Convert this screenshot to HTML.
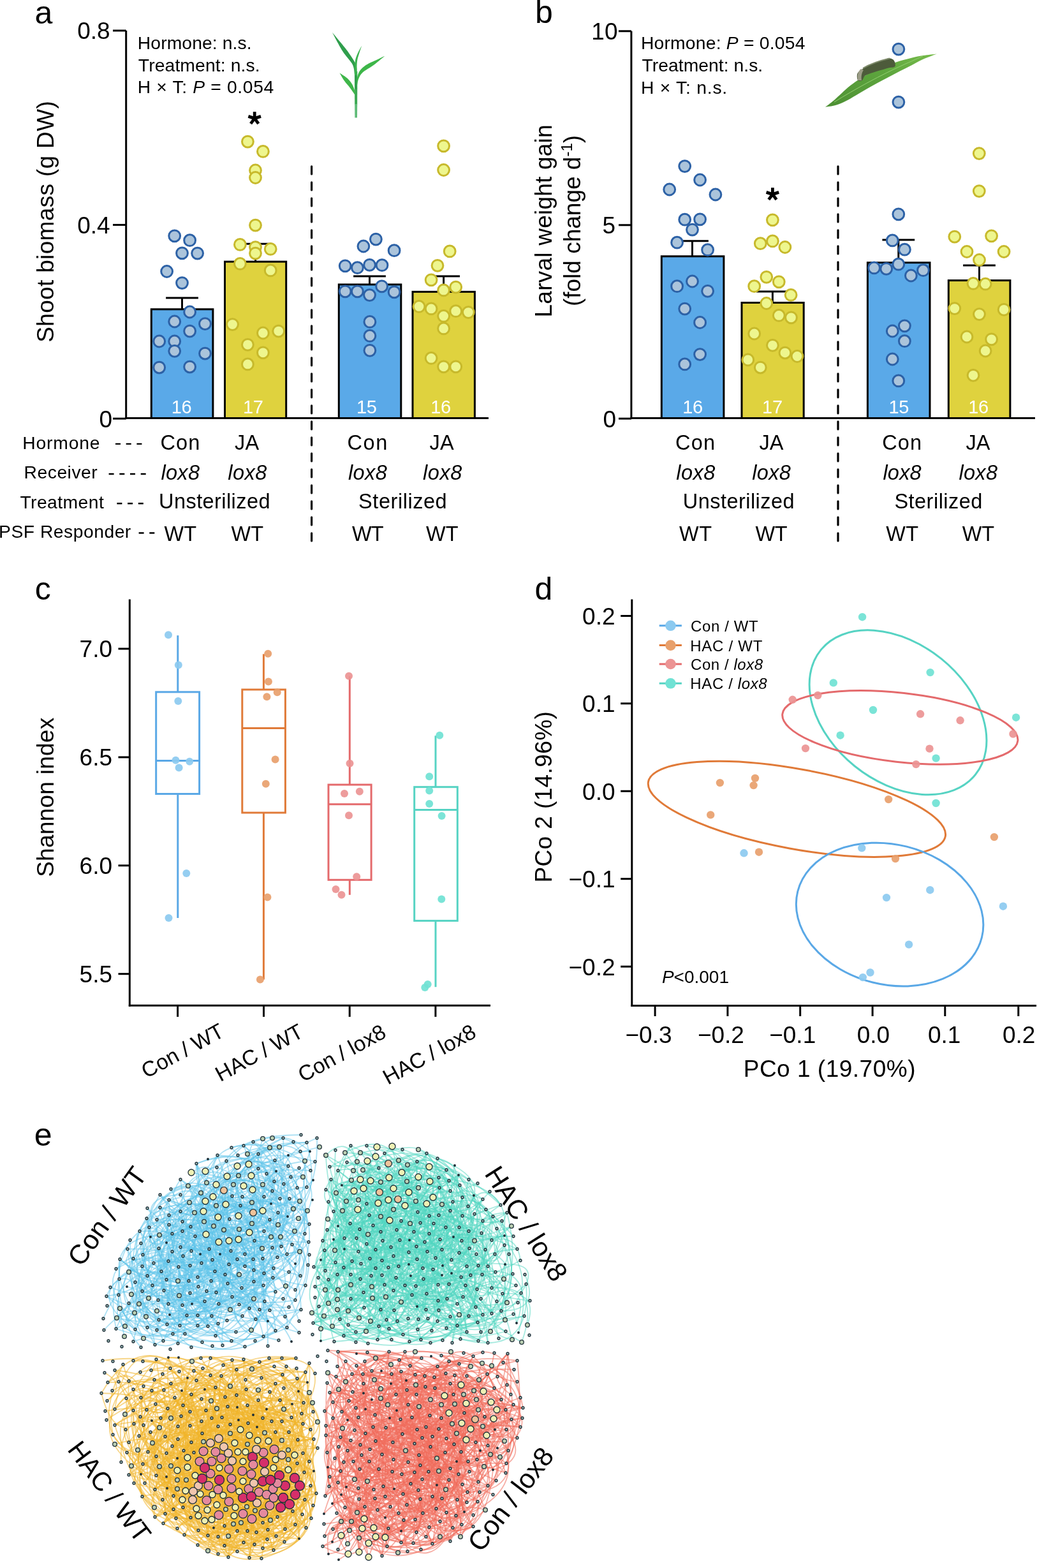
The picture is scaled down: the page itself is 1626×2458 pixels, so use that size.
<!DOCTYPE html>
<html><head><meta charset="utf-8"><title>Figure</title>
<style>html,body{margin:0;padding:0;background:#fff;} svg{display:block;}</style>
</head><body>
<svg width="1626" height="2458" viewBox="0 0 1626 2458" font-family="'Liberation Sans', Arial, sans-serif"><text x="54.6" y="36.5" font-size="50" fill="#000" >a</text>
<line x1="197.7" y1="48.0" x2="197.7" y2="657.0" stroke="#000" stroke-width="3" />
<line x1="177.0" y1="48.0" x2="197.7" y2="48.0" stroke="#000" stroke-width="3" />
<text x="172.6" y="61.3" font-size="37" text-anchor="end" fill="#000" >0.8</text>
<line x1="177.0" y1="352.5" x2="197.7" y2="352.5" stroke="#000" stroke-width="3" />
<text x="172.6" y="365.8" font-size="37" text-anchor="end" fill="#000" >0.4</text>
<line x1="177.0" y1="656.2" x2="197.7" y2="656.2" stroke="#000" stroke-width="3" />
<text x="176.0" y="669.5" font-size="37" text-anchor="end" fill="#000" >0</text>
<line x1="196.2" y1="655.5" x2="766.0" y2="655.5" stroke="#000" stroke-width="3" />
<text transform="translate(84.2,347.5) rotate(-90)" font-size="37" text-anchor="middle" textLength="378.5" lengthAdjust="spacing">Shoot biomass (g DW)</text>
<text x="215.8" y="76.8" font-size="28.3" textLength="178.8" lengthAdjust="spacing" fill="#000" >Hormone: n.s.</text>
<text x="216.8" y="111.8" font-size="28.3" textLength="190.8" lengthAdjust="spacing" fill="#000" >Treatment: n.s.</text>
<text x="215.8" y="146.4" font-size="28.3" textLength="213.5" lengthAdjust="spacing" fill="#000" >H × T: <tspan font-style="italic">P</tspan> = 0.054</text>
<rect x="237.3" y="484.8" width="96.6" height="170.7" fill="#5aa9e8" stroke="#000" stroke-width="3"/>
<rect x="352.5" y="410.2" width="96.2" height="245.3" fill="#dfd23e" stroke="#000" stroke-width="3"/>
<rect x="531.3" y="446.0" width="97.5" height="209.5" fill="#5aa9e8" stroke="#000" stroke-width="3"/>
<rect x="647.0" y="457.4" width="97.4" height="198.1" fill="#dfd23e" stroke="#000" stroke-width="3"/>
<line x1="285.5" y1="467.0" x2="285.5" y2="484.8" stroke="#000" stroke-width="3" />
<line x1="260.1" y1="467.0" x2="310.9" y2="467.0" stroke="#000" stroke-width="3" />
<line x1="400.6" y1="382.2" x2="400.6" y2="410.2" stroke="#000" stroke-width="3" />
<line x1="375.2" y1="382.2" x2="426.0" y2="382.2" stroke="#000" stroke-width="3" />
<line x1="579.5" y1="432.9" x2="579.5" y2="446.0" stroke="#000" stroke-width="3" />
<line x1="554.1" y1="432.9" x2="604.9" y2="432.9" stroke="#000" stroke-width="3" />
<line x1="695.6" y1="432.9" x2="695.6" y2="457.4" stroke="#000" stroke-width="3" />
<line x1="670.2" y1="432.9" x2="721.0" y2="432.9" stroke="#000" stroke-width="3" />
<text x="268.8" y="648.4" font-size="29" textLength="31.9" lengthAdjust="spacing" fill="#ffffff" >16</text>
<text x="380.9" y="648.4" font-size="29" textLength="32.1" lengthAdjust="spacing" fill="#ffffff" >17</text>
<text x="559.0" y="648.4" font-size="29" textLength="31.9" lengthAdjust="spacing" fill="#ffffff" >15</text>
<text x="675.2" y="648.4" font-size="29" textLength="31.9" lengthAdjust="spacing" fill="#ffffff" >16</text>
<circle cx="273.7" cy="369.8" r="8.9" fill="#abc4db" stroke="#2c61a6" stroke-width="3" />
<circle cx="297.6" cy="376.7" r="8.9" fill="#abc4db" stroke="#2c61a6" stroke-width="3" />
<circle cx="285.5" cy="396.8" r="8.9" fill="#abc4db" stroke="#2c61a6" stroke-width="3" />
<circle cx="309.6" cy="397.1" r="8.9" fill="#abc4db" stroke="#2c61a6" stroke-width="3" />
<circle cx="261.6" cy="425.5" r="8.9" fill="#abc4db" stroke="#2c61a6" stroke-width="3" />
<circle cx="285.5" cy="443.6" r="8.9" fill="#abc4db" stroke="#2c61a6" stroke-width="3" />
<circle cx="297.6" cy="489.0" r="8.9" fill="#abc4db" stroke="#2c61a6" stroke-width="3" />
<circle cx="273.7" cy="504.0" r="8.9" fill="#abc4db" stroke="#2c61a6" stroke-width="3" />
<circle cx="321.5" cy="507.6" r="8.9" fill="#abc4db" stroke="#2c61a6" stroke-width="3" />
<circle cx="297.6" cy="519.1" r="8.9" fill="#abc4db" stroke="#2c61a6" stroke-width="3" />
<circle cx="249.7" cy="535.0" r="8.9" fill="#abc4db" stroke="#2c61a6" stroke-width="3" />
<circle cx="273.7" cy="535.0" r="8.9" fill="#abc4db" stroke="#2c61a6" stroke-width="3" />
<circle cx="273.7" cy="550.3" r="8.9" fill="#abc4db" stroke="#2c61a6" stroke-width="3" />
<circle cx="321.5" cy="554.1" r="8.9" fill="#abc4db" stroke="#2c61a6" stroke-width="3" />
<circle cx="249.7" cy="576.1" r="8.9" fill="#abc4db" stroke="#2c61a6" stroke-width="3" />
<circle cx="297.6" cy="575.1" r="8.9" fill="#abc4db" stroke="#2c61a6" stroke-width="3" />
<circle cx="589.4" cy="375.1" r="8.9" fill="#abc4db" stroke="#2c61a6" stroke-width="3" />
<circle cx="569.9" cy="386.0" r="8.9" fill="#abc4db" stroke="#2c61a6" stroke-width="3" />
<circle cx="618.1" cy="392.7" r="8.9" fill="#abc4db" stroke="#2c61a6" stroke-width="3" />
<circle cx="541.2" cy="416.8" r="8.9" fill="#abc4db" stroke="#2c61a6" stroke-width="3" />
<circle cx="560.4" cy="419.7" r="8.9" fill="#abc4db" stroke="#2c61a6" stroke-width="3" />
<circle cx="579.5" cy="415.3" r="8.9" fill="#abc4db" stroke="#2c61a6" stroke-width="3" />
<circle cx="599.0" cy="415.7" r="8.9" fill="#abc4db" stroke="#2c61a6" stroke-width="3" />
<circle cx="598.6" cy="448.8" r="8.9" fill="#abc4db" stroke="#2c61a6" stroke-width="3" />
<circle cx="541.2" cy="456.8" r="8.9" fill="#abc4db" stroke="#2c61a6" stroke-width="3" />
<circle cx="560.4" cy="456.8" r="8.9" fill="#abc4db" stroke="#2c61a6" stroke-width="3" />
<circle cx="579.5" cy="462.6" r="8.9" fill="#abc4db" stroke="#2c61a6" stroke-width="3" />
<circle cx="618.1" cy="457.8" r="8.9" fill="#abc4db" stroke="#2c61a6" stroke-width="3" />
<circle cx="579.9" cy="504.4" r="8.9" fill="#abc4db" stroke="#2c61a6" stroke-width="3" />
<circle cx="579.9" cy="526.4" r="8.9" fill="#abc4db" stroke="#2c61a6" stroke-width="3" />
<circle cx="579.9" cy="549.3" r="8.9" fill="#abc4db" stroke="#2c61a6" stroke-width="3" />
<circle cx="388.4" cy="222.1" r="8.9" fill="#eef68e" stroke="#c7b92b" stroke-width="3" />
<circle cx="412.4" cy="237.4" r="8.9" fill="#eef68e" stroke="#c7b92b" stroke-width="3" />
<circle cx="400.5" cy="267.0" r="8.9" fill="#eef68e" stroke="#c7b92b" stroke-width="3" />
<circle cx="400.5" cy="278.5" r="8.9" fill="#eef68e" stroke="#c7b92b" stroke-width="3" />
<circle cx="400.5" cy="353.1" r="8.9" fill="#eef68e" stroke="#c7b92b" stroke-width="3" />
<circle cx="376.4" cy="383.4" r="8.9" fill="#eef68e" stroke="#c7b92b" stroke-width="3" />
<circle cx="400.5" cy="387.6" r="8.9" fill="#eef68e" stroke="#c7b92b" stroke-width="3" />
<circle cx="400.5" cy="397.1" r="8.9" fill="#eef68e" stroke="#c7b92b" stroke-width="3" />
<circle cx="424.2" cy="390.4" r="8.9" fill="#eef68e" stroke="#c7b92b" stroke-width="3" />
<circle cx="376.4" cy="413.4" r="8.9" fill="#eef68e" stroke="#c7b92b" stroke-width="3" />
<circle cx="424.2" cy="423.9" r="8.9" fill="#eef68e" stroke="#c7b92b" stroke-width="3" />
<circle cx="364.5" cy="508.6" r="8.9" fill="#eef68e" stroke="#c7b92b" stroke-width="3" />
<circle cx="412.4" cy="522.0" r="8.9" fill="#eef68e" stroke="#c7b92b" stroke-width="3" />
<circle cx="436.7" cy="519.1" r="8.9" fill="#eef68e" stroke="#c7b92b" stroke-width="3" />
<circle cx="388.4" cy="540.3" r="8.9" fill="#eef68e" stroke="#c7b92b" stroke-width="3" />
<circle cx="412.4" cy="552.8" r="8.9" fill="#eef68e" stroke="#c7b92b" stroke-width="3" />
<circle cx="388.4" cy="570.9" r="8.9" fill="#eef68e" stroke="#c7b92b" stroke-width="3" />
<circle cx="695.6" cy="228.8" r="8.9" fill="#eef68e" stroke="#c7b92b" stroke-width="3" />
<circle cx="695.6" cy="266.5" r="8.9" fill="#eef68e" stroke="#c7b92b" stroke-width="3" />
<circle cx="705.2" cy="393.9" r="8.9" fill="#eef68e" stroke="#c7b92b" stroke-width="3" />
<circle cx="686.0" cy="416.3" r="8.9" fill="#eef68e" stroke="#c7b92b" stroke-width="3" />
<circle cx="676.1" cy="438.8" r="8.9" fill="#eef68e" stroke="#c7b92b" stroke-width="3" />
<circle cx="714.7" cy="450.1" r="8.9" fill="#eef68e" stroke="#c7b92b" stroke-width="3" />
<circle cx="695.6" cy="454.9" r="8.9" fill="#eef68e" stroke="#c7b92b" stroke-width="3" />
<circle cx="657.0" cy="480.4" r="8.9" fill="#eef68e" stroke="#c7b92b" stroke-width="3" />
<circle cx="676.1" cy="483.9" r="8.9" fill="#eef68e" stroke="#c7b92b" stroke-width="3" />
<circle cx="695.6" cy="495.4" r="8.9" fill="#eef68e" stroke="#c7b92b" stroke-width="3" />
<circle cx="714.7" cy="487.7" r="8.9" fill="#eef68e" stroke="#c7b92b" stroke-width="3" />
<circle cx="734.4" cy="489.6" r="8.9" fill="#eef68e" stroke="#c7b92b" stroke-width="3" />
<circle cx="695.6" cy="514.9" r="8.9" fill="#eef68e" stroke="#c7b92b" stroke-width="3" />
<circle cx="676.1" cy="561.4" r="8.9" fill="#eef68e" stroke="#c7b92b" stroke-width="3" />
<circle cx="695.6" cy="574.8" r="8.9" fill="#eef68e" stroke="#c7b92b" stroke-width="3" />
<circle cx="714.7" cy="574.8" r="8.9" fill="#eef68e" stroke="#c7b92b" stroke-width="3" />
<path d="M399.2 185.6L399.2 175.3M399.2 185.6L409.0 182.4M399.2 185.6L405.3 193.9M399.2 185.6L393.1 193.9M399.2 185.6L389.4 182.4" stroke="#000" stroke-width="4.8" stroke-linecap="butt"/>
<line x1="488.6" y1="260.8" x2="488.6" y2="848.0" stroke="#000" stroke-width="3.2" stroke-dasharray="12.1 12.9" stroke-linecap="round"/>
<text x="35.2" y="703.9" font-size="28.3" textLength="121.4" lengthAdjust="spacing" fill="#000" >Hormone</text>
<text x="37.6" y="750.2" font-size="28.3" textLength="115.1" lengthAdjust="spacing" fill="#000" >Receiver</text>
<text x="31.4" y="797.2" font-size="28.3" textLength="131.4" lengthAdjust="spacing" fill="#000" >Treatment</text>
<text x="-1.9" y="843.4" font-size="28.3" textLength="207.2" lengthAdjust="spacing" fill="#000" >PSF Responder</text>
<line x1="181.0" y1="695.9" x2="223.2" y2="695.9" stroke="#000" stroke-width="2.4" stroke-dasharray="8 8.7"/>
<line x1="170.6" y1="743.0" x2="229.6" y2="743.0" stroke="#000" stroke-width="2.4" stroke-dasharray="8 8.7"/>
<line x1="183.4" y1="789.2" x2="225.6" y2="789.2" stroke="#000" stroke-width="2.4" stroke-dasharray="8 8.7"/>
<line x1="217.6" y1="835.5" x2="242.3" y2="835.5" stroke="#000" stroke-width="2.4" stroke-dasharray="8 8.7"/>
<text x="251.4" y="705.2" font-size="32.5" textLength="61.9" lengthAdjust="spacing" fill="#000" >Con</text>
<text x="368.0" y="705.2" font-size="32.5" textLength="38.3" lengthAdjust="spacing" fill="#000" >JA</text>
<text x="252.4" y="752.1" font-size="32.5" textLength="60.6" lengthAdjust="spacing" fill="#000" ><tspan font-style="italic">lox8</tspan></text>
<text x="357.2" y="752.1" font-size="32.5" textLength="61.1" lengthAdjust="spacing" fill="#000" ><tspan font-style="italic">lox8</tspan></text>
<text x="249.1" y="796.8" font-size="32.5" textLength="174.4" lengthAdjust="spacing" fill="#000" >Unsterilized</text>
<text x="257.6" y="848.2" font-size="32.5" textLength="50.5" lengthAdjust="spacing" fill="#000" >WT</text>
<text x="362.4" y="848.2" font-size="32.5" textLength="50.6" lengthAdjust="spacing" fill="#000" >WT</text>
<text x="544.6" y="705.2" font-size="32.5" textLength="62.7" lengthAdjust="spacing" fill="#000" >Con</text>
<text x="673.5" y="705.2" font-size="32.5" textLength="38.1" lengthAdjust="spacing" fill="#000" >JA</text>
<text x="545.9" y="752.1" font-size="32.5" textLength="60.9" lengthAdjust="spacing" fill="#000" ><tspan font-style="italic">lox8</tspan></text>
<text x="663.0" y="752.1" font-size="32.5" textLength="61.4" lengthAdjust="spacing" fill="#000" ><tspan font-style="italic">lox8</tspan></text>
<text x="562.1" y="796.8" font-size="32.5" textLength="138.6" lengthAdjust="spacing" fill="#000" >Sterilized</text>
<text x="551.9" y="848.2" font-size="32.5" textLength="49.6" lengthAdjust="spacing" fill="#000" >WT</text>
<text x="668.1" y="848.2" font-size="32.5" textLength="50.4" lengthAdjust="spacing" fill="#000" >WT</text>
<g>
<path d="M556 112L560.3 112L560.2 163.5L556.2 163.5Z" fill="#3aa852"/>
<path d="M556.2 163L560.2 163L560 184.6L556.4 184.6Z" fill="#5fbb78"/>
<path d="M521.0 50.7C523.1 54.7 530.3 68.5 533.7 74.4C537.1 80.3 538.1 81.4 541.3 85.9C544.5 90.4 550.4 96.1 552.8 101.2C555.2 106.3 555.3 110.1 555.9 116.5C556.5 122.9 556.5 135.7 556.6 139.5L560.1 139.5C560.0 135.7 560.0 122.9 559.7 116.5C559.4 110.1 559.9 106.3 558.1 101.2C556.3 96.1 551.9 90.4 549.0 85.9C546.1 81.4 545.3 80.3 540.6 74.4C535.9 68.5 524.3 54.7 521.0 50.7Z" fill="#2f9e4c"/>
<path d="M567.3 71.4C566.3 73.3 562.9 79.1 561.2 82.8C559.5 86.5 558.1 89.9 557.3 93.6C556.5 97.3 556.4 100.9 556.2 105.0C556.0 109.1 556.2 115.8 556.2 118.0L559.5 118.0C559.5 115.8 559.4 109.1 559.5 105.0C559.6 100.9 559.7 97.3 560.4 93.6C561.1 89.9 562.4 86.5 563.5 82.8C564.6 79.1 566.7 73.3 567.3 71.4Z" fill="#3bb34f"/>
<path d="M603.3 87.8C600.8 89.0 592.5 93.0 588.0 95.1C583.5 97.2 579.7 98.6 576.5 100.4C573.3 102.2 571.2 103.6 568.9 105.8C566.6 108.0 564.2 110.7 562.7 113.4C561.2 116.1 560.2 120.5 559.7 121.9L559.7 135.6C560.1 133.7 560.7 127.6 562.0 124.2C563.3 120.8 564.9 117.7 567.3 115.0C569.7 112.3 573.0 110.5 576.5 108.1C580.0 105.7 583.5 103.8 588.0 100.4C592.5 97.0 600.8 89.9 603.3 87.8Z" fill="#3db649"/>
<path d="M532.5 114.2C534.5 115.6 541.1 119.7 544.4 122.6C547.6 125.5 549.9 128.4 552.0 131.8C554.1 135.2 556.0 141.4 556.8 143.3L556.8 149.0C555.5 147.2 551.8 141.7 549.0 137.9C546.2 134.2 542.5 130.4 539.8 126.5C537.0 122.5 533.7 116.2 532.5 114.2Z" fill="#3fb64a"/>
</g>
<text x="839.0" y="36.3" font-size="50" fill="#000" >b</text>
<line x1="989.9" y1="48.8" x2="989.9" y2="657.0" stroke="#000" stroke-width="3" />
<line x1="970.0" y1="48.8" x2="989.9" y2="48.8" stroke="#000" stroke-width="3" />
<text x="968.5" y="62.1" font-size="37" text-anchor="end" fill="#000" >10</text>
<line x1="970.0" y1="352.8" x2="989.9" y2="352.8" stroke="#000" stroke-width="3" />
<text x="965.0" y="366.1" font-size="37" text-anchor="end" fill="#000" >5</text>
<line x1="970.0" y1="656.2" x2="989.9" y2="656.2" stroke="#000" stroke-width="3" />
<text x="966.0" y="669.5" font-size="37" text-anchor="end" fill="#000" >0</text>
<line x1="988.4" y1="655.5" x2="1623.0" y2="655.5" stroke="#000" stroke-width="3" />
<text transform="translate(864.7,346.4) rotate(-90)" font-size="37" text-anchor="middle" textLength="302.1" lengthAdjust="spacing">Larval weight gain</text>
<text transform="translate(909.9,346) rotate(-90)" font-size="37" text-anchor="middle">(fold change d<tspan font-size="24" dy="-13">-1</tspan><tspan dy="13">)</tspan></text>
<text x="1004.9" y="76.7" font-size="28.3" textLength="257.5" lengthAdjust="spacing" fill="#000" >Hormone: <tspan font-style="italic">P</tspan> = 0.054</text>
<text x="1006.6" y="111.6" font-size="28.3" textLength="189.6" lengthAdjust="spacing" fill="#000" >Treatment: n.s.</text>
<text x="1004.9" y="146.5" font-size="28.3" textLength="135.3" lengthAdjust="spacing" fill="#000" >H × T: n.s.</text>
<rect x="1037.3" y="401.8" width="97.6" height="253.7" fill="#5aa9e8" stroke="#000" stroke-width="3"/>
<rect x="1163.0" y="474.5" width="97.2" height="181.0" fill="#dfd23e" stroke="#000" stroke-width="3"/>
<rect x="1360.4" y="411.7" width="97.6" height="243.8" fill="#5aa9e8" stroke="#000" stroke-width="3"/>
<rect x="1487.3" y="439.6" width="96.6" height="215.9" fill="#dfd23e" stroke="#000" stroke-width="3"/>
<line x1="1085.5" y1="377.7" x2="1085.5" y2="401.8" stroke="#000" stroke-width="3" />
<line x1="1060.1" y1="377.7" x2="1110.9" y2="377.7" stroke="#000" stroke-width="3" />
<line x1="1211.4" y1="457.1" x2="1211.4" y2="474.5" stroke="#000" stroke-width="3" />
<line x1="1186.0" y1="457.1" x2="1236.8" y2="457.1" stroke="#000" stroke-width="3" />
<line x1="1408.8" y1="375.9" x2="1408.8" y2="411.7" stroke="#000" stroke-width="3" />
<line x1="1383.4" y1="375.9" x2="1434.2" y2="375.9" stroke="#000" stroke-width="3" />
<line x1="1535.5" y1="416.1" x2="1535.5" y2="439.6" stroke="#000" stroke-width="3" />
<line x1="1510.1" y1="416.1" x2="1560.9" y2="416.1" stroke="#000" stroke-width="3" />
<text x="1070.2" y="648.4" font-size="29" textLength="31.9" lengthAdjust="spacing" fill="#ffffff" >16</text>
<text x="1195.0" y="648.4" font-size="29" textLength="32.1" lengthAdjust="spacing" fill="#ffffff" >17</text>
<text x="1393.5" y="648.4" font-size="29" textLength="31.9" lengthAdjust="spacing" fill="#ffffff" >15</text>
<text x="1518.2" y="648.4" font-size="29" textLength="31.9" lengthAdjust="spacing" fill="#ffffff" >16</text>
<defs><linearGradient id="lg" x1="0" y1="1" x2="1" y2="0"><stop offset="0" stop-color="#4c8f33"/><stop offset="0.6" stop-color="#5ea63e"/><stop offset="1" stop-color="#76bb4a"/></linearGradient></defs>
<path d="M1294.2 167.7C1295.9 166.4 1300.8 162.9 1304.5 159.8C1308.2 156.7 1312.5 152.7 1316.7 148.9C1321.0 145.1 1325.4 140.6 1330.0 136.8C1334.6 133.0 1339.0 129.5 1344.5 125.9C1350.0 122.3 1356.4 118.4 1362.7 115.0C1369.0 111.6 1375.0 108.2 1382.1 105.3C1389.2 102.4 1397.2 99.8 1405.1 97.4C1413.0 95.0 1422.2 92.5 1429.3 90.8C1436.4 89.1 1440.9 88.1 1447.5 87.1C1454.1 86.0 1465.2 84.9 1468.7 84.5L1468.7 84.5C1464.9 86.0 1452.6 90.5 1446.0 93.5C1439.4 96.5 1434.8 99.5 1429.0 102.5C1423.2 105.5 1417.0 108.4 1411.0 111.5C1405.0 114.6 1399.0 117.8 1393.0 121.0C1387.0 124.2 1380.8 127.3 1375.0 130.5C1369.2 133.7 1363.5 136.8 1358.0 140.0C1352.5 143.2 1347.3 146.4 1342.0 149.5C1336.7 152.6 1331.3 155.9 1326.0 158.5C1320.7 161.1 1315.3 163.5 1310.0 165.0C1304.7 166.5 1296.8 167.2 1294.2 167.7Z" fill="url(#lg)"/>
<path d="M1308 160C1340 140 1380 118 1420 100C1432 95 1440 91 1447 88" stroke="#93cf70" stroke-width="1" fill="none"/>
<path d="M1345.1 125.9C1343.9 124.1 1343.2 118.0 1344.5 115.0C1345.8 112.0 1350.0 109.8 1353.0 107.7C1356.0 105.6 1359.1 104.0 1362.7 102.3C1366.3 100.6 1370.8 98.9 1374.8 97.4C1378.8 95.9 1383.5 94.2 1386.9 93.2C1390.3 92.2 1393.0 91.2 1395.4 91.4C1397.8 91.6 1400.1 92.7 1401.5 94.4C1402.9 96.1 1403.9 99.9 1403.9 101.7C1403.9 103.5 1403.3 104.5 1401.5 105.3C1399.7 106.1 1396.4 105.7 1393.0 106.5C1389.6 107.3 1384.9 108.9 1380.9 110.1C1376.9 111.3 1372.8 112.4 1368.8 113.8C1364.8 115.2 1359.4 116.6 1356.6 118.6C1353.8 120.6 1353.7 124.7 1351.8 125.9C1349.9 127.1 1346.3 127.7 1345.1 125.9Z" fill="#4d5b3b"/>
<path d="M1345 126C1344 118 1345 112 1350 108L1354 110C1351 114 1350 120 1351 126Z" fill="#9c9d88"/>
<path d="M1353 107C1365 100 1380 95 1395 91.5" stroke="#7d8a6a" stroke-width="2" fill="none"/>
<circle cx="1073.7" cy="260.6" r="8.9" fill="#abc4db" stroke="#2c61a6" stroke-width="3" />
<circle cx="1097.6" cy="282.0" r="8.9" fill="#abc4db" stroke="#2c61a6" stroke-width="3" />
<circle cx="1049.7" cy="297.0" r="8.9" fill="#abc4db" stroke="#2c61a6" stroke-width="3" />
<circle cx="1121.9" cy="305.0" r="8.9" fill="#abc4db" stroke="#2c61a6" stroke-width="3" />
<circle cx="1073.7" cy="344.2" r="8.9" fill="#abc4db" stroke="#2c61a6" stroke-width="3" />
<circle cx="1097.6" cy="343.8" r="8.9" fill="#abc4db" stroke="#2c61a6" stroke-width="3" />
<circle cx="1085.5" cy="360.1" r="8.9" fill="#abc4db" stroke="#2c61a6" stroke-width="3" />
<circle cx="1061.6" cy="380.2" r="8.9" fill="#abc4db" stroke="#2c61a6" stroke-width="3" />
<circle cx="1109.6" cy="391.7" r="8.9" fill="#abc4db" stroke="#2c61a6" stroke-width="3" />
<circle cx="1061.6" cy="448.7" r="8.9" fill="#abc4db" stroke="#2c61a6" stroke-width="3" />
<circle cx="1085.5" cy="441.0" r="8.9" fill="#abc4db" stroke="#2c61a6" stroke-width="3" />
<circle cx="1109.6" cy="456.3" r="8.9" fill="#abc4db" stroke="#2c61a6" stroke-width="3" />
<circle cx="1073.7" cy="484.1" r="8.9" fill="#abc4db" stroke="#2c61a6" stroke-width="3" />
<circle cx="1097.6" cy="505.5" r="8.9" fill="#abc4db" stroke="#2c61a6" stroke-width="3" />
<circle cx="1097.6" cy="555.6" r="8.9" fill="#abc4db" stroke="#2c61a6" stroke-width="3" />
<circle cx="1073.7" cy="570.9" r="8.9" fill="#abc4db" stroke="#2c61a6" stroke-width="3" />
<circle cx="1408.9" cy="77.1" r="8.9" fill="#abc4db" stroke="#2c61a6" stroke-width="3" />
<circle cx="1408.9" cy="160.1" r="8.9" fill="#abc4db" stroke="#2c61a6" stroke-width="3" />
<circle cx="1408.8" cy="335.8" r="8.9" fill="#abc4db" stroke="#2c61a6" stroke-width="3" />
<circle cx="1399.3" cy="376.9" r="8.9" fill="#abc4db" stroke="#2c61a6" stroke-width="3" />
<circle cx="1418.4" cy="391.2" r="8.9" fill="#abc4db" stroke="#2c61a6" stroke-width="3" />
<circle cx="1408.8" cy="414.2" r="8.9" fill="#abc4db" stroke="#2c61a6" stroke-width="3" />
<circle cx="1370.6" cy="419.9" r="8.9" fill="#abc4db" stroke="#2c61a6" stroke-width="3" />
<circle cx="1389.7" cy="421.3" r="8.9" fill="#abc4db" stroke="#2c61a6" stroke-width="3" />
<circle cx="1428.4" cy="432.0" r="8.9" fill="#abc4db" stroke="#2c61a6" stroke-width="3" />
<circle cx="1447.5" cy="423.7" r="8.9" fill="#abc4db" stroke="#2c61a6" stroke-width="3" />
<circle cx="1418.4" cy="510.8" r="8.9" fill="#abc4db" stroke="#2c61a6" stroke-width="3" />
<circle cx="1399.3" cy="519.0" r="8.9" fill="#abc4db" stroke="#2c61a6" stroke-width="3" />
<circle cx="1418.4" cy="534.7" r="8.9" fill="#abc4db" stroke="#2c61a6" stroke-width="3" />
<circle cx="1399.3" cy="563.0" r="8.9" fill="#abc4db" stroke="#2c61a6" stroke-width="3" />
<circle cx="1408.8" cy="596.9" r="8.9" fill="#abc4db" stroke="#2c61a6" stroke-width="3" />
<circle cx="1211.4" cy="344.8" r="8.9" fill="#eef68e" stroke="#c7b92b" stroke-width="3" />
<circle cx="1192.3" cy="381.7" r="8.9" fill="#eef68e" stroke="#c7b92b" stroke-width="3" />
<circle cx="1211.4" cy="377.9" r="8.9" fill="#eef68e" stroke="#c7b92b" stroke-width="3" />
<circle cx="1230.9" cy="387.5" r="8.9" fill="#eef68e" stroke="#c7b92b" stroke-width="3" />
<circle cx="1201.8" cy="434.3" r="8.9" fill="#eef68e" stroke="#c7b92b" stroke-width="3" />
<circle cx="1221.3" cy="441.8" r="8.9" fill="#eef68e" stroke="#c7b92b" stroke-width="3" />
<circle cx="1182.7" cy="448.7" r="8.9" fill="#eef68e" stroke="#c7b92b" stroke-width="3" />
<circle cx="1240.1" cy="462.4" r="8.9" fill="#eef68e" stroke="#c7b92b" stroke-width="3" />
<circle cx="1201.8" cy="475.5" r="8.9" fill="#eef68e" stroke="#c7b92b" stroke-width="3" />
<circle cx="1221.3" cy="494.4" r="8.9" fill="#eef68e" stroke="#c7b92b" stroke-width="3" />
<circle cx="1240.5" cy="497.8" r="8.9" fill="#eef68e" stroke="#c7b92b" stroke-width="3" />
<circle cx="1182.7" cy="523.0" r="8.9" fill="#eef68e" stroke="#c7b92b" stroke-width="3" />
<circle cx="1211.4" cy="541.3" r="8.9" fill="#eef68e" stroke="#c7b92b" stroke-width="3" />
<circle cx="1230.9" cy="553.1" r="8.9" fill="#eef68e" stroke="#c7b92b" stroke-width="3" />
<circle cx="1250.0" cy="558.5" r="8.9" fill="#eef68e" stroke="#c7b92b" stroke-width="3" />
<circle cx="1172.8" cy="564.0" r="8.9" fill="#eef68e" stroke="#c7b92b" stroke-width="3" />
<circle cx="1192.3" cy="576.1" r="8.9" fill="#eef68e" stroke="#c7b92b" stroke-width="3" />
<circle cx="1535.3" cy="240.6" r="8.9" fill="#eef68e" stroke="#c7b92b" stroke-width="3" />
<circle cx="1535.3" cy="299.6" r="8.9" fill="#eef68e" stroke="#c7b92b" stroke-width="3" />
<circle cx="1496.8" cy="371.1" r="8.9" fill="#eef68e" stroke="#c7b92b" stroke-width="3" />
<circle cx="1554.6" cy="369.8" r="8.9" fill="#eef68e" stroke="#c7b92b" stroke-width="3" />
<circle cx="1516.0" cy="394.5" r="8.9" fill="#eef68e" stroke="#c7b92b" stroke-width="3" />
<circle cx="1574.1" cy="394.5" r="8.9" fill="#eef68e" stroke="#c7b92b" stroke-width="3" />
<circle cx="1535.5" cy="407.5" r="8.9" fill="#eef68e" stroke="#c7b92b" stroke-width="3" />
<circle cx="1526.0" cy="444.4" r="8.9" fill="#eef68e" stroke="#c7b92b" stroke-width="3" />
<circle cx="1545.1" cy="445.2" r="8.9" fill="#eef68e" stroke="#c7b92b" stroke-width="3" />
<circle cx="1496.8" cy="483.6" r="8.9" fill="#eef68e" stroke="#c7b92b" stroke-width="3" />
<circle cx="1535.5" cy="492.6" r="8.9" fill="#eef68e" stroke="#c7b92b" stroke-width="3" />
<circle cx="1574.1" cy="485.3" r="8.9" fill="#eef68e" stroke="#c7b92b" stroke-width="3" />
<circle cx="1516.0" cy="528.0" r="8.9" fill="#eef68e" stroke="#c7b92b" stroke-width="3" />
<circle cx="1554.6" cy="531.8" r="8.9" fill="#eef68e" stroke="#c7b92b" stroke-width="3" />
<circle cx="1545.1" cy="550.0" r="8.9" fill="#eef68e" stroke="#c7b92b" stroke-width="3" />
<circle cx="1526.0" cy="588.3" r="8.9" fill="#eef68e" stroke="#c7b92b" stroke-width="3" />
<path d="M1211.4 304.6L1211.4 294.3M1211.4 304.6L1221.2 301.4M1211.4 304.6L1217.5 312.9M1211.4 304.6L1205.3 312.9M1211.4 304.6L1201.6 301.4" stroke="#000" stroke-width="4.8" stroke-linecap="butt"/>
<line x1="1314.0" y1="260.8" x2="1314.0" y2="848.0" stroke="#000" stroke-width="3.2" stroke-dasharray="12.1 12.9" stroke-linecap="round"/>
<text x="1059.0" y="705.2" font-size="32.5" textLength="62.0" lengthAdjust="spacing" fill="#000" >Con</text>
<text x="1190.4" y="705.2" font-size="32.5" textLength="38.0" lengthAdjust="spacing" fill="#000" >JA</text>
<text x="1060.2" y="752.1" font-size="32.5" textLength="61.1" lengthAdjust="spacing" fill="#000" ><tspan font-style="italic">lox8</tspan></text>
<text x="1179.3" y="752.1" font-size="32.5" textLength="60.6" lengthAdjust="spacing" fill="#000" ><tspan font-style="italic">lox8</tspan></text>
<text x="1070.7" y="796.8" font-size="32.5" textLength="174.9" lengthAdjust="spacing" fill="#000" >Unsterilized</text>
<text x="1065.0" y="848.2" font-size="32.5" textLength="51.0" lengthAdjust="spacing" fill="#000" >WT</text>
<text x="1184.5" y="848.2" font-size="32.5" textLength="50.0" lengthAdjust="spacing" fill="#000" >WT</text>
<text x="1383.2" y="705.2" font-size="32.5" textLength="61.9" lengthAdjust="spacing" fill="#000" >Con</text>
<text x="1514.5" y="705.2" font-size="32.5" textLength="38.0" lengthAdjust="spacing" fill="#000" >JA</text>
<text x="1384.4" y="752.1" font-size="32.5" textLength="60.3" lengthAdjust="spacing" fill="#000" ><tspan font-style="italic">lox8</tspan></text>
<text x="1503.4" y="752.1" font-size="32.5" textLength="60.6" lengthAdjust="spacing" fill="#000" ><tspan font-style="italic">lox8</tspan></text>
<text x="1402.4" y="796.8" font-size="32.5" textLength="138.0" lengthAdjust="spacing" fill="#000" >Sterilized</text>
<text x="1389.2" y="848.2" font-size="32.5" textLength="50.9" lengthAdjust="spacing" fill="#000" >WT</text>
<text x="1508.7" y="848.2" font-size="32.5" textLength="50.5" lengthAdjust="spacing" fill="#000" >WT</text>
<text x="54.8" y="940.3" font-size="50" fill="#000" >c</text>
<line x1="203.3" y1="939.4" x2="203.3" y2="1577.8" stroke="#000" stroke-width="3" />
<line x1="201.8" y1="1576.3" x2="769.0" y2="1576.3" stroke="#000" stroke-width="3" />
<line x1="185.5" y1="1017.0" x2="203.3" y2="1017.0" stroke="#000" stroke-width="3" />
<text x="176.0" y="1030.3" font-size="37" text-anchor="end" fill="#000" >7.0</text>
<line x1="185.5" y1="1187.0" x2="203.3" y2="1187.0" stroke="#000" stroke-width="3" />
<text x="176.0" y="1200.3" font-size="37" text-anchor="end" fill="#000" >6.5</text>
<line x1="185.5" y1="1356.8" x2="203.3" y2="1356.8" stroke="#000" stroke-width="3" />
<text x="176.0" y="1370.1" font-size="37" text-anchor="end" fill="#000" >6.0</text>
<line x1="185.5" y1="1526.7" x2="203.3" y2="1526.7" stroke="#000" stroke-width="3" />
<text x="176.0" y="1540.0" font-size="37" text-anchor="end" fill="#000" >5.5</text>
<line x1="278.6" y1="1576.3" x2="278.6" y2="1594.0" stroke="#000" stroke-width="3" />
<line x1="413.5" y1="1576.3" x2="413.5" y2="1594.0" stroke="#000" stroke-width="3" />
<line x1="548.2" y1="1576.3" x2="548.2" y2="1594.0" stroke="#000" stroke-width="3" />
<line x1="682.9" y1="1576.3" x2="682.9" y2="1594.0" stroke="#000" stroke-width="3" />
<text transform="translate(84.3,1249.85) rotate(-90)" font-size="37" text-anchor="middle" textLength="250.0" lengthAdjust="spacing">Shannon index</text>
<line x1="278.8" y1="996.1" x2="278.8" y2="1084.8" stroke="#5aa8e6" stroke-width="3" />
<line x1="278.8" y1="1244.5" x2="278.8" y2="1439.0" stroke="#5aa8e6" stroke-width="3" />
<rect x="244.7" y="1084.8" width="67.9" height="159.7" fill="none" stroke="#5aa8e6" stroke-width="3"/>
<line x1="244.7" y1="1192.5" x2="312.6" y2="1192.5" stroke="#5aa8e6" stroke-width="3" />
<line x1="413.4" y1="1025.3" x2="413.4" y2="1081.0" stroke="#e07a38" stroke-width="3" />
<line x1="413.4" y1="1274.0" x2="413.4" y2="1535.5" stroke="#e07a38" stroke-width="3" />
<rect x="379.8" y="1081.0" width="67.6" height="193.0" fill="none" stroke="#e07a38" stroke-width="3"/>
<line x1="379.8" y1="1141.4" x2="447.4" y2="1141.4" stroke="#e07a38" stroke-width="3" />
<line x1="548.3" y1="1060.2" x2="548.3" y2="1230.1" stroke="#e46a6c" stroke-width="3" />
<line x1="548.3" y1="1379.3" x2="548.3" y2="1402.8" stroke="#e46a6c" stroke-width="3" />
<rect x="515.0" y="1230.1" width="67.1" height="149.2" fill="none" stroke="#e46a6c" stroke-width="3"/>
<line x1="515.0" y1="1260.7" x2="582.1" y2="1260.7" stroke="#e46a6c" stroke-width="3" />
<line x1="683.0" y1="1153.3" x2="683.0" y2="1233.7" stroke="#56d3c3" stroke-width="3" />
<line x1="683.0" y1="1443.4" x2="683.0" y2="1547.2" stroke="#56d3c3" stroke-width="3" />
<rect x="649.7" y="1233.7" width="67.6" height="209.7" fill="none" stroke="#56d3c3" stroke-width="3"/>
<line x1="649.7" y1="1269.4" x2="717.3" y2="1269.4" stroke="#56d3c3" stroke-width="3" />
<circle cx="264.0" cy="995.3" r="6" fill="#8ccaf0" stroke="none" stroke-width="0" fill-opacity="0.92"/>
<circle cx="279.8" cy="1042.5" r="6" fill="#8ccaf0" stroke="none" stroke-width="0" fill-opacity="0.92"/>
<circle cx="279.3" cy="1098.9" r="6" fill="#8ccaf0" stroke="none" stroke-width="0" fill-opacity="0.92"/>
<circle cx="275.5" cy="1191.7" r="6" fill="#8ccaf0" stroke="none" stroke-width="0" fill-opacity="0.92"/>
<circle cx="297.2" cy="1193.8" r="6" fill="#8ccaf0" stroke="none" stroke-width="0" fill-opacity="0.92"/>
<circle cx="280.6" cy="1203.5" r="6" fill="#8ccaf0" stroke="none" stroke-width="0" fill-opacity="0.92"/>
<circle cx="292.3" cy="1368.9" r="6" fill="#8ccaf0" stroke="none" stroke-width="0" fill-opacity="0.92"/>
<circle cx="264.5" cy="1439.0" r="6" fill="#8ccaf0" stroke="none" stroke-width="0" fill-opacity="0.92"/>
<circle cx="420.2" cy="1024.7" r="6" fill="#e8a06c" stroke="none" stroke-width="0" fill-opacity="0.92"/>
<circle cx="420.9" cy="1068.6" r="6" fill="#e8a06c" stroke="none" stroke-width="0" fill-opacity="0.92"/>
<circle cx="418.4" cy="1092.3" r="6" fill="#e8a06c" stroke="none" stroke-width="0" fill-opacity="0.92"/>
<circle cx="434.7" cy="1085.2" r="6" fill="#e8a06c" stroke="none" stroke-width="0" fill-opacity="0.92"/>
<circle cx="431.6" cy="1190.6" r="6" fill="#e8a06c" stroke="none" stroke-width="0" fill-opacity="0.92"/>
<circle cx="416.8" cy="1228.8" r="6" fill="#e8a06c" stroke="none" stroke-width="0" fill-opacity="0.92"/>
<circle cx="419.4" cy="1406.6" r="6" fill="#e8a06c" stroke="none" stroke-width="0" fill-opacity="0.92"/>
<circle cx="407.9" cy="1535.5" r="6" fill="#e8a06c" stroke="none" stroke-width="0" fill-opacity="0.92"/>
<circle cx="547.0" cy="1059.7" r="6" fill="#ec9494" stroke="none" stroke-width="0" fill-opacity="0.92"/>
<circle cx="548.5" cy="1196.7" r="6" fill="#ec9494" stroke="none" stroke-width="0" fill-opacity="0.92"/>
<circle cx="540.0" cy="1243.9" r="6" fill="#ec9494" stroke="none" stroke-width="0" fill-opacity="0.92"/>
<circle cx="563.8" cy="1240.8" r="6" fill="#ec9494" stroke="none" stroke-width="0" fill-opacity="0.92"/>
<circle cx="547.0" cy="1278.3" r="6" fill="#ec9494" stroke="none" stroke-width="0" fill-opacity="0.92"/>
<circle cx="559.2" cy="1374.2" r="6" fill="#ec9494" stroke="none" stroke-width="0" fill-opacity="0.92"/>
<circle cx="526.5" cy="1393.9" r="6" fill="#ec9494" stroke="none" stroke-width="0" fill-opacity="0.92"/>
<circle cx="535.5" cy="1402.8" r="6" fill="#ec9494" stroke="none" stroke-width="0" fill-opacity="0.92"/>
<circle cx="689.3" cy="1152.8" r="6" fill="#70e2d4" stroke="none" stroke-width="0" fill-opacity="0.92"/>
<circle cx="673.2" cy="1217.3" r="6" fill="#70e2d4" stroke="none" stroke-width="0" fill-opacity="0.92"/>
<circle cx="673.2" cy="1239.5" r="6" fill="#70e2d4" stroke="none" stroke-width="0" fill-opacity="0.92"/>
<circle cx="673.2" cy="1260.0" r="6" fill="#70e2d4" stroke="none" stroke-width="0" fill-opacity="0.92"/>
<circle cx="692.6" cy="1279.1" r="6" fill="#70e2d4" stroke="none" stroke-width="0" fill-opacity="0.92"/>
<circle cx="692.3" cy="1409.4" r="6" fill="#70e2d4" stroke="none" stroke-width="0" fill-opacity="0.92"/>
<circle cx="670.7" cy="1542.9" r="6" fill="#70e2d4" stroke="none" stroke-width="0" fill-opacity="0.92"/>
<circle cx="666.3" cy="1548.0" r="6" fill="#70e2d4" stroke="none" stroke-width="0" fill-opacity="0.92"/>
<text transform="translate(286.3,1647.6) rotate(-28.5)" font-size="33.5" text-anchor="middle" dy="11">Con / WT</text>
<text transform="translate(406.6,1650.6) rotate(-28.5)" font-size="33.5" text-anchor="middle" dy="11">HAC / WT</text>
<text transform="translate(536.2,1651.3) rotate(-28.5)" font-size="33.5" text-anchor="middle" dy="11">Con / lox8</text>
<text transform="translate(673.3,1653.2) rotate(-28.5)" font-size="33.5" text-anchor="middle" dy="11">HAC / lox8</text>
<text x="838.6" y="940.3" font-size="50" fill="#000" >d</text>
<line x1="990.8" y1="939.4" x2="990.8" y2="1578.0" stroke="#000" stroke-width="3" />
<line x1="989.3" y1="1576.5" x2="1625.0" y2="1576.5" stroke="#000" stroke-width="3" />
<line x1="973.2" y1="965.5" x2="990.8" y2="965.5" stroke="#000" stroke-width="3" />
<text x="964.5" y="978.8" font-size="37" text-anchor="end" fill="#000" >0.2</text>
<line x1="973.2" y1="1102.8" x2="990.8" y2="1102.8" stroke="#000" stroke-width="3" />
<text x="964.5" y="1116.1" font-size="37" text-anchor="end" fill="#000" >0.1</text>
<line x1="973.2" y1="1240.2" x2="990.8" y2="1240.2" stroke="#000" stroke-width="3" />
<text x="964.5" y="1253.5" font-size="37" text-anchor="end" fill="#000" >0.0</text>
<line x1="973.2" y1="1377.7" x2="990.8" y2="1377.7" stroke="#000" stroke-width="3" />
<text x="964.5" y="1391.0" font-size="37" text-anchor="end" fill="#000" >−0.1</text>
<line x1="973.2" y1="1515.2" x2="990.8" y2="1515.2" stroke="#000" stroke-width="3" />
<text x="964.5" y="1528.5" font-size="37" text-anchor="end" fill="#000" >−0.2</text>
<line x1="1027.1" y1="1576.5" x2="1027.1" y2="1593.0" stroke="#000" stroke-width="3" />
<line x1="1140.9" y1="1576.5" x2="1140.9" y2="1593.0" stroke="#000" stroke-width="3" />
<line x1="1254.7" y1="1576.5" x2="1254.7" y2="1593.0" stroke="#000" stroke-width="3" />
<line x1="1368.1" y1="1576.5" x2="1368.1" y2="1593.0" stroke="#000" stroke-width="3" />
<line x1="1481.8" y1="1576.5" x2="1481.8" y2="1593.0" stroke="#000" stroke-width="3" />
<line x1="1596.8" y1="1576.5" x2="1596.8" y2="1593.0" stroke="#000" stroke-width="3" />
<text x="1017.0" y="1635.0" font-size="37" text-anchor="middle" fill="#000" >−0.3</text>
<text x="1130.4" y="1635.0" font-size="37" text-anchor="middle" fill="#000" >−0.2</text>
<text x="1242.7" y="1635.0" font-size="37" text-anchor="middle" fill="#000" >−0.1</text>
<text x="1369.4" y="1635.0" font-size="37" text-anchor="middle" fill="#000" >0.0</text>
<text x="1480.6" y="1635.0" font-size="37" text-anchor="middle" fill="#000" >0.1</text>
<text x="1597.6" y="1635.0" font-size="37" text-anchor="middle" fill="#000" >0.2</text>
<text x="1165.7" y="1687.7" font-size="37" textLength="269.8" lengthAdjust="spacing" fill="#000" >PCo 1 (19.70%)</text>
<text transform="translate(864.5,1249.4) rotate(-90)" font-size="37" text-anchor="middle" textLength="268.4" lengthAdjust="spacing">PCo 2 (14.96%)</text>
<ellipse cx="1408.05" cy="1116.85" rx="155.67" ry="108.14" transform="rotate(38.88 1408.05 1116.85)" fill="none" stroke="#56d3c3" stroke-width="3"/>
<ellipse cx="1411.34" cy="1140.38" rx="185.7" ry="54.14" transform="rotate(6.47 1411.34 1140.38)" fill="none" stroke="#e46a6c" stroke-width="3"/>
<ellipse cx="1249.43" cy="1268.3" rx="236.78" ry="62.65" transform="rotate(10.4 1249.43 1268.3)" fill="none" stroke="#e07a38" stroke-width="3"/>
<ellipse cx="1395.11" cy="1433.58" rx="148.77" ry="109.77" transform="rotate(14.06 1395.11 1433.58)" fill="none" stroke="#5aa8e6" stroke-width="3"/>
<circle cx="1352.1" cy="967.2" r="6.2" fill="#70e2d4" stroke="none" stroke-width="0" fill-opacity="0.92"/>
<circle cx="1458.6" cy="1054.1" r="6.2" fill="#70e2d4" stroke="none" stroke-width="0" fill-opacity="0.92"/>
<circle cx="1306.8" cy="1070.4" r="6.2" fill="#70e2d4" stroke="none" stroke-width="0" fill-opacity="0.92"/>
<circle cx="1369.0" cy="1113.0" r="6.2" fill="#70e2d4" stroke="none" stroke-width="0" fill-opacity="0.92"/>
<circle cx="1317.6" cy="1152.7" r="6.2" fill="#70e2d4" stroke="none" stroke-width="0" fill-opacity="0.92"/>
<circle cx="1593.1" cy="1124.7" r="6.2" fill="#70e2d4" stroke="none" stroke-width="0" fill-opacity="0.92"/>
<circle cx="1467.6" cy="1188.6" r="6.2" fill="#70e2d4" stroke="none" stroke-width="0" fill-opacity="0.92"/>
<circle cx="1467.6" cy="1259.0" r="6.2" fill="#70e2d4" stroke="none" stroke-width="0" fill-opacity="0.92"/>
<circle cx="1242.7" cy="1096.8" r="6.2" fill="#ec9494" stroke="none" stroke-width="0" fill-opacity="0.92"/>
<circle cx="1282.3" cy="1090.0" r="6.2" fill="#ec9494" stroke="none" stroke-width="0" fill-opacity="0.92"/>
<circle cx="1443.1" cy="1119.3" r="6.2" fill="#ec9494" stroke="none" stroke-width="0" fill-opacity="0.92"/>
<circle cx="1505.6" cy="1129.3" r="6.2" fill="#ec9494" stroke="none" stroke-width="0" fill-opacity="0.92"/>
<circle cx="1588.5" cy="1150.5" r="6.2" fill="#ec9494" stroke="none" stroke-width="0" fill-opacity="0.92"/>
<circle cx="1263.0" cy="1173.1" r="6.2" fill="#ec9494" stroke="none" stroke-width="0" fill-opacity="0.92"/>
<circle cx="1457.5" cy="1173.6" r="6.2" fill="#ec9494" stroke="none" stroke-width="0" fill-opacity="0.92"/>
<circle cx="1436.3" cy="1198.1" r="6.2" fill="#ec9494" stroke="none" stroke-width="0" fill-opacity="0.92"/>
<circle cx="1128.9" cy="1227.1" r="6.2" fill="#e8a06c" stroke="none" stroke-width="0" fill-opacity="0.92"/>
<circle cx="1184.0" cy="1219.9" r="6.2" fill="#e8a06c" stroke="none" stroke-width="0" fill-opacity="0.92"/>
<circle cx="1181.6" cy="1231.1" r="6.2" fill="#e8a06c" stroke="none" stroke-width="0" fill-opacity="0.92"/>
<circle cx="1114.2" cy="1277.4" r="6.2" fill="#e8a06c" stroke="none" stroke-width="0" fill-opacity="0.92"/>
<circle cx="1393.2" cy="1253.1" r="6.2" fill="#e8a06c" stroke="none" stroke-width="0" fill-opacity="0.92"/>
<circle cx="1190.0" cy="1335.7" r="6.2" fill="#e8a06c" stroke="none" stroke-width="0" fill-opacity="0.92"/>
<circle cx="1404.0" cy="1346.1" r="6.2" fill="#e8a06c" stroke="none" stroke-width="0" fill-opacity="0.92"/>
<circle cx="1558.9" cy="1312.1" r="6.2" fill="#e8a06c" stroke="none" stroke-width="0" fill-opacity="0.92"/>
<circle cx="1166.5" cy="1337.3" r="6.2" fill="#8ccaf0" stroke="none" stroke-width="0" fill-opacity="0.92"/>
<circle cx="1351.3" cy="1329.3" r="6.2" fill="#8ccaf0" stroke="none" stroke-width="0" fill-opacity="0.92"/>
<circle cx="1458.3" cy="1395.2" r="6.2" fill="#8ccaf0" stroke="none" stroke-width="0" fill-opacity="0.92"/>
<circle cx="1390.0" cy="1407.1" r="6.2" fill="#8ccaf0" stroke="none" stroke-width="0" fill-opacity="0.92"/>
<circle cx="1572.9" cy="1420.7" r="6.2" fill="#8ccaf0" stroke="none" stroke-width="0" fill-opacity="0.92"/>
<circle cx="1425.1" cy="1480.6" r="6.2" fill="#8ccaf0" stroke="none" stroke-width="0" fill-opacity="0.92"/>
<circle cx="1364.5" cy="1524.5" r="6.2" fill="#8ccaf0" stroke="none" stroke-width="0" fill-opacity="0.92"/>
<circle cx="1352.9" cy="1532.1" r="6.2" fill="#8ccaf0" stroke="none" stroke-width="0" fill-opacity="0.92"/>
<line x1="1033.7" y1="980.8" x2="1068.9" y2="980.8" stroke="#5aa8e6" stroke-width="3" />
<circle cx="1051.5" cy="980.8" r="8.3" fill="#8ccaf0" stroke="none" stroke-width="0" />
<text x="1083.0" y="989.7" font-size="24" textLength="105.7" lengthAdjust="spacing" fill="#000" >Con / WT</text>
<line x1="1033.7" y1="1011.6" x2="1068.9" y2="1011.6" stroke="#e07a38" stroke-width="3" />
<circle cx="1051.5" cy="1011.6" r="8.3" fill="#e8a06c" stroke="none" stroke-width="0" />
<text x="1082.3" y="1020.5" font-size="24" textLength="113.0" lengthAdjust="spacing" fill="#000" >HAC / WT</text>
<line x1="1033.7" y1="1041.0" x2="1068.9" y2="1041.0" stroke="#e46a6c" stroke-width="3" />
<circle cx="1051.5" cy="1041.0" r="8.3" fill="#ec9494" stroke="none" stroke-width="0" />
<text x="1083.0" y="1049.9" font-size="24" textLength="113.1" lengthAdjust="spacing" fill="#000" >Con / <tspan font-style="italic">lox8</tspan></text>
<line x1="1033.7" y1="1071.3" x2="1068.9" y2="1071.3" stroke="#56d3c3" stroke-width="3" />
<circle cx="1051.5" cy="1071.3" r="8.3" fill="#70e2d4" stroke="none" stroke-width="0" />
<text x="1082.3" y="1080.2" font-size="24" textLength="120.3" lengthAdjust="spacing" fill="#000" >HAC / <tspan font-style="italic">lox8</tspan></text>
<text x="1037.9" y="1541.3" font-size="28" text-anchor="start" fill="#000" ><tspan font-style="italic">P</tspan>&lt;0.001</text>
<text x="53.7" y="1795.5" font-size="50" fill="#000" >e</text>
<g fill="none" stroke-linecap="round"><path d="M200 1958Q223 2146 357 2012M173 2018Q266 2055 249 1957M435 1971Q320 1783 253 1993M308 1824Q302 1887 364 1875M305 1901Q247 1955 310 2002M281 2031Q399 2080 427 1956M384 1985Q471 2010 401 2068M398 2009Q308 1941 412 1898M298 2027Q357 1974 361 2053M281 2031Q281 1879 411 1957M364 1875Q429 2045 248 2038M339 1857Q336 1814 300 1838M397 1974Q421 2079 321 2040M398 2036Q406 1873 270 1962M375 1927Q368 2025 287 1969M359 1945Q454 1871 340 1830M436 1920Q516 1975 453 2049M204 1944Q204 2091 343 2044M452 1828Q284 1791 359 1945M497 1784Q501 1948 342 1908M264 1977Q376 1988 338 2094M364 2033Q312 1933 425 1939M221 2112Q169 2052 239 2015M375 1998Q469 2033 478 1934M342 2075Q207 2045 265 1920M335 1922Q407 1954 414 1876M298 2027Q210 1980 196 2079M462 1930Q418 2105 257 2023M209 1973Q377 2059 334 1876M298 2027Q205 1951 320 1915M364 2033Q481 1947 366 1857M319 1899Q344 2028 440 1939M211 2058Q178 1810 412 1898M453 1994Q486 1976 458 1951M225 2098Q177 2008 279 2008M230 1910Q276 2092 448 2016M209 1973Q250 2025 270 1962M310 2078Q253 1962 196 2079M183 2066Q305 1913 420 2071M412 1857Q425 1905 470 1883M397 1901Q497 1933 414 1996M320 1915Q429 1954 394 1843M295 1859Q416 2039 209 2103M351 1928Q461 1938 452 1828M246 2085Q295 1909 407 2053M322 1883Q230 2012 380 2063M256 2102Q191 1943 359 1982M414 1996Q311 2074 437 2101M305 1901Q385 1952 427 1867M188 1974Q276 2033 182 2083M463 2022Q304 1922 469 1831M297 1885Q415 1939 405 1809M364 1875Q319 1892 351 1928M236 1939Q288 1928 264 1977M261 1948Q323 2048 206 2029M339 2026Q580 1967 412 1785M441 1954Q368 1885 452 1828M397 1974Q356 1937 397 1901M382 1859Q290 1937 398 1991M270 1962Q387 2014 395 1885M271 2091Q318 1978 401 2068" stroke="#5cc3ea" stroke-opacity="0.5" stroke-width="1.8" fill="none"/><path d="M264 2044Q321 2016 326 2079M231 1894Q323 2031 380 1876M366 1857Q364 1999 236 1939M433 1836Q301 1953 471 2000M451 1907Q425 2004 343 1947M225 2098Q105 1967 283 1955M478 1934Q478 1771 339 1857M356 2070Q273 2040 333 1975M224 1967Q309 1956 251 1893M432 2086Q322 1984 470 1962M338 2094Q227 2084 280 1986M364 2033Q304 1964 391 1932M412 1898Q417 1781 308 1824M249 1957Q308 1892 362 1961M372 1974Q364 1883 286 1930M314 1966Q347 1977 331 2008M484 1947Q374 1884 398 2009M311 2017Q171 1939 315 1870M324 1854Q472 1825 435 1971M482 1898Q396 1964 351 1866M283 1899Q179 1909 231 2000M200 1958Q338 1951 282 2078M374 1943Q284 1779 472 1779M257 2023Q232 1880 377 1890M411 1957Q322 1871 423 1799M241 1980Q209 1854 339 1857M374 1906Q413 1858 451 1907M281 2031Q335 2150 398 2036M328 1958Q268 1896 354 1888M382 1859Q348 1838 334 1876M397 1901Q350 1865 320 1915M411 1957Q437 2189 231 2081M486 1805Q422 1803 427 1867M270 1962Q397 1958 324 1854M412 1857Q349 1916 340 1830M195 2095Q143 1858 375 1927M212 2084Q125 2024 223 1985M435 1971Q417 1836 323 1935M432 2086Q384 2026 453 1994M374 1843Q419 1826 382 1796M456 1845Q483 1912 412 1898M236 1939Q279 1928 251 1893M209 1973Q322 2069 335 1922M478 1934Q416 1928 454 1879M364 2033Q339 2051 324 2024M396 1865Q295 1806 299 1923M391 2051Q457 1994 372 1974M265 1905Q251 1964 306 1938M299 1923Q258 2042 375 1998M391 1932Q462 1903 418 1840M398 2036Q303 1991 391 1932M413 2015Q300 2059 306 1938M339 1890Q179 1868 223 2024M413 2015Q280 2017 360 1911M412 1973Q376 1842 265 1920M298 2027Q245 1865 412 1898M224 1967Q308 1902 353 1998M431 1819Q528 1851 462 1930M382 1796Q216 1938 429 1988M218 2044Q432 2049 339 1857M441 1954Q374 2023 450 2081" stroke="#5cc3ea" stroke-opacity="0.5" stroke-width="1.8" fill="none"/><path d="M349 2109Q341 2018 432 2025M224 1967Q388 2042 351 1866M460 1895Q459 1956 399 1945M423 1912Q273 1773 264 1977M265 1881Q237 1944 306 1938M354 1888Q336 1962 411 1957M405 1809Q513 2015 281 2031M390 1825Q346 1859 395 1885M372 1974Q404 1992 379 2019M363 2102Q201 1921 439 1879M320 1915Q229 1935 257 2023M250 1936Q268 2142 414 1996M182 1989Q278 1935 264 2044M293 2062Q287 2133 225 2098M319 1899Q244 2126 472 2053M362 1961Q389 1987 411 1957M249 2069Q166 2032 241 1980M281 2031Q197 1939 320 1915M397 1790Q472 1821 414 1876M282 2078Q268 1994 353 1998M444 1784Q382 1807 430 1852M223 2024Q194 1957 264 1977M412 1898Q320 1876 362 1961M413 2015Q299 2013 342 1908M428 2003Q309 2018 319 1899M286 1915Q312 2046 411 1957M335 1922Q264 2055 415 2040M337 1993Q308 1862 224 1967M230 1910Q238 2016 328 1958M362 1961Q379 2016 429 1988M470 1883Q505 1762 388 1809M343 1947Q253 1903 231 2000M414 1876Q370 1832 431 1819M332 2063Q224 2109 202 1994M345 1966Q374 2034 301 2044M450 2081Q371 2122 364 2033M379 2019Q363 1978 331 2008M414 1996Q266 1947 341 1811M391 2051Q233 1903 423 1799M162 2067Q221 1936 321 2040M414 1930Q306 1940 356 1844M382 1796Q483 1752 481 1861M308 1824Q327 1981 460 1895M343 1947Q294 1927 322 1883M261 2006Q310 1868 427 1956M335 1922Q283 1896 324 1854M286 1930Q265 2063 398 2036M395 1918Q294 1957 283 1849M246 2085Q315 2021 349 2109M361 2053Q412 1998 447 2064M501 1798Q276 1854 432 2025M374 1943Q287 1945 324 2024M310 2078Q405 1974 270 1934M372 1974Q378 2028 324 2024M398 1991Q493 1915 394 1843M270 1934Q202 2139 413 2095M377 1890Q433 1912 430 1852M239 2015Q190 1893 320 1915M221 1949Q170 1986 231 2000M250 1936Q469 2036 438 1798" stroke="#5cc3ea" stroke-opacity="0.5" stroke-width="1.8" fill="none"/><path d="M316 1980Q340 1909 265 1920M481 1791Q293 1803 372 1974M475 1845Q386 1845 414 1930M223 2024Q477 2097 366 1857M413 2095Q514 1972 377 1890M470 1883Q274 1915 401 2068M363 1799Q455 1900 320 1915M219 1930Q253 1975 265 1920M264 1977Q218 1974 239 2015M486 1805Q455 1915 351 1866M202 1994Q363 2067 377 1890M380 1876Q317 1947 411 1957M301 2044Q313 1991 261 2006M390 1825Q548 1897 444 2036M264 2044Q331 2089 331 2008M478 1820Q236 1861 391 2051M430 1852Q483 1915 411 1957M251 1873Q354 2026 470 1883M248 2038Q438 1976 283 1849M261 1948Q313 2037 359 1945M380 1876Q435 1896 418 1840M420 2110Q421 1844 202 1994M444 2036Q319 2019 374 1906M382 1859Q437 1920 359 1945M364 2033Q433 2069 363 2102M343 2044Q459 1960 351 1866M270 1962Q252 2005 224 1967M287 1969Q379 2024 395 1918M268 1864Q355 2019 183 2066M451 1907Q356 1982 463 2038M297 1885Q453 1956 444 1784M301 2044Q361 1949 250 1936M246 1912Q327 1904 308 1824M415 2040Q384 2157 310 2062M451 1907Q428 1782 308 1824M202 1994Q144 2108 271 2091M357 2012Q385 1913 463 1981M283 1899Q371 1938 356 1844M223 2024Q292 2123 331 2008M428 2003Q443 2076 375 2045M382 1859Q458 1890 411 1957M353 1998Q458 1958 396 1865M218 2044Q406 2017 283 1873M359 1945Q390 1934 374 1906M366 1857Q291 1811 283 1899M433 1836Q545 1967 375 1998M360 1911Q207 2031 384 2111M271 2091Q399 2012 270 1934M305 1901Q363 1963 395 1885M487 1835Q425 1764 374 1843M310 2062Q368 1925 219 1930M445 1856Q287 1820 333 1975M297 1885Q140 1989 321 2040M305 1901Q339 1870 295 1859M286 1930Q414 1840 414 1996M316 1980Q235 1968 264 2044M310 2062Q256 1999 328 1958M341 1811Q532 1824 412 1973M296 2008Q282 1773 482 1898M413 2015Q222 1872 452 1811" stroke="#5cc3ea" stroke-opacity="0.5" stroke-width="1.8" fill="none"/><path d="M265 1881Q348 1906 287 1969M370 2088Q236 2060 328 1958M356 1844Q235 1950 379 2019M316 1980Q350 1890 397 1974M460 1895Q413 1818 497 1784M306 1938Q458 1963 390 1825M362 1961Q372 2099 248 2038M188 2051Q221 2102 266 2061M317 2104Q103 2013 297 1885M339 1890Q183 1867 239 2015M377 1890Q539 1959 401 2068M451 1907Q377 2032 319 1899M315 1870Q315 1983 230 1910M314 1966Q317 1864 234 1924M359 1982Q294 2062 270 1962M398 1991Q357 1874 270 1962M270 1934Q299 1896 251 1893M357 2012Q244 2085 200 1958M334 1876Q272 1987 398 2009M463 2038Q503 1804 299 1923M308 1824Q326 1883 382 1859M425 1887Q376 1889 394 1843M430 1852Q435 1777 363 1799M182 2083Q409 2158 323 1935M395 1918Q433 1827 339 1857M315 1870Q409 2047 212 2010M264 2044Q153 1983 270 1934M485 1919Q337 1740 270 1962M209 1973Q166 2050 246 2085M418 1840Q398 1908 468 1910M494 1821Q341 1777 323 1935M353 1998Q334 2063 401 2068M167 2032Q349 2179 359 1945M264 2044Q238 1886 395 1918M399 1945Q483 1959 454 1879M314 1966Q435 1845 448 2016M445 1856Q460 1919 395 1918M315 1870Q428 1904 382 1796M241 1980Q292 2049 314 1966M431 1819Q495 1973 328 1958M391 1932Q288 1769 221 1949M470 1962Q312 2036 351 1866M450 1966Q418 1905 485 1919M332 2063Q431 1953 286 1930M361 2053Q211 1820 487 1835M475 1845Q263 1803 331 2008M470 1883Q425 1981 335 1922M412 1973Q395 1817 286 1930M472 2053Q467 1909 353 1998M306 1938Q345 2012 261 2006M438 1798Q414 1939 295 1859M454 1879Q345 1874 359 1982M414 1930Q462 2065 324 2024M209 1973Q358 1996 295 1859M270 1934Q220 1876 295 1859M331 2008Q294 1938 374 1943M286 1930Q282 2053 188 1974M398 1991Q291 1914 286 2046M264 2044Q472 1966 283 1849M323 1935Q330 2053 429 1988" stroke="#5cc3ea" stroke-opacity="0.5" stroke-width="1.8" fill="none"/><path d="M231 2081Q354 1953 469 2089M444 1784Q303 1859 440 1939M246 1912Q290 1824 342 1908M332 2063Q173 2158 188 1974M339 1890Q368 1964 412 1898M485 1919Q462 1952 436 1920M413 2095Q390 1988 310 2062M481 1791Q341 1787 351 1928M233 2035Q291 1889 379 2019M391 2051Q319 1924 266 2061M264 1977Q395 2024 395 1885M320 1915Q438 2063 249 2069M440 1939Q499 1968 463 2022M279 2008Q286 2047 248 2038M322 1836Q489 1762 440 1939M462 1930Q422 2018 359 1945M482 1898Q433 2103 264 1977M384 1985Q392 1935 343 1947M440 1939Q289 1932 326 2079M299 1923Q246 1971 310 2002M360 1911Q326 1992 414 1996M430 1852Q329 1805 320 1915M405 1832Q322 1866 395 1918M223 1985Q180 2137 326 2079M472 2053Q329 2194 239 2015M305 1901Q352 2039 436 1920M335 1922Q349 1806 439 1879M233 2035Q291 1985 293 2062M334 1876Q205 1939 331 2008M188 1974Q362 2121 412 1898M379 2019Q442 2040 394 2085M462 1930Q273 1916 279 2106M469 2071Q386 1839 223 2024M283 1849Q252 1893 305 1901M486 1805Q425 1753 390 1825M264 1977Q337 1922 251 1893M264 2044Q546 2029 355 1820M321 2040Q422 1955 432 2086M249 2069Q381 2103 333 1975M359 1982Q323 2092 218 2044M341 1811Q220 1953 398 2009M314 1966Q169 1983 243 2108M287 1969Q247 2112 394 2085M470 1883Q352 1783 323 1935M212 2084Q270 1976 342 2075M262 2076Q255 2005 324 2024M375 1927Q368 2022 280 1986M229 2064Q252 1887 398 1991M310 2002Q331 1941 270 1962M414 1996Q380 2101 298 2027M182 2083Q156 1950 279 2008M472 2053Q304 2071 360 1911M423 1912Q384 1858 342 1908M286 1930Q218 1888 224 1967M262 2076Q187 2042 241 1980M314 1966Q235 1917 315 1870M412 1785Q377 1885 482 1898M223 2024Q311 2062 287 1969M380 1876Q329 1794 297 1885M187 2005Q281 1914 321 2040" stroke="#5cc3ea" stroke-opacity="0.5" stroke-width="1.8" fill="none"/><path d="M382 1859Q473 1862 425 1939M428 2003Q363 2029 420 2071M283 1899Q293 1949 335 1922M231 2000Q242 2062 301 2044M243 2108Q302 2077 248 2038M391 1932Q463 1859 382 1796M440 1939Q397 1867 481 1861M396 1865Q264 1894 372 1974M265 1920Q351 1939 311 2017M236 1939Q304 2019 202 2043M251 1873Q375 1959 431 1819M335 1922Q385 1856 436 1920M462 1930Q385 1827 299 1923M433 1836Q365 1890 451 1907M423 2054Q250 2167 270 1962M333 1975Q432 1934 415 2040M450 2081Q454 2029 407 2053M399 1945Q402 2016 331 2008M471 2000Q366 1896 494 1821M326 2079Q181 2117 241 1980M241 1980Q290 1965 265 1920M427 1867Q418 1991 306 1938M394 1843Q415 1993 264 1977M246 1912Q240 2048 359 1982M370 2088Q424 2030 457 2103M333 1975Q377 1945 375 1998M298 2027Q314 1995 280 1986M413 2015Q280 2111 261 1948M359 1982Q361 1920 411 1957M481 1791Q518 1929 375 1927M314 1966Q372 1958 342 1908M266 2061Q358 2023 306 1938M183 2066Q321 1919 432 2086M407 2053Q386 1972 470 1962M363 2102Q177 2116 236 1939M335 1922Q356 2018 257 2023M300 2112Q191 2028 314 1966M315 1870Q184 1952 293 2062M265 1905Q379 2060 482 1898M266 2061Q507 2049 351 1866M420 2071Q375 2075 398 2036M462 1930Q396 1876 475 1845M397 1790Q485 1875 375 1927M212 2010Q320 1968 231 1894M239 2015Q354 1869 391 2051M469 2089Q286 2039 412 1898M374 1943Q432 1962 436 1901M375 1927Q499 1977 475 1845M432 2086Q349 2128 321 2040M322 1883Q324 1953 391 1932M339 1890Q555 1893 450 2081M251 1873Q309 1943 339 1857M373 1811Q455 1772 466 1862M394 2085Q310 1976 256 2102M280 1986Q203 1945 251 1873M246 2055Q457 2111 397 1901M167 2032Q265 2017 219 1930M337 1993Q265 1959 335 1922M427 1956Q495 1931 471 2000M364 1875Q374 1959 436 1901" stroke="#5cc3ea" stroke-opacity="0.5" stroke-width="1.8" fill="none"/><path d="M163 2085Q227 2015 243 2108M359 1945Q433 1927 428 2003M265 1881Q267 2052 399 1945M316 1980Q236 1902 339 1857M372 1828Q361 1951 484 1947M320 1915Q401 2066 231 2081M315 1870Q392 1957 280 1986M375 1927Q300 1840 261 1948M283 1873Q211 1875 250 1936M212 2010Q241 2107 332 2063M397 1790Q349 1903 470 1883M454 1879Q361 1829 460 1790M286 2046Q369 2016 300 1961M253 1993Q278 2126 391 2051M182 2083Q266 1887 415 2040M360 1911Q282 1775 438 1798M280 1986Q278 2052 343 2044M167 2032Q189 1981 223 2024M261 1948Q258 1871 334 1876M301 2044Q401 2097 429 1988M339 1890Q403 2142 167 2032M295 1859Q397 1763 470 1883M265 1920Q389 1942 355 1820M320 1915Q371 2089 484 1947M202 2043Q150 1935 270 1934M234 1924Q404 1977 341 1811M300 1961Q390 2065 414 1930M482 1898Q418 1884 452 1828M326 2079Q257 2003 343 1947M265 1881Q503 1978 279 2106M280 1986Q219 2019 221 1949M362 1961Q306 1912 377 1890M311 2017Q327 1913 398 1991M398 2009Q348 2153 248 2038M335 1922Q360 1961 314 1966M391 1932Q439 1890 382 1859M270 1962Q327 2098 183 2066M209 2103Q248 1929 414 1996M314 1966Q353 1957 353 1998M413 2015Q209 1881 438 1798M257 2023Q318 2123 357 2012M482 1898Q453 1981 374 1943M265 1905Q350 1955 366 1857M412 1973Q208 1841 212 2084M436 1920Q355 1901 390 1825M375 2045Q247 2099 270 1962M491 1850Q382 1962 308 1824M414 1876Q369 2008 250 1936M411 1957Q221 1856 249 2069M390 1825Q279 1944 441 1954M431 1819Q403 1845 388 1809M335 1922Q382 1853 300 1838M436 1901Q355 1998 479 2015M342 1908Q304 2065 463 2038M415 2040Q403 1943 331 2008M268 1864Q347 1840 335 1922M398 1991Q389 2056 453 2049M264 2044Q455 2066 377 1890M202 2043Q342 2152 333 1975M299 1923Q332 2059 199 2017" stroke="#5cc3ea" stroke-opacity="0.5" stroke-width="1.8" fill="none"/><path d="M674 1852Q586 1981 530 1835M599 1999Q698 1982 700 2082M747 1966Q687 2090 822 2063M540 1941Q456 1972 530 2022M680 1918Q474 1816 515 2043M642 2103Q622 1968 756 1998M771 2059Q701 1988 677 2086M618 2054Q865 1923 615 1797M609 1881Q674 1865 625 1819M521 2079Q691 2051 597 1907M593 1886Q625 2010 720 1924M683 1972Q737 1901 765 1985M809 2015Q715 1975 802 1922M669 1808Q538 1982 756 1998M597 1853Q581 1934 527 1870M554 1835Q676 1760 734 1891M816 1976Q662 2060 693 1888M536 1858Q621 1920 673 1829M688 1846Q852 1864 756 1998M811 1958Q686 1968 771 2059M785 1889Q710 1937 777 1994M635 2015Q750 1892 771 2059M627 1944Q668 2057 747 1966M559 1941Q510 1892 565 1849M701 2036Q640 1904 529 1998M693 1888Q510 1877 605 2033M581 1851Q639 1904 575 1950M599 1999Q562 2073 529 1998M521 2079Q649 1995 543 1883M550 1796Q720 1874 566 1981M688 2054Q734 2093 675 2105M529 1998Q735 2040 656 1845M560 1821Q566 2007 735 1930M550 1998Q717 1958 609 1824M642 1944Q632 2056 552 1977M564 1927Q521 2053 654 2048M537 1898Q498 1861 551 1850M726 2033Q551 2087 611 1913M523 1943Q630 2004 652 1883M549 1918Q574 1996 492 1986M503 2102Q634 2074 562 1962M623 2071Q568 1912 735 1930M646 2030Q738 2095 750 1984M652 1883Q605 1971 537 1898M570 1863Q547 2041 726 2033M527 1870Q538 2146 747 1966M582 2000Q582 1837 720 1924M757 1914Q649 1881 694 1984M551 1850Q629 2034 757 1880M669 2028Q659 2116 597 2053M792 2069Q744 1955 668 2053M617 1969Q614 2020 565 2005M654 1974Q507 1897 654 1821M610 1846Q615 1933 543 1883M561 1896Q487 1969 589 1988M638 1852Q583 1882 576 1820M631 1802Q708 1825 652 1883M592 2100Q640 1915 749 2073M725 1877Q708 1962 791 1937M754 2088Q735 1986 635 2015M617 1969Q550 2040 632 2092M757 1914Q765 2202 529 2037M565 1807Q541 1850 511 1811M788 2028Q845 2023 827 2077M652 2016Q561 2006 627 1944M551 1850Q758 1904 623 2071M546 2077Q516 1840 720 1964M605 2033Q431 2036 537 1898M688 1905Q733 1808 630 1838M679 1990Q765 1897 641 1869M655 2084Q753 2059 679 1990M546 2055Q593 1933 654 2048M700 1834Q626 1930 576 1820M693 1999Q626 1936 583 2017M581 2071Q615 2039 570 2026" stroke="#4ed6c0" stroke-opacity="0.5" stroke-width="1.8" fill="none"/><path d="M515 2043Q636 1978 555 1867M663 1988Q840 1904 669 1808M515 2006Q535 1929 599 1976M499 2003Q622 2100 627 1944M543 1883Q669 1812 724 1945M540 1941Q689 1859 669 2028M708 1975Q609 1997 617 1896M565 1807Q668 1913 539 1987M530 1835Q728 1990 491 2074M646 2030Q589 2078 660 2100M523 1899Q609 1983 617 1863M686 1816Q796 1857 699 1924M566 1981Q475 1904 593 1886M609 1987Q779 1945 654 1821M669 1808Q635 1881 569 1834M617 1896Q622 2025 503 1975M605 2033Q590 1985 641 1982M597 1931Q601 1780 735 1849M641 1869Q500 1807 509 1960M575 1950Q532 1918 575 1887M652 2016Q736 1818 527 1870M600 1945Q491 1909 510 2022M725 1877Q560 1800 526 1979M575 1950Q671 2001 706 1898M669 1887Q614 2021 537 1898M523 1899Q544 2024 642 1944M581 2071Q567 1926 693 1999M654 1821Q706 1930 589 1959M749 2073Q673 2111 646 2030M594 1831Q477 1934 625 1985M708 1975Q720 1848 611 1913M584 2035Q632 1971 654 2048M613 1955Q565 2038 509 1960M581 2071Q633 2140 686 2071M623 2071Q678 1973 717 2078M659 1917Q679 1855 734 1891M529 2053Q515 1963 599 1999M603 1808Q757 1905 617 2023M639 1826Q592 1884 659 1917M816 1976Q811 1934 771 1944M543 1883Q537 1959 613 1955M613 1955Q691 2025 735 1930M630 1838Q743 1810 720 1924M503 1975Q560 2150 720 2061M791 1937Q637 1981 700 1834M653 1954Q692 1918 652 1883M563 2066Q498 1869 704 1851M551 1850Q649 1919 565 2005M506 1945Q573 1988 515 2043M585 1921Q653 1962 652 1883M795 2042Q687 1866 597 2053M594 2079Q463 2121 510 1992M663 1988Q610 1965 617 2023M491 2074Q615 2133 582 2000M765 1985Q793 1968 771 1944M761 1959Q692 1927 762 1896M546 2055Q695 1908 511 1811M813 2089Q848 1963 723 2002M720 1924Q710 1849 655 1900M746 2049Q703 1971 792 1982M593 1886Q683 1972 570 2026M656 1862Q510 1860 599 1976M530 1922Q624 1995 515 2043M642 1944Q491 1955 560 1821M719 1842Q614 1893 679 1990M655 2084Q488 1973 680 1918M811 1958Q653 1884 688 2054M699 1924Q676 1981 627 1944M704 1851Q604 1766 543 1883M773 1907Q610 2023 609 1824M597 1853Q488 1962 641 1982M559 1941Q633 1745 785 1889M761 1959Q794 1895 725 1877M761 1959Q753 2062 679 1990M489 2058Q586 2137 603 2014" stroke="#4ed6c0" stroke-opacity="0.5" stroke-width="1.8" fill="none"/><path d="M639 1826Q664 1890 597 1907M582 2000Q578 1865 699 1924M575 1950Q565 1879 513 1928M537 1898Q470 1997 589 1988M579 1905Q413 2003 577 2106M732 2088Q546 2132 559 1941M805 2060Q645 2126 693 1959M771 2019Q819 1996 776 1966M687 2039Q708 1972 644 2000M735 1930Q793 1999 704 2013M750 2102Q633 2098 679 1990M765 2105Q724 1912 606 2069M526 1979Q565 1844 653 1954M550 1796Q490 1879 593 1886M569 1834Q684 1936 539 1987M719 1842Q700 1929 787 1914M738 1999Q655 2033 642 1944M543 1883Q496 2050 664 2005M761 1959Q643 1982 656 1862M591 1798Q689 1807 635 1890M652 1883Q585 1844 585 1921M765 2105Q679 2079 723 2002M500 2048Q605 1862 717 2044M589 1813Q624 1927 506 1945M641 1963Q644 1860 543 1883M575 1887Q589 1925 549 1918M552 1977Q474 1927 561 1896M629 2041Q740 2062 693 1959M577 1935Q688 2029 734 1891M635 1890Q612 1798 700 1834M726 2033Q525 2040 652 1883M564 1927Q639 1786 720 1924M795 2042Q692 2065 693 1959M513 1928Q586 1990 494 2017M515 1884Q528 1836 570 1863M765 1985Q752 1890 659 1917M725 1877Q737 2000 627 1944M653 1954Q508 1863 669 1808M575 1796Q633 1886 527 1870M719 1842Q635 1912 603 1808M653 1954Q643 2014 704 2013M527 1870Q614 1917 625 1819M656 1845Q613 1897 565 1849M757 2061Q648 2095 641 1982M580 1973Q701 1967 677 2086M561 1896Q446 1955 565 2005M624 1880Q655 1935 679 1877M654 1821Q786 1857 673 1934M688 1905Q528 1952 591 1798M823 1998Q848 2055 786 2055M570 1863Q667 1936 686 1816M523 1943Q645 2042 491 2074M771 2019Q643 1988 734 1891M546 2077Q665 1948 511 1865M717 2044Q795 1961 810 2074M599 1976Q670 1781 805 1938M503 2102Q501 1930 670 1962M704 2013Q663 2128 584 2035M822 2063Q559 2141 652 1883M723 2002Q599 1973 592 2100M641 1982Q728 2021 655 2084M555 1867Q750 1943 571 2050M643 1918Q740 2009 623 2071M585 1921Q578 1977 525 1960M757 1880Q716 1846 706 1898M643 1918Q669 1747 517 1829M679 1990Q581 1941 571 2050M575 1796Q652 1814 595 1869M706 1898Q830 2125 574 2087M736 1957Q721 1806 593 1886M653 1954Q695 2012 629 2041M708 1996Q687 1928 641 1982M693 1959Q470 2052 544 1822M689 1862Q519 1799 526 1979M561 1896Q649 1815 699 1924" stroke="#4ed6c0" stroke-opacity="0.5" stroke-width="1.8" fill="none"/><path d="M499 2003Q611 1820 750 1984M706 2064Q643 2140 597 2053M635 2015Q732 2086 747 1966M679 1877Q540 2004 726 2033M793 2087Q663 2124 679 1990M577 1935Q456 2007 581 2071M732 1985Q777 2103 656 2068M792 2069Q803 1972 708 1996M735 1930Q755 1868 693 1888M640 2067Q557 2103 583 2017M786 2055Q755 2136 706 2064M589 1988Q542 1901 492 1986M499 2003Q533 1883 642 1944M615 1797Q624 1863 688 1846M610 1846Q707 1798 688 1905M621 2003Q478 1976 570 1863M539 1987Q476 2037 546 2077M791 1952Q718 2027 699 1924M558 2104Q444 2063 539 1987M704 1851Q591 1894 693 1959M757 2061Q572 2018 725 1906M802 1922Q644 1989 625 1819M581 1851Q626 1914 549 1918M706 1898Q606 1909 654 1821M523 1899Q584 1977 609 1881M594 1831Q498 1852 564 1927M583 2017Q806 1987 669 1808M605 2033Q719 1978 611 1913M817 2027Q849 1980 792 1982M757 2061Q656 1899 546 2055M687 2014Q583 2190 499 2003M704 2013Q603 2114 539 1987M750 2102Q878 1953 693 1888M736 1957Q595 2044 750 2102M791 1937Q712 1947 743 1874M664 2005Q665 2060 717 2044M688 1905Q727 1903 711 1939M748 2021Q791 1965 720 1964M688 1905Q637 2082 809 2015M706 2064Q583 1958 704 1851M640 2067Q865 2119 773 1907M793 2087Q681 2041 776 1966M606 2069Q554 1998 521 2079M597 2053Q590 1879 755 1933M606 2069Q638 2004 565 2005M565 2005Q601 1948 644 2000M589 1959Q485 1980 521 2079M577 1935Q625 2057 690 1943M639 1826Q660 1982 503 1975M818 2104Q855 2002 748 2021M711 1939Q645 1807 549 1918M656 1862Q549 1884 617 1969M519 1849Q504 1885 543 1883M574 2087Q633 1985 523 1943M576 1820Q564 1975 693 1888M492 1986Q579 2011 585 1921M689 1862Q473 1807 530 2022M515 2043Q547 1923 644 2000M656 1862Q616 1831 609 1881M622 1928Q544 1972 617 2023M597 2053Q688 1949 771 2059M562 1881Q452 2077 675 2105M494 2017Q574 2133 652 2016M654 2048Q692 2015 644 2000M719 1842Q624 1996 519 1849M508 2063Q596 2054 539 1987M597 1907Q609 1960 643 1918M660 2100Q647 2018 571 2050M709 2105Q731 2029 654 2048M541 1807Q690 1814 597 1931M768 1868Q628 2016 831 2039M562 1962Q561 1926 597 1931M723 2002Q594 2045 643 1918M617 1896Q768 1850 708 1996M546 2055Q666 1861 749 2073" stroke="#4ed6c0" stroke-opacity="0.5" stroke-width="1.8" fill="none"/><path d="M732 1985Q679 1887 625 1985M765 1985Q688 2017 673 1934M655 2084Q501 2066 549 1918M603 2014Q548 1905 669 1887M654 1974Q644 1884 734 1891M779 1926Q649 1744 589 1959M617 1863Q570 1883 611 1913M721 1858Q855 1968 687 2014M743 1874Q567 1873 646 2030M671 2067Q840 1908 609 1881M765 1985Q680 1967 710 1884M540 1941Q654 1807 708 1975M635 2015Q620 1959 566 1981M654 1974Q692 1884 597 1907M582 2000Q741 2047 693 1888M688 1905Q764 1883 736 1957M575 1887Q555 1924 597 1931M519 1849Q683 1925 530 2022M757 2061Q806 1900 641 1869M618 2054Q678 1998 599 1976M632 2092Q580 1938 491 2074M666 1947Q690 2090 546 2077M736 1957Q624 2088 564 1927M670 1962Q723 1936 673 1906M773 1907Q720 2049 643 1918M635 2015Q747 1877 570 1863M680 1918Q629 1942 663 1988M519 1849Q520 1938 593 1886M643 1918Q473 1951 550 1796M610 2083Q681 2018 589 1988M491 2074Q594 2005 514 1911M614 2100Q603 2063 574 2087M599 1976Q591 1920 642 1944M748 2021Q779 1971 720 1964M562 1881Q507 1909 559 1941M597 1907Q609 2112 777 1994M750 1984Q800 1922 720 1924M622 1928Q665 2002 699 1924M576 1820Q654 1928 525 1960M514 1911Q602 1941 529 1998M706 1898Q662 1789 570 1863M734 1891Q629 1898 679 1990M530 2022Q689 1877 732 2088M589 1959Q574 2053 668 2053M610 2083Q559 2000 654 1974M669 1887Q563 1885 589 1988M541 1807Q619 1766 638 1852M611 1913Q705 1872 708 1975M782 2098Q756 1972 635 2015M489 2058Q582 1987 632 2092M635 1890Q630 1968 564 1927M734 1891Q577 1996 749 2073M786 2055Q665 2006 757 1914M818 2104Q678 2024 802 1922M617 2023Q748 1856 536 1858M594 2079Q645 2068 605 2033M654 2048Q850 2109 787 1914M680 1918Q558 1985 687 2039M577 2106Q415 2056 540 1941M524 2103Q503 2042 563 2066M605 2033Q730 2032 680 1918M530 1922Q640 2031 491 2074M761 1959Q733 1903 795 1901M621 2003Q841 2026 719 1842M566 1981Q625 1810 720 1964M491 2074Q733 2189 699 1924M606 2069Q792 1891 544 1822M776 1966Q826 2064 717 2078M524 2103Q701 2092 600 1945M627 1944Q623 1901 585 1921M656 1845Q694 1856 669 1887M711 1939Q843 2032 686 2071M708 1996Q733 2080 812 2042M530 1835Q672 1937 529 2037M704 2013Q663 1907 771 1944" stroke="#4ed6c0" stroke-opacity="0.5" stroke-width="1.8" fill="none"/><path d="M592 2100Q618 2029 546 2055M776 1966Q776 1907 720 1924M562 1962Q498 1848 625 1819M558 2088Q479 2019 582 2000M708 1975Q698 1926 744 1945M641 1982Q572 2018 559 1941M564 1927Q635 2004 655 1900M735 1930Q694 2033 627 1944M706 1898Q622 1737 537 1898M625 1819Q760 1865 642 1944M582 2000Q522 1802 721 1858M618 2054Q570 2036 574 2087M710 1884Q860 1923 754 2036M656 1845Q754 1842 699 1924M560 1821Q661 1849 585 1921M543 1883Q640 1852 600 1945M734 1891Q758 1849 785 1889M693 1888Q593 1943 693 1999M523 1943Q607 1870 670 1962M489 2058Q706 2098 597 1907M754 2088Q733 2030 700 2082M565 1849Q585 1813 610 1846M749 1855Q597 1916 738 1999M641 1982Q704 2077 592 2100M523 1943Q561 1990 510 2022M603 2014Q699 1935 746 2049M529 2053Q567 1947 629 2041M610 2083Q601 1982 529 2053M804 1997Q710 2019 720 1924M615 1797Q535 1867 622 1928M594 2079Q488 2022 599 1976M704 2013Q621 1955 706 1898M546 2055Q755 1952 554 1835M649 1931Q668 1862 725 1906M569 1834Q642 1908 669 1808M679 1877Q678 1804 735 1849M689 1862Q708 1924 757 1880M597 2053Q586 2095 546 2077M599 1999Q512 2077 509 1960M537 1898Q612 1935 597 1853M694 2101Q855 1939 629 1914M744 1903Q695 2180 503 1975M680 1918Q657 1828 570 1863M654 2048Q548 1948 539 2094M786 2055Q757 2091 803 2100M825 2013Q688 2139 599 1976M515 2006Q529 1874 649 1931M734 1891Q689 1748 581 1851M533 2068Q588 1954 668 2053M597 1853Q535 1915 517 1829M757 1914Q720 2026 649 1931M654 1821Q583 1885 550 1796M732 2088Q712 1878 550 2014M642 1944Q685 1984 635 2015M673 1829Q555 1966 717 2044M713 1827Q686 1941 795 1901M575 1950Q604 2068 494 2017M562 1881Q658 1988 529 2053M597 2053Q579 2104 632 2092M706 1898Q677 1958 629 1914M617 2023Q593 1982 641 1982M688 1846Q749 2059 529 2037M593 1886Q680 2042 757 1880M723 2002Q805 1983 771 2059M582 2000Q482 2026 513 1928M738 1999Q629 1829 510 1992M725 1877Q668 2020 593 1886M595 1869Q632 1813 565 1807M659 1917Q684 1895 699 1924M671 2067Q834 1910 609 1881M673 1906Q518 1984 511 1811M589 1988Q654 2084 539 2094M513 1928Q651 1960 594 1831M724 1945Q694 1910 666 1947M795 1901Q704 2137 564 1927" stroke="#4ed6c0" stroke-opacity="0.5" stroke-width="1.8" fill="none"/><path d="M530 1922Q676 1811 732 1985M540 1958Q523 1819 656 1862M527 1870Q668 1780 666 1947M721 1858Q673 1785 610 1846M550 2014Q717 2079 673 1906M511 1811Q543 1779 560 1821M671 2067Q630 2024 679 1990M617 1863Q690 1809 706 1898M579 1905Q634 2062 735 1930M693 1888Q793 1860 761 1959M570 1863Q567 1825 530 1835M724 1945Q580 2049 515 1884M617 1896Q505 1929 583 2017M725 1877Q707 1975 629 1914M517 1829Q719 1804 625 1985M765 2105Q760 1998 668 2053M659 1917Q595 1909 617 1969M641 1982Q625 1910 559 1941M749 2073Q636 1983 558 2104M539 1987Q707 1901 732 2088M492 1986Q605 2108 627 1944M525 1960Q507 1859 597 1907M585 1921Q664 1971 583 2017M627 1944Q656 1838 757 1880M720 2061Q677 2017 640 2067M683 1972Q699 2016 652 2016M660 2100Q839 2076 795 1901M537 1898Q662 1940 669 1808M761 1959Q712 1906 683 1972M717 2078Q738 2032 687 2039M514 1911Q579 1949 609 1881M679 1990Q613 1978 643 1918M603 2014Q668 1979 668 2053M526 1803Q513 2008 699 1924M503 2083Q764 2101 624 1880M593 1886Q630 2002 510 2022M536 1858Q608 1806 652 1883M624 1880Q708 1822 720 1924M625 1985Q546 1956 593 1886M629 1914Q751 1848 732 1985M664 2005Q839 1897 656 1802M825 2013Q834 2129 722 2099M571 2050Q653 1994 585 1921M558 2104Q446 1976 617 1969M500 2048Q603 2029 525 1960M503 2083Q498 1996 583 2017M625 1819Q726 1977 540 1958M609 1881Q550 1813 523 1899M656 2068Q631 1946 750 1984M791 1952Q780 1993 747 1966M519 1849Q525 1978 653 1954M654 2048Q800 2055 711 1939M492 1986Q604 1959 563 2066M790 2005Q506 2107 609 1824M699 1924Q552 1817 529 1998M686 1816Q732 1827 706 1867M543 1883Q509 1867 530 1835M673 1906Q659 1977 724 1945M564 1927Q507 1942 515 1884M750 2102Q832 1920 635 1890M510 1992Q501 1935 559 1941M669 2028Q689 2005 663 1988M746 2049Q672 1938 805 1938M609 1987Q623 1922 559 1941M792 1982Q778 2061 723 2002M655 2084Q830 1938 609 1881M706 1867Q668 2018 549 1918M618 2054Q523 2014 600 1945M732 2088Q603 1948 785 1889M750 1984Q831 1950 762 1896M761 1959Q745 1919 787 1914M610 2083Q596 2051 629 2041M700 1834Q586 1937 732 1985M570 2026Q591 2119 671 2067M597 1853Q664 1761 706 1867" stroke="#4ed6c0" stroke-opacity="0.5" stroke-width="1.8" fill="none"/><path d="M719 1842Q658 2059 515 1884M761 1959Q678 2057 649 1931M565 1849Q592 1902 641 1869M771 2019Q741 1881 641 1982M597 1907Q639 2019 526 1979M515 2043Q511 1964 582 2000M717 2078Q883 2057 779 1926M554 1835Q531 2036 699 1924M617 1863Q703 1881 642 1944M736 1957Q671 1904 641 1982M649 1931Q515 1879 530 2022M720 1924Q569 1818 510 1992M523 1943Q517 2024 589 1988M537 1898Q492 1886 519 1849M652 1883Q625 1924 673 1934M571 2050Q508 2057 529 1998M735 1849Q722 1888 762 1896M730 2015Q550 2075 575 1887M642 1944Q689 2038 584 2035M621 2003Q657 1931 577 1935M792 2069Q717 2010 709 2105M623 2071Q450 1989 617 1896M717 2044Q619 2087 641 1982M795 1901Q641 2009 654 1821M574 2087Q720 2155 756 1998M570 2026Q511 1859 688 1846M617 2023Q631 2117 539 2094M562 1962Q703 2091 744 1903M773 1907Q666 1966 688 1846M652 2016Q742 1973 749 2073M721 1858Q650 1769 624 1880M494 2017Q634 1955 511 1865M629 1914Q574 1849 654 1821M617 1896Q556 1945 555 1867M594 2079Q762 2059 706 1898M673 1934Q570 1894 565 2005M747 1966Q666 1865 599 1976M792 2069Q731 2122 688 2054M579 1905Q668 1898 663 1988M669 1887Q652 1970 736 1957M577 1935Q671 1846 544 1822M622 1928Q658 1878 699 1924M738 1999Q696 2067 635 2015M546 2077Q670 2119 663 1988M694 2101Q629 2105 668 2053M689 1862Q683 1775 603 1808M617 2023Q736 1970 722 2099M606 2069Q648 2006 580 1973M771 2019Q833 2017 810 2074M706 2064Q533 2048 617 1896M670 1962Q644 2016 704 2013M563 2066Q618 2037 565 2005M689 1862Q665 1928 735 1930M656 2068Q614 2054 635 2015M673 1934Q629 1854 721 1858M792 1982Q801 2141 668 2053M525 1960Q648 1815 708 1996M503 1975Q622 1914 541 1807M750 1984Q669 2095 599 1976M649 1931Q561 2027 688 2054M603 2014Q581 1924 673 1934M666 1947Q706 2019 761 1959M641 1869Q637 1972 549 1918M738 1999Q734 1833 570 1863M693 1959Q629 1953 673 1906M576 1820Q830 1828 687 2039M735 1849Q788 2003 629 2041M550 2014Q502 2090 592 2100M761 1959Q702 2000 673 1934M710 1884Q666 2037 579 1905M757 2061Q665 1837 529 2037M597 2053Q747 1871 803 2100M599 1976Q649 1962 629 1914M635 2015Q697 2056 632 2092M536 1858Q668 1864 599 1976" stroke="#4ed6c0" stroke-opacity="0.5" stroke-width="1.8" fill="none"/><path d="M468 2181Q549 2364 350 2344M467 2257Q363 2172 321 2301M264 2128Q198 2286 361 2233M385 2276Q342 2146 479 2151M440 2363Q460 2128 270 2267M429 2301Q232 2395 209 2178M338 2175Q337 2234 287 2203M358 2441Q226 2346 373 2276M342 2335Q424 2356 430 2272M256 2388Q344 2235 402 2402M299 2379Q430 2325 332 2223M209 2211Q215 2368 359 2303M364 2290Q292 2363 388 2400M279 2236Q414 2161 438 2313M267 2145Q79 2234 262 2333M263 2208Q244 2266 304 2277M294 2285Q268 2359 342 2335M261 2315Q337 2496 424 2320M400 2368Q384 2285 311 2329M473 2216Q355 2199 363 2318M381 2291Q438 2354 475 2278M242 2363Q181 2305 261 2278M368 2262Q442 2293 375 2338M302 2351Q285 2298 243 2335M478 2351Q462 2437 395 2381M321 2384Q328 2264 438 2313M342 2436Q521 2375 358 2278M180 2148Q263 2191 202 2261M410 2443Q539 2405 452 2304M463 2343Q362 2239 332 2382M314 2342Q370 2315 313 2291M358 2408Q321 2325 412 2322M319 2275Q384 2349 286 2351M438 2313Q495 2426 372 2400M358 2408Q522 2306 348 2222M432 2169Q310 2166 358 2278M361 2173Q220 2343 440 2363M202 2165Q368 2166 278 2305M442 2258Q491 2367 375 2338M474 2374Q459 2432 424 2383M492 2256Q465 2419 327 2329M302 2351Q371 2326 372 2400M325 2367Q353 2215 477 2308M487 2329Q480 2370 444 2348M380 2306Q417 2329 432 2288M432 2169Q247 2269 424 2383M410 2160Q461 2192 485 2137M394 2346Q253 2322 340 2208M298 2235Q368 2238 338 2175M429 2430Q330 2340 462 2317M390 2334Q228 2260 386 2178M304 2149Q279 2280 397 2218M385 2276Q447 2378 498 2270M413 2277Q511 2146 347 2157M364 2290Q391 2141 242 2163M438 2313Q404 2328 423 2360M419 2413Q367 2380 358 2441M463 2343Q382 2279 343 2375M442 2258Q288 2315 419 2413M314 2342Q316 2191 432 2288M242 2363Q102 2180 330 2156M319 2275Q332 2198 391 2250M159 2184Q221 2077 308 2164M239 2262Q350 2412 432 2245M326 2431Q389 2378 314 2342M487 2329Q393 2342 429 2430M390 2334Q477 2294 463 2390M327 2329Q526 2360 445 2176M428 2334Q446 2403 381 2373M286 2351Q182 2259 300 2186M396 2284Q349 2089 196 2217M332 2291Q447 2315 412 2427M397 2296Q324 2143 180 2234M300 2261Q367 2149 237 2148M442 2281Q469 2086 300 2186M378 2387Q498 2365 413 2277M413 2372Q340 2433 314 2342M475 2232Q301 2183 359 2354M479 2151Q351 2330 264 2128M381 2291Q410 2342 432 2288M405 2195Q436 2275 351 2268M375 2338Q247 2336 316 2228M364 2290Q290 2285 332 2223M418 2343Q403 2264 344 2320M381 2373Q164 2419 268 2223M261 2278Q275 2136 405 2195M256 2388Q355 2452 342 2335M243 2378Q425 2256 245 2131M424 2383Q335 2481 259 2373M377 2241Q430 2228 405 2179M394 2346Q429 2306 385 2276M385 2276Q410 2303 430 2272M492 2306Q444 2353 414 2293M477 2308Q471 2390 406 2339M321 2384Q226 2281 361 2247M412 2387Q308 2331 413 2277M400 2368Q495 2318 415 2246M303 2338Q242 2082 485 2183M321 2178Q415 2266 449 2142M364 2290Q315 2402 435 2378M347 2286Q467 2337 358 2408M300 2261Q415 2183 477 2308M442 2281Q290 2272 358 2408M372 2206Q370 2088 267 2145M268 2298Q257 2454 395 2381M303 2338Q246 2249 348 2222M465 2145Q317 2269 496 2341" stroke="#f0b42a" stroke-opacity="0.55" stroke-width="1.8" fill="none"/><path d="M276 2380Q191 2294 298 2235M332 2291Q245 2299 276 2380M236 2245Q238 2335 321 2301M487 2329Q508 2264 442 2281M375 2338Q391 2394 440 2363M302 2351Q179 2222 357 2205M330 2129Q302 2233 209 2178M221 2311Q398 2271 267 2145M278 2286Q311 2261 279 2236M381 2348Q312 2308 385 2276M380 2306Q440 2286 429 2348M352 2392Q425 2398 390 2334M492 2256Q489 2321 432 2288M430 2272Q433 2311 397 2296M300 2186Q376 2268 268 2298M180 2209Q338 2100 413 2277M428 2334Q353 2385 321 2301M440 2363Q345 2364 396 2284M438 2313Q324 2343 419 2413M419 2413Q374 2395 403 2356M363 2333Q316 2287 302 2351M340 2359Q400 2308 435 2378M340 2208Q262 2340 402 2402M462 2317Q424 2304 418 2343M359 2354Q394 2329 359 2303M372 2400Q381 2362 412 2387M311 2376Q311 2277 398 2325M381 2348Q423 2305 364 2290M199 2277Q362 2127 381 2348M410 2443Q331 2454 343 2375M388 2400Q502 2282 357 2205M352 2423Q545 2461 452 2288M327 2329Q391 2322 368 2262M462 2281Q438 2186 361 2247M445 2209Q513 2273 435 2325M306 2313Q260 2383 343 2375M168 2196Q199 2171 164 2152M313 2291Q331 2428 444 2348M492 2256Q448 2403 358 2278M294 2285Q220 2355 311 2399M470 2329Q415 2124 278 2286M263 2208Q479 2024 477 2308M429 2430Q492 2320 373 2276M165 2212Q348 2180 354 2366M359 2303Q398 2114 221 2191M223 2346Q287 2412 327 2329M276 2380Q484 2387 405 2195M298 2235Q269 2299 218 2251M475 2278Q353 2283 424 2383M330 2262Q456 2235 423 2360M342 2335Q242 2384 342 2436M280 2128Q317 2223 221 2191M378 2387Q368 2440 326 2407M298 2213Q279 2278 218 2251M407 2135Q261 2124 319 2260M462 2281Q460 2235 415 2246M462 2317Q379 2249 359 2354M292 2320Q249 2354 250 2299M380 2306Q299 2188 206 2298M406 2339Q445 2322 414 2293M478 2351Q330 2346 412 2223M338 2276Q410 2241 424 2320M372 2400Q469 2429 487 2329M262 2333Q438 2464 432 2245M413 2277Q364 2174 476 2199M232 2276Q419 2064 463 2343M244 2201Q164 2342 321 2384M439 2195Q446 2294 347 2286M318 2145Q238 2298 406 2339M319 2275Q251 2377 372 2400M435 2325Q446 2292 477 2308M180 2148Q229 2200 245 2131M330 2156Q400 2266 270 2267M286 2351Q381 2172 180 2148M321 2384Q410 2347 391 2442M342 2436Q293 2364 375 2338M344 2320Q281 2233 227 2325M361 2173Q406 2281 490 2199M321 2384Q366 2349 317 2318M230 2210Q150 2352 311 2376M385 2276Q380 2179 476 2199M404 2258Q284 2285 367 2376M372 2400Q338 2233 492 2306M470 2329Q509 2214 388 2203M466 2161Q396 2173 442 2228M447 2397Q460 2256 342 2335M299 2379Q244 2325 304 2277M390 2334Q211 2374 298 2213M159 2184Q184 2282 244 2201M381 2348Q359 2292 311 2329M459 2369Q404 2499 321 2384M238 2180Q349 2215 268 2298M363 2318Q512 2289 465 2145M292 2320Q344 2327 338 2276M473 2216Q484 2126 395 2146M244 2201Q341 2253 371 2147M435 2325Q396 2347 424 2383M442 2129Q261 2149 359 2303M429 2301Q332 2341 420 2398M361 2247Q482 2312 399 2421M397 2296Q434 2219 348 2222M433 2408Q480 2398 454 2358M498 2270Q404 2247 418 2343M359 2354Q406 2347 380 2306M447 2329Q449 2404 387 2362M352 2392Q475 2419 466 2294M462 2317Q375 2342 447 2397" stroke="#f0b42a" stroke-opacity="0.55" stroke-width="1.8" fill="none"/><path d="M466 2161Q368 2274 491 2360M315 2129Q152 2183 261 2315M490 2199Q388 2239 364 2132M429 2430Q398 2375 372 2432M168 2196Q319 2035 343 2255M278 2334Q266 2265 332 2291M364 2290Q449 2331 367 2376M353 2190Q434 2318 286 2351M378 2387Q286 2372 332 2291M444 2348Q514 2172 332 2223M243 2378Q229 2287 311 2329M463 2390Q377 2402 412 2322M352 2423Q421 2407 381 2348M272 2345Q358 2455 428 2334M399 2421Q321 2268 492 2256M412 2322Q382 2212 294 2285M470 2329Q374 2312 420 2398M446 2417Q396 2466 358 2408M480 2395Q452 2445 420 2398M403 2237Q400 2288 442 2258M278 2305Q303 2362 243 2378M413 2277Q283 2354 287 2203M302 2351Q239 2339 261 2278M452 2304Q395 2402 344 2301M278 2286Q307 2408 423 2360M256 2388Q308 2318 224 2295M458 2201Q297 2300 463 2390M406 2339Q449 2399 470 2329M453 2245Q361 2297 424 2383M397 2296Q400 2348 438 2313M250 2299Q334 2317 276 2380M373 2276Q291 2270 302 2351M452 2288Q425 2336 478 2351M412 2387Q305 2333 391 2250M452 2273Q539 2241 468 2181M243 2378Q334 2284 220 2221M238 2180Q353 2310 468 2181M268 2223Q185 2209 190 2292M243 2335Q390 2253 399 2421M363 2318Q325 2404 419 2413M421 2259Q388 2264 389 2231M310 2422Q332 2377 352 2423M381 2348Q398 2443 459 2369M496 2341Q404 2369 442 2281M476 2199Q309 2158 311 2329M354 2366Q412 2315 351 2268M447 2329Q334 2381 368 2262M397 2296Q296 2265 325 2367M492 2306Q385 2338 469 2412M404 2258Q317 2259 338 2175M261 2315Q332 2175 415 2307M321 2301Q345 2259 381 2291M390 2334Q478 2267 374 2226M423 2360Q386 2247 292 2320M462 2317Q417 2329 454 2358M278 2334Q316 2435 400 2368M482 2167Q396 2149 403 2237M442 2258Q347 2206 443 2155M446 2417Q511 2381 444 2348M364 2290Q312 2319 300 2261M375 2338Q343 2294 397 2296M232 2276Q293 2210 332 2291M491 2213Q426 2294 372 2206M261 2278Q390 2279 347 2157M276 2380Q193 2307 279 2236M330 2310Q267 2386 366 2389M298 2213Q256 2333 380 2306M344 2320Q312 2382 278 2320M442 2258Q414 2219 458 2201M421 2259Q458 2240 462 2281M210 2325Q253 2043 453 2245M491 2213Q404 2261 492 2306M259 2373Q259 2211 397 2296M357 2205Q314 2308 424 2320M289 2406Q379 2454 359 2354M311 2329Q461 2357 397 2218M399 2421Q299 2440 303 2338M382 2131Q389 2241 287 2203M433 2408Q253 2428 319 2260M313 2291Q439 2293 372 2400M318 2145Q210 2255 342 2335M351 2268Q323 2314 288 2274M239 2262Q360 2214 350 2344M351 2268Q473 2284 466 2161M359 2303Q329 2167 457 2222M332 2382Q415 2294 480 2395M387 2362Q404 2244 288 2274M343 2375Q454 2482 470 2329M429 2301Q359 2298 387 2362M487 2329Q457 2415 406 2339M470 2329Q227 2370 301 2134M259 2373Q316 2244 403 2356M352 2392Q328 2239 462 2317M238 2227Q390 2382 432 2169M381 2348Q329 2319 311 2376M453 2245Q295 2173 272 2345M388 2264Q310 2301 381 2348M256 2388Q367 2277 412 2427M300 2261Q415 2185 412 2322M278 2305Q359 2258 394 2346M424 2320Q397 2253 344 2301M381 2322Q513 2385 487 2241M385 2276Q406 2356 324 2352M423 2182Q534 2282 424 2383M387 2362Q457 2257 340 2208M353 2190Q403 2295 498 2229" stroke="#f0b42a" stroke-opacity="0.55" stroke-width="1.8" fill="none"/><path d="M321 2178Q427 2174 368 2262M428 2334Q414 2289 381 2322M317 2318Q460 2191 488 2380M292 2320Q264 2346 245 2313M330 2262Q438 2171 301 2134M458 2201Q546 2408 325 2367M354 2366Q297 2173 487 2241M259 2252Q359 2306 255 2351M413 2277Q425 2084 257 2179M424 2320Q413 2422 325 2367M361 2247Q334 2335 261 2278M424 2320Q369 2413 291 2337M397 2218Q354 2155 430 2142M400 2368Q360 2306 432 2288M243 2335Q224 2386 278 2396M459 2369Q421 2078 224 2295M474 2374Q441 2271 344 2320M242 2163Q195 2324 363 2318M369 2363Q466 2376 442 2281M304 2149Q411 2213 304 2277M232 2276Q344 2280 272 2366M368 2262Q241 2213 272 2345M303 2338Q296 2424 367 2376M492 2256Q302 2263 419 2413M284 2220Q206 2332 342 2335M242 2163Q161 2170 177 2249M342 2236Q481 2335 326 2407M444 2348Q412 2464 311 2399M429 2301Q375 2214 321 2301M278 2305Q283 2239 338 2276M276 2380Q272 2195 432 2288M445 2209Q464 2123 385 2163M369 2363Q257 2295 377 2241M388 2203Q269 2240 324 2352M446 2417Q391 2395 440 2363M279 2236Q252 2280 304 2277M311 2376Q378 2354 317 2318M367 2376Q315 2445 287 2363M180 2234Q318 2202 333 2343M268 2298Q320 2234 244 2201M442 2258Q261 2371 294 2160M354 2366Q430 2288 488 2380M410 2443Q442 2270 286 2351M404 2258Q300 2268 359 2354M442 2228Q451 2133 371 2187M292 2320Q339 2363 359 2303M302 2351Q399 2434 415 2307M278 2286Q337 2309 308 2365M463 2343Q499 2255 404 2258M256 2388Q368 2310 239 2262M321 2178Q394 2255 306 2313M321 2301Q295 2260 278 2305M363 2318Q432 2256 463 2343M428 2334Q527 2429 391 2442M372 2206Q396 2143 330 2129M382 2131Q410 2243 479 2151M264 2128Q293 2267 405 2179M424 2383Q404 2418 378 2387M210 2232Q251 2326 298 2235M358 2278Q396 2399 466 2294M321 2301Q256 2401 372 2432M278 2396Q384 2278 429 2430M444 2348Q458 2287 396 2284M210 2232Q307 2337 331 2196M363 2333Q408 2269 330 2262M308 2365Q309 2284 381 2322M414 2293Q333 2159 278 2305M435 2325Q252 2326 371 2187M423 2182Q278 2214 350 2344M278 2320Q406 2365 389 2231M487 2329Q429 2457 363 2333M364 2290Q486 2286 405 2195M467 2257Q539 2348 423 2360M394 2346Q460 2319 421 2259M395 2146Q315 2130 323 2211M352 2392Q426 2470 474 2374M385 2163Q515 2266 363 2333M467 2257Q436 2180 391 2250M467 2257Q252 2231 352 2423M232 2276Q312 2279 287 2203M317 2318Q426 2389 421 2259M446 2417Q437 2337 367 2376M414 2293Q291 2107 202 2312M289 2406Q405 2189 159 2184M462 2317Q423 2264 398 2325M435 2378Q513 2277 385 2276M300 2261Q364 2305 389 2231M279 2236Q406 2160 415 2307M468 2181Q502 2330 358 2278M274 2191Q313 2262 372 2206M372 2400Q295 2261 445 2209M255 2351Q325 2120 477 2308M340 2208Q417 2185 350 2140M351 2268Q334 2428 488 2380M287 2363Q282 2316 327 2329M245 2313Q368 2398 391 2250M418 2209Q328 2258 347 2157M403 2237Q447 2183 487 2241M262 2333Q277 2456 388 2400M353 2190Q306 2257 385 2276M454 2358Q484 2095 252 2223M352 2423Q411 2415 367 2376M394 2346Q420 2096 210 2232M317 2318Q354 2167 452 2288M306 2313Q351 2255 381 2322M303 2338Q328 2242 414 2293" stroke="#f0b42a" stroke-opacity="0.55" stroke-width="1.8" fill="none"/><path d="M294 2285Q384 2342 403 2237M330 2310Q433 2229 454 2358M262 2333Q278 2395 314 2342M420 2398Q338 2375 394 2311M359 2303Q343 2385 278 2334M371 2187Q239 2237 333 2343M366 2389Q183 2378 298 2235M428 2334Q311 2283 426 2228M287 2203Q179 2307 327 2329M332 2382Q380 2279 268 2298M243 2378Q379 2315 250 2238M268 2223Q234 2443 428 2334M418 2209Q331 2326 274 2191M302 2351Q348 2395 363 2333M447 2397Q421 2346 478 2351M447 2329Q412 2388 480 2395M459 2369Q369 2222 255 2351M367 2376Q301 2379 306 2313M432 2245Q347 2274 371 2187M252 2223Q480 2158 381 2373M311 2329Q283 2181 426 2228M464 2129Q322 2110 361 2247M372 2400Q384 2283 268 2298M479 2151Q500 2266 389 2231M259 2252Q296 2343 202 2312M344 2320Q354 2210 432 2288M270 2267Q446 2116 444 2348M402 2402Q299 2354 397 2296M424 2320Q388 2419 314 2342M268 2298Q426 2283 352 2423M177 2249Q256 2360 343 2255M342 2409Q392 2438 395 2381M294 2285Q327 2213 388 2264M469 2412Q403 2341 352 2423M418 2343Q595 2223 395 2146M412 2322Q386 2209 279 2256M475 2278Q380 2322 348 2222M299 2379Q275 2404 259 2373M479 2151Q297 2128 381 2291M316 2193Q226 2263 330 2310M186 2166Q306 2419 445 2176M358 2441Q362 2349 433 2408M398 2325Q421 2250 343 2255M326 2407Q294 2251 435 2325M252 2223Q375 2109 385 2276M405 2195Q390 2271 317 2247M342 2335Q406 2393 415 2307M412 2427Q480 2404 423 2360M478 2351Q457 2399 413 2372M470 2329Q402 2384 397 2296M286 2351Q276 2233 385 2276M209 2133Q414 2135 294 2300M354 2366Q379 2332 400 2368M445 2176Q345 2376 238 2180M359 2303Q201 2391 209 2211M342 2236Q321 2140 244 2201M354 2366Q412 2463 488 2380M288 2274Q216 2329 197 2241M315 2129Q432 2302 224 2295M387 2362Q317 2393 292 2320M406 2339Q331 2350 388 2400M464 2129Q265 2158 381 2322M470 2329Q444 2295 428 2334M238 2227Q281 2295 202 2312M330 2310Q327 2130 180 2234M388 2400Q185 2395 263 2208M218 2251Q322 2221 311 2329M389 2231Q340 2225 371 2187M467 2257Q384 2140 338 2276M442 2281Q401 2269 394 2311M446 2417Q560 2317 413 2277M388 2264Q239 2219 259 2373M498 2229Q408 2147 368 2262M415 2246Q263 2292 395 2381M268 2298Q334 2389 397 2296M445 2209Q371 2057 287 2203M313 2291Q415 2333 412 2223M358 2441Q304 2291 462 2317M424 2320Q511 2215 385 2163M440 2363Q380 2267 492 2256M352 2392Q317 2422 311 2376M371 2147Q429 2246 316 2228M394 2346Q339 2337 352 2392M452 2304Q256 2252 342 2436M400 2368Q362 2411 410 2443M311 2376Q343 2305 381 2373M338 2175Q83 2278 326 2407M335 2395Q159 2389 250 2238M259 2373Q410 2461 432 2288M452 2273Q478 2354 398 2325M236 2245Q186 2341 292 2320M372 2400Q324 2407 358 2441M369 2363Q417 2370 412 2322M325 2367Q257 2317 319 2260M413 2277Q478 2355 388 2400M485 2183Q468 2370 294 2300M250 2238Q448 2412 479 2151M361 2173Q548 2179 424 2320M311 2329Q117 2284 245 2131M435 2325Q300 2289 386 2178M381 2291Q431 2312 442 2258M435 2325Q345 2321 388 2400M344 2320Q391 2298 381 2348M262 2333Q393 2463 466 2294M412 2387Q278 2426 313 2291M358 2408Q519 2247 300 2186" stroke="#f0b42a" stroke-opacity="0.55" stroke-width="1.8" fill="none"/><path d="M412 2427Q372 2372 440 2363M490 2199Q313 2027 239 2262M447 2397Q468 2288 359 2303M180 2264Q316 2225 287 2363M381 2348Q388 2237 485 2291M378 2387Q377 2470 310 2422M371 2187Q295 2134 268 2223M372 2400Q328 2385 326 2431M419 2413Q370 2422 381 2373M352 2423Q391 2394 391 2442M285 2180Q328 2288 218 2251M397 2296Q311 2366 391 2442M485 2183Q514 2262 430 2272M385 2276Q362 2230 319 2260M344 2320Q242 2314 284 2220M363 2318Q203 2332 225 2173M224 2295Q420 2241 391 2442M394 2311Q377 2396 459 2369M176 2180Q274 2126 298 2235M353 2190Q431 2231 364 2290M350 2344Q409 2397 424 2320M292 2320Q259 2357 308 2365M399 2421Q218 2374 368 2262M353 2190Q516 2201 444 2348M364 2290Q314 2295 333 2343M287 2203Q279 2328 388 2264M232 2276Q300 2293 243 2335M429 2348Q349 2304 335 2395M319 2275Q262 2221 340 2208M327 2329Q367 2350 380 2306M361 2233Q271 2292 359 2354M300 2261Q228 2177 338 2175M399 2421Q434 2256 278 2320M316 2193Q161 2146 224 2295M491 2360Q413 2499 311 2376M352 2423Q358 2300 259 2373M403 2356Q353 2297 421 2259M422 2129Q516 2175 426 2228M429 2348Q425 2272 363 2318M210 2325Q340 2363 298 2235M317 2247Q279 2356 394 2346M422 2129Q533 2123 473 2216M422 2129Q199 2246 423 2360M342 2409Q337 2309 423 2360M442 2258Q330 2177 465 2145M326 2407Q468 2326 319 2260M321 2384Q460 2270 300 2186M492 2256Q283 2204 372 2400M404 2258Q405 2300 364 2290M413 2372Q346 2364 380 2306M371 2147Q477 2100 473 2216M288 2274Q331 2108 161 2133M442 2228Q527 2275 438 2313M423 2360Q480 2331 442 2281M338 2175Q315 2301 442 2281M291 2337Q337 2318 325 2367M257 2179Q262 2354 429 2301M350 2140Q571 2212 375 2338M330 2156Q408 2196 343 2255M333 2343Q234 2421 206 2298M415 2307Q473 2300 453 2245M289 2406Q359 2304 399 2421M278 2320Q281 2407 366 2389M458 2201Q497 2413 306 2313M413 2372Q293 2376 330 2262M476 2199Q299 2212 403 2356M391 2250Q402 2355 475 2278M429 2430Q436 2288 303 2338M444 2348Q373 2502 272 2366M388 2264Q455 2392 311 2376M314 2342Q267 2202 404 2258M496 2341Q401 2138 261 2315M327 2329Q430 2309 419 2413M321 2384Q370 2362 327 2329M326 2431Q385 2336 278 2305M364 2290Q421 2368 462 2281M480 2395Q452 2304 395 2381M400 2368Q379 2321 354 2366M358 2408Q489 2465 447 2329M459 2369Q525 2337 466 2294M342 2335Q394 2302 387 2362M243 2335Q306 2162 452 2273M394 2346Q309 2412 261 2315M272 2366Q410 2510 462 2317M250 2299Q316 2323 276 2380M238 2227Q297 2313 348 2222M216 2273Q274 2261 245 2313M435 2378Q402 2339 367 2376M227 2325Q369 2486 452 2288M321 2178Q229 2263 180 2148M325 2367Q357 2379 342 2409M402 2402Q442 2347 375 2338M498 2270Q409 2272 423 2360M242 2163Q321 2220 364 2132M404 2258Q333 2054 210 2232M496 2341Q477 2253 397 2296M428 2334Q276 2401 250 2238M406 2339Q367 2363 363 2318M263 2208Q451 2149 418 2343M386 2178Q421 2230 361 2247M319 2275Q380 2333 391 2250M250 2299Q264 2361 306 2313M361 2173Q393 2119 432 2169M245 2313Q346 2081 485 2291M347 2157Q438 2269 314 2342M264 2128Q393 2135 368 2262" stroke="#f0b42a" stroke-opacity="0.55" stroke-width="1.8" fill="none"/><path d="M364 2132Q251 2108 298 2213M331 2196Q414 2229 338 2276M477 2308Q496 2186 391 2250M415 2246Q364 2290 424 2320M357 2205Q476 2288 354 2366M239 2262Q270 2436 394 2311M332 2382Q264 2270 389 2231M432 2245Q332 2332 459 2369M244 2201Q242 2469 462 2317M243 2335Q280 2464 369 2363M343 2255Q504 2299 372 2400M438 2313Q399 2243 344 2301M358 2408Q475 2394 414 2293M202 2165Q195 2240 268 2223M413 2372Q271 2269 395 2146M272 2366Q213 2293 300 2261M391 2442Q392 2401 433 2408M402 2272Q306 2404 469 2412M300 2186Q302 2280 391 2250M340 2359Q370 2391 381 2348M389 2231Q239 2296 193 2139M447 2397Q357 2471 308 2365M198 2192Q202 2441 396 2284M442 2258Q368 2239 394 2311M232 2276Q381 2175 429 2348M381 2322Q342 2297 333 2343M380 2306Q257 2396 236 2245M311 2329Q220 2379 232 2276M474 2374Q382 2221 299 2379M407 2135Q499 2380 250 2299M359 2354Q391 2302 330 2310M442 2228Q366 2400 239 2262M340 2359Q422 2359 413 2277M220 2151Q404 2104 381 2291M381 2291Q403 2206 316 2193M279 2256Q356 2294 308 2365M394 2346Q433 2267 347 2286M196 2217Q361 2084 442 2281M238 2180Q227 2239 284 2220M400 2368Q423 2391 440 2363M302 2351Q270 2179 432 2245M463 2343Q267 2437 284 2220M438 2313Q408 2409 333 2343M381 2291Q436 2319 421 2259M359 2354Q361 2316 398 2325M361 2233Q435 2190 452 2273M488 2380Q503 2167 319 2275M303 2338Q280 2274 347 2286M467 2257Q554 2428 366 2389M378 2387Q320 2357 359 2303M343 2375Q453 2249 308 2164M354 2366Q387 2424 435 2378M169 2167Q352 2164 245 2313M221 2191Q247 2239 274 2191M447 2329Q262 2375 316 2193M372 2206Q293 2262 268 2169M302 2351Q219 2177 407 2135M429 2348Q468 2310 491 2360M397 2218Q331 2221 347 2157M394 2311Q364 2340 403 2356M410 2160Q421 2233 348 2222M385 2276Q292 2423 199 2277M180 2209Q203 2070 308 2164M390 2334Q339 2434 272 2345M288 2274Q301 2332 245 2313M340 2208Q290 2259 358 2278M311 2329Q450 2371 426 2228M363 2333Q380 2434 459 2369M316 2193Q285 2301 397 2296M433 2408Q518 2382 447 2329M333 2343Q258 2342 288 2274M340 2359Q156 2301 316 2193M404 2258Q363 2194 439 2195M445 2209Q521 2217 475 2278M243 2335Q361 2254 424 2383M424 2320Q449 2279 402 2272M343 2375Q383 2304 440 2363M485 2137Q463 2223 386 2178M371 2187Q288 2177 300 2261M415 2307Q458 2364 387 2362M423 2182Q413 2226 372 2206M350 2140Q532 2136 432 2288M443 2155Q507 2319 333 2343M403 2356Q330 2389 330 2310M259 2373Q261 2334 223 2346M321 2301Q443 2329 391 2442M491 2213Q430 2099 357 2205M317 2247Q276 2389 424 2383M350 2140Q312 2210 255 2154M396 2284Q412 2330 363 2333M330 2262Q328 2160 418 2209M447 2397Q279 2466 294 2285M352 2392Q540 2228 304 2149M475 2232Q372 2169 364 2290M498 2270Q325 2135 286 2351M332 2382Q338 2272 428 2334M223 2346Q185 2113 397 2218M423 2360Q379 2394 375 2338M317 2247Q373 2377 475 2278M317 2247Q331 2365 438 2313M221 2191Q232 2444 432 2288M429 2301Q435 2223 368 2262M404 2258Q429 2233 397 2218M326 2407Q310 2365 278 2396M316 2228Q359 2250 332 2291M398 2325Q417 2175 279 2236" stroke="#f0b42a" stroke-opacity="0.55" stroke-width="1.8" fill="none"/><path d="M300 2261Q291 2365 394 2346M397 2296Q398 2356 342 2335M413 2277Q303 2267 361 2173M476 2199Q323 2042 259 2252M311 2376Q378 2321 304 2277M218 2251Q411 2073 428 2334M327 2329Q459 2266 469 2412M332 2291Q382 2288 375 2338M442 2258Q250 2333 264 2128M482 2167Q510 2411 304 2277M256 2388Q417 2289 238 2227M243 2335Q262 2238 330 2310M464 2129Q331 2142 415 2246M294 2285Q282 2144 167 2226M400 2368Q452 2294 368 2262M202 2312Q286 2240 286 2351M319 2275Q457 2358 310 2422M467 2257Q310 2128 221 2311M340 2208Q248 2349 412 2387M330 2262Q372 2264 359 2303M298 2235Q355 2229 347 2286M262 2333Q303 2298 333 2343M323 2211Q300 2274 364 2290M438 2313Q408 2231 492 2256M429 2430Q322 2404 398 2325M394 2311Q427 2278 391 2250M294 2300Q397 2326 352 2423M354 2366Q375 2232 470 2329M294 2285Q118 2299 193 2139M361 2173Q424 2192 391 2250M412 2223Q367 2335 261 2278M206 2298Q290 2258 286 2351M300 2186Q324 2301 412 2223M348 2222Q446 2307 485 2183M302 2351Q449 2302 323 2211M363 2318Q413 2422 496 2341M467 2257Q519 2416 352 2423M232 2276Q310 2076 421 2259M321 2384Q352 2424 367 2376M245 2313Q328 2342 343 2255M388 2203Q493 2253 485 2137M438 2313Q417 2395 340 2359M361 2173Q503 2303 352 2423M278 2320Q321 2521 459 2369M364 2132Q374 2249 263 2208M180 2264Q236 2307 250 2238M180 2234Q219 2362 332 2291M278 2305Q412 2318 358 2441M418 2343Q368 2358 412 2387M287 2203Q381 2254 371 2147M442 2228Q389 2319 348 2222M459 2369Q503 2309 429 2301M326 2407Q309 2328 390 2334M352 2392Q388 2413 358 2441M435 2325Q331 2300 326 2407M438 2313Q461 2393 378 2387M342 2335Q249 2339 300 2261M404 2258Q437 2322 467 2257M361 2233Q399 2313 311 2329M487 2329Q410 2402 397 2296M496 2341Q310 2376 388 2203M209 2178Q398 2202 272 2345M377 2241Q237 2242 324 2352M377 2241Q277 2312 394 2346M239 2262Q343 2396 442 2258M487 2241Q338 2170 342 2335M198 2192Q273 2353 415 2246M342 2409Q384 2392 359 2354M261 2278Q305 2312 330 2262M452 2273Q517 2318 444 2348M303 2338Q307 2377 340 2359M286 2351Q177 2259 316 2228M366 2389Q480 2384 452 2273M340 2208Q358 2131 405 2195M359 2303Q269 2372 216 2273M389 2231Q269 2292 294 2160M482 2167Q344 2280 480 2395M424 2320Q373 2211 294 2300M397 2296Q335 2282 350 2344M261 2278Q239 2408 359 2354M343 2255Q469 2327 485 2183M209 2211Q294 2085 388 2203M245 2131Q267 2316 418 2209M415 2307Q338 2272 359 2354M459 2369Q481 2340 447 2329M359 2354Q334 2315 380 2306M250 2299Q414 2448 442 2228M286 2351Q309 2480 395 2381M386 2178Q433 2234 361 2247M169 2167Q214 2138 221 2191M324 2352Q463 2156 224 2134M482 2167Q366 2161 373 2276M475 2232Q411 2209 413 2277M426 2228Q280 2324 433 2408M272 2366Q383 2478 412 2322M352 2423Q377 2328 433 2408M373 2276Q397 2324 344 2320M350 2344Q499 2232 321 2178M353 2190Q289 2365 474 2374M487 2329Q455 2416 394 2346M268 2223Q446 2154 418 2343M367 2376Q553 2405 453 2245M331 2196Q308 2301 415 2307M458 2201Q375 2203 413 2277M268 2169Q358 2246 261 2315M180 2209Q237 2137 268 2223" stroke="#f0b42a" stroke-opacity="0.55" stroke-width="1.8" fill="none"/><path d="M589 2129Q663 2155 628 2225M654 2241Q719 2387 563 2350M616 2261Q667 2215 698 2277M597 2177Q526 2191 530 2119M678 2420Q817 2296 646 2222M572 2134Q590 2226 651 2155M770 2198Q738 2139 713 2201M732 2355Q704 2328 736 2307M583 2149Q705 2124 716 2247M569 2154Q851 2182 651 2382M692 2125Q833 2204 706 2302M509 2212Q629 2069 750 2210M706 2302Q735 2339 759 2299M650 2263Q730 2282 731 2200M706 2302Q737 2096 530 2119M517 2315Q596 2429 699 2335M659 2297Q710 2212 759 2299M805 2202Q715 2269 713 2156M563 2350Q726 2410 688 2240M742 2126Q682 2222 794 2241M621 2186Q666 2130 711 2186M517 2183Q583 2182 556 2242M552 2154Q675 2159 657 2281M713 2201Q665 2189 699 2153M640 2292Q627 2262 599 2280M706 2302Q752 2148 597 2192M618 2334Q662 2424 563 2411M565 2265Q487 2239 517 2315M560 2371Q710 2352 628 2225M711 2186Q478 2296 706 2416M653 2402Q734 2354 659 2297M630 2311Q719 2274 728 2370M678 2420Q592 2212 816 2237M728 2370Q711 2322 684 2365M816 2191Q817 2280 738 2240M668 2237Q627 2323 585 2237M588 2218Q613 2193 628 2225M511 2250Q612 2257 543 2331M545 2274Q617 2427 736 2307M775 2176Q740 2169 756 2137M657 2281Q502 2321 629 2418M510 2345Q598 2280 633 2383M629 2418Q565 2187 802 2225M554 2291Q596 2302 589 2259M604 2410Q622 2363 653 2402M559 2141Q592 2202 522 2198M796 2122Q825 2267 692 2202M793 2210Q723 2165 688 2240M746 2261Q808 2364 690 2385M651 2155Q801 2199 733 2339M535 2343Q539 2110 750 2210M675 2268Q564 2360 522 2223M757 2236Q697 2219 723 2276M550 2258Q557 2421 715 2376M573 2247Q707 2260 629 2150M653 2402Q577 2402 601 2330M607 2424Q644 2302 517 2315M522 2397Q579 2359 516 2330M709 2232Q665 2168 611 2223M572 2134Q561 2367 763 2250M514 2152Q610 2203 511 2250M706 2169Q604 2171 650 2263M648 2419Q768 2309 628 2225M710 2395Q609 2317 734 2291M537 2239Q537 2151 608 2202M535 2385Q568 2427 515 2436M589 2259Q736 2377 805 2202M716 2291Q747 2242 692 2223M786 2194Q709 2292 667 2174M573 2247Q672 2340 745 2225M598 2149Q656 2170 628 2225M724 2231Q832 2297 728 2370M720 2138Q570 2158 640 2292M589 2409Q822 2338 638 2179M516 2330Q502 2166 667 2174M734 2291Q614 2261 711 2186M746 2261Q788 2121 652 2171M723 2171Q608 2313 572 2134M653 2186Q632 2263 573 2209M802 2225Q642 2265 706 2416M659 2350Q629 2443 551 2385M682 2176Q743 2292 618 2334" stroke="#f06b5b" stroke-opacity="0.55" stroke-width="1.8" fill="none"/><path d="M693 2349Q626 2162 820 2207M748 2288Q684 2308 732 2355M632 2342Q585 2234 516 2330M686 2142Q587 2116 588 2218M618 2334Q583 2389 535 2343M750 2210Q801 2265 816 2191M784 2284Q776 2356 719 2311M662 2254Q726 2338 757 2236M588 2349Q701 2317 628 2225M672 2307Q628 2317 659 2350M650 2308Q571 2186 713 2156M675 2194Q603 2159 585 2237M576 2322Q528 2230 631 2248M704 2215Q609 2279 719 2311M626 2132Q566 2267 709 2232M629 2418Q656 2371 678 2420M731 2257Q831 2207 732 2157M697 2188Q765 2232 698 2277M576 2120Q665 2159 588 2218M560 2371Q654 2264 710 2395M576 2120Q744 2284 521 2357M678 2346Q545 2307 578 2441M640 2292Q572 2156 723 2171M811 2133Q840 2377 631 2248M509 2408Q528 2350 568 2396M625 2372Q523 2357 550 2258M610 2119Q461 2224 636 2274M644 2326Q768 2123 530 2119M750 2323Q768 2151 597 2177M686 2142Q708 2193 653 2186M650 2263Q710 2166 597 2177M573 2209Q678 2235 594 2303M547 2196Q549 2117 626 2132M534 2253Q629 2356 506 2424M727 2186Q699 2276 640 2202M651 2382Q859 2232 614 2154M743 2180Q664 2229 734 2291M760 2221Q676 2213 704 2134M537 2239Q663 2498 794 2241M657 2281Q748 2179 793 2309M686 2142Q733 2144 711 2186M684 2365Q675 2443 604 2410M797 2274Q673 2106 615 2307M535 2343Q581 2403 601 2330M690 2385Q605 2355 657 2281M636 2274Q607 2155 534 2253M773 2343Q650 2282 648 2419M723 2171Q678 2327 534 2253M765 2329Q697 2340 742 2393M709 2232Q801 2245 750 2323M791 2259Q764 2187 716 2247M522 2397Q566 2388 563 2433M674 2219Q564 2236 618 2334M604 2410Q651 2365 660 2429M745 2225Q710 2294 654 2241M764 2154Q526 2111 618 2334M684 2365Q676 2298 618 2334M820 2207Q734 2226 773 2304M713 2156Q801 2199 716 2247M545 2274Q626 2237 547 2196M612 2362Q618 2294 562 2333M728 2215Q719 2155 775 2176M612 2362Q563 2410 521 2357M605 2238Q566 2162 652 2171M775 2176Q724 2063 667 2174M716 2247Q820 2114 651 2119M682 2176Q609 2303 531 2178M819 2223Q726 2112 700 2255M511 2235Q700 2278 548 2399M608 2202Q744 2093 765 2266M700 2255Q741 2138 816 2237M771 2141Q685 2413 517 2183M780 2158Q699 2200 753 2274M738 2240Q575 2414 517 2183M666 2157Q500 2122 580 2272M515 2436Q505 2368 568 2396M700 2371Q632 2295 734 2291M646 2222Q837 2253 722 2409M553 2182Q749 2116 750 2323M666 2157Q587 2253 514 2152M534 2253Q663 2354 509 2408M585 2237Q627 2295 668 2237" stroke="#f06b5b" stroke-opacity="0.55" stroke-width="1.8" fill="none"/><path d="M646 2222Q608 2185 651 2155M667 2174Q630 2286 748 2288M643 2141Q593 2268 724 2231M692 2202Q723 2106 626 2132M592 2367Q756 2261 587 2163M604 2346Q517 2405 514 2300M698 2277Q799 2322 700 2371M667 2174Q792 2243 659 2297M678 2252Q834 2274 756 2137M685 2328Q744 2194 597 2192M819 2223Q663 2255 742 2393M535 2385Q580 2357 589 2409M672 2307Q533 2261 629 2150M556 2319Q729 2199 722 2409M542 2134Q503 2267 640 2292M531 2178Q665 2294 522 2397M699 2153Q574 2290 749 2354M675 2268Q570 2188 556 2319M688 2306Q594 2260 675 2194M517 2183Q536 2411 712 2264M663 2372Q554 2334 631 2248M750 2210Q666 2225 686 2142M568 2396Q638 2250 742 2375M793 2210Q712 2123 688 2240M635 2119Q595 2192 674 2219M732 2157Q701 2318 597 2192M583 2149Q528 2317 704 2320M644 2326Q703 2273 717 2351M686 2142Q786 2133 745 2225M588 2349Q536 2316 580 2272M604 2346Q595 2069 816 2237M631 2248Q497 2319 513 2168M615 2307Q617 2438 728 2370M733 2339Q635 2327 690 2409M511 2235Q567 2422 698 2277M592 2367Q656 2327 653 2402M656 2336Q689 2415 749 2354M578 2419Q671 2446 659 2350M578 2419Q772 2335 585 2237M583 2194Q489 2239 579 2291M733 2339Q603 2304 599 2439M650 2308Q731 2334 700 2255M706 2169Q690 2231 750 2210M635 2119Q665 2224 738 2142M572 2362Q502 2378 546 2436M675 2268Q650 2373 579 2291M648 2419Q477 2386 545 2226M517 2315Q587 2377 617 2288M711 2186Q661 2303 562 2222M522 2198Q550 2169 514 2152M545 2274Q606 2192 675 2268M756 2137Q631 2116 668 2237M588 2349Q596 2309 556 2319M661 2129Q467 2132 579 2291M793 2309Q606 2241 599 2439M697 2188Q682 2140 637 2164M652 2171Q753 2244 775 2121M723 2171Q659 2237 734 2291M668 2237Q722 2219 723 2276M580 2272Q691 2296 653 2402M629 2400Q748 2358 640 2292M548 2399Q603 2296 653 2402M706 2302Q834 2253 723 2171M733 2339Q694 2247 794 2241M678 2252Q676 2166 611 2223M514 2300Q668 2369 640 2202M588 2218Q480 2223 542 2134M594 2303Q609 2223 534 2253M541 2363Q589 2411 531 2445M793 2210Q829 2262 769 2280M793 2210Q727 2195 746 2261M653 2186Q829 2333 604 2379M522 2198Q632 2278 521 2357M610 2119Q407 2219 615 2307M769 2280Q695 2134 589 2259M530 2119Q692 2222 530 2324M699 2335Q614 2227 747 2194M617 2288Q532 2322 604 2379M562 2222Q659 2242 614 2154M672 2307Q702 2134 527 2158M539 2292Q693 2225 724 2390M554 2291Q685 2418 797 2274" stroke="#f06b5b" stroke-opacity="0.55" stroke-width="1.8" fill="none"/><path d="M550 2258Q616 2185 517 2183M681 2159Q594 2293 750 2323M626 2132Q717 2231 796 2122M794 2294Q726 2240 725 2327M604 2346Q627 2228 704 2320M587 2163Q676 2270 539 2292M542 2134Q623 2302 704 2134M604 2346Q561 2402 624 2434M688 2240Q663 2408 539 2292M659 2297Q627 2172 750 2210M733 2339Q841 2200 667 2174M610 2119Q570 2290 738 2240M588 2349Q551 2326 579 2291M749 2354Q633 2520 535 2343M599 2439Q497 2312 659 2297M666 2157Q564 2083 573 2209M650 2263Q658 2348 576 2322M758 2181Q717 2119 667 2174M811 2133Q632 2108 698 2277M648 2419Q695 2434 690 2385M690 2409Q617 2443 592 2367M522 2223Q494 2499 732 2355M522 2198Q666 2312 509 2408M551 2385Q594 2264 663 2372M586 2395Q497 2387 534 2306M585 2237Q628 2282 646 2222M713 2201Q763 2221 716 2247M659 2297Q778 2357 774 2224M522 2223Q705 2177 684 2365M713 2156Q566 2222 706 2302M624 2434Q514 2432 562 2333M716 2247Q599 2388 522 2223M794 2294Q684 2287 724 2390M654 2241Q540 2289 570 2169M651 2155Q662 2303 779 2210M816 2237Q670 2219 684 2365M628 2225Q530 2336 678 2346M605 2238Q575 2181 637 2164M753 2274Q668 2190 650 2308M556 2242Q722 2291 624 2434M559 2141Q618 2282 723 2171M545 2420Q517 2354 588 2349M659 2297Q699 2239 748 2288M682 2176Q608 2252 583 2149M776 2241Q626 2152 644 2326M725 2327Q725 2141 573 2247M756 2137Q610 2115 688 2240M713 2201Q749 2248 698 2277M631 2248Q680 2234 640 2202M775 2176Q639 2322 527 2158M748 2288Q814 2290 802 2225M743 2180Q634 2277 626 2132M617 2288Q657 2328 604 2346M776 2241Q832 2126 704 2134M656 2336Q708 2332 685 2286M572 2362Q532 2352 556 2319M648 2419Q782 2403 688 2306M731 2257Q457 2185 578 2441M750 2323Q739 2279 784 2284M646 2222Q697 2172 629 2150M522 2223Q538 2296 585 2237M715 2376Q667 2299 633 2383M563 2433Q531 2231 719 2311M604 2410Q789 2326 622 2211M605 2238Q589 2166 545 2226M614 2154Q546 2146 573 2209M699 2335Q526 2313 638 2179M778 2321Q648 2256 629 2400M780 2270Q658 2169 811 2133M731 2257Q573 2280 668 2409M673 2394Q600 2234 769 2280M704 2320Q644 2226 564 2303M534 2306Q611 2210 688 2306M742 2393Q573 2282 732 2157M632 2342Q734 2433 759 2299M508 2373Q568 2173 699 2335M752 2339Q703 2476 612 2362M629 2418Q771 2268 573 2209M700 2371Q631 2255 765 2266M580 2272Q662 2181 716 2291M648 2419Q572 2445 592 2367M506 2424Q578 2463 571 2381" stroke="#f06b5b" stroke-opacity="0.55" stroke-width="1.8" fill="none"/><path d="M750 2210Q701 2384 565 2265M775 2176Q664 2397 570 2169M585 2237Q506 2100 661 2129M725 2327Q713 2267 659 2297M734 2291Q825 2254 758 2181M698 2277Q647 2355 579 2291M742 2393Q643 2422 685 2328M618 2334Q605 2300 576 2322M657 2281Q559 2321 629 2400M629 2418Q570 2336 530 2429M652 2171Q756 2396 516 2330M599 2439Q631 2306 722 2409M545 2274Q486 2416 639 2432M761 2367Q702 2349 690 2409M514 2300Q633 2333 545 2420M541 2363Q780 2399 706 2169M637 2164Q543 2120 522 2223M598 2149Q540 2271 675 2268M816 2191Q700 2230 793 2309M761 2367Q546 2549 531 2268M543 2331Q675 2231 517 2183M746 2261Q590 2276 610 2119M640 2202Q534 2194 610 2119M638 2179Q773 2307 796 2122M615 2307Q588 2268 631 2248M610 2119Q668 2128 638 2179M685 2328Q642 2307 685 2286M650 2263Q604 2312 659 2350M559 2141Q699 2203 567 2281M743 2180Q655 2090 622 2211M698 2277Q652 2398 579 2291M629 2400Q673 2342 601 2330M796 2122Q756 2160 811 2166M537 2239Q540 2358 640 2292M640 2292Q722 2329 738 2240M564 2303Q701 2341 599 2439M723 2276Q720 2411 592 2367M750 2210Q740 2245 776 2241M663 2372Q487 2273 651 2155M586 2335Q636 2219 511 2235M786 2194Q690 2169 675 2268M580 2272Q625 2189 531 2178M725 2327Q623 2458 564 2303M706 2302Q618 2197 556 2319M565 2265Q657 2191 542 2166M585 2237Q560 2162 638 2179M631 2248Q654 2158 709 2232M711 2186Q668 2231 652 2171M656 2336Q575 2264 521 2357M510 2345Q579 2164 746 2261M743 2180Q650 2318 553 2182M534 2253Q633 2281 638 2179M563 2433Q721 2331 556 2242M725 2327Q723 2426 633 2383M819 2223Q749 2299 713 2201M613 2169Q692 2110 731 2200M594 2303Q684 2316 653 2402M685 2286Q694 2215 631 2248M791 2259Q818 2339 733 2339M646 2222Q577 2283 662 2319M629 2418Q768 2298 589 2259M819 2223Q683 2170 719 2311M764 2154Q863 2301 700 2371M580 2272Q615 2320 563 2350M609 2396Q485 2344 589 2259M751 2163Q698 2171 728 2215M734 2291Q641 2299 700 2371M700 2371Q604 2246 760 2221M534 2306Q498 2143 646 2222M713 2201Q871 2341 663 2372M710 2395Q755 2399 749 2354M688 2240Q565 2310 570 2169M672 2307Q730 2325 684 2365M759 2299Q850 2155 682 2176M604 2410Q692 2367 615 2307M763 2250Q827 2239 794 2294M542 2134Q602 2211 635 2119M529 2142Q650 2317 742 2126M678 2346Q732 2343 716 2291M551 2385Q576 2351 535 2343M651 2155Q708 2236 764 2154M628 2225Q533 2229 594 2303" stroke="#f06b5b" stroke-opacity="0.55" stroke-width="1.8" fill="none"/><path d="M786 2194Q589 2238 678 2420M678 2346Q446 2381 542 2166M700 2255Q750 2328 662 2319M780 2270Q729 2254 736 2307M692 2223Q555 2322 715 2376M573 2247Q631 2349 700 2255M633 2383Q601 2352 586 2395M774 2224Q685 2373 622 2211M667 2174Q622 2183 646 2222M563 2411Q707 2347 611 2223M541 2363Q589 2370 563 2411M805 2202Q695 2095 611 2223M773 2304Q715 2143 562 2222M676 2126Q823 2198 675 2268M510 2345Q621 2258 513 2168M793 2210Q731 2239 723 2171M578 2419Q631 2405 592 2367M654 2241Q776 2268 678 2346M774 2224Q791 2355 659 2350M548 2399Q552 2237 712 2264M709 2232Q671 2191 723 2171M743 2180Q679 2296 597 2192M542 2166Q591 2234 637 2164M517 2315Q573 2246 601 2330M706 2416Q746 2327 650 2308M690 2409Q667 2348 732 2355M758 2181Q830 2211 763 2250M662 2254Q696 2310 716 2247M700 2371Q704 2454 629 2418M594 2303Q648 2216 547 2196M513 2277Q493 2092 653 2186M706 2302Q584 2170 757 2120M529 2142Q753 2202 604 2379M663 2372Q811 2280 646 2222M639 2432Q603 2279 759 2299M678 2420Q704 2291 576 2322M559 2141Q742 2284 521 2357M659 2350Q747 2337 706 2416M692 2202Q613 2279 719 2311M646 2222Q598 2269 659 2297M712 2264Q592 2189 601 2330M514 2117Q637 2186 511 2250M617 2288Q639 2129 786 2194M632 2342Q603 2439 528 2372M699 2335Q780 2206 628 2225M738 2142Q619 2166 657 2281M622 2211Q578 2411 765 2329M753 2274Q745 2305 716 2291M706 2302Q615 2134 806 2147M704 2134Q864 2150 794 2294M517 2315Q663 2380 692 2223M743 2180Q650 2161 678 2252M749 2354Q611 2235 563 2411M516 2330Q498 2245 585 2237M668 2409Q747 2205 534 2253M576 2322Q630 2281 565 2265M757 2236Q506 2204 599 2439M586 2395Q731 2382 662 2254M564 2303Q646 2219 719 2311M636 2274Q591 2254 594 2303M531 2268Q537 2498 742 2393M685 2286Q586 2234 666 2157M608 2202Q780 2320 586 2395M672 2307Q599 2216 711 2186M725 2327Q599 2372 605 2238M587 2163Q735 2107 712 2264M638 2359Q757 2461 773 2304M711 2186Q611 2215 651 2119M611 2223Q534 2247 542 2166M514 2152Q563 2321 692 2202M599 2280Q665 2280 628 2225M588 2218Q633 2301 543 2331M692 2125Q864 2137 769 2280M819 2223Q656 2240 710 2395M700 2371Q744 2314 672 2307M733 2339Q554 2216 563 2433M640 2202Q702 2173 688 2240M632 2342Q702 2317 662 2254M794 2241Q683 2288 706 2169M583 2149Q682 2090 713 2201M580 2272Q711 2124 514 2117" stroke="#f06b5b" stroke-opacity="0.55" stroke-width="1.8" fill="none"/><path d="M674 2219Q572 2289 663 2372M632 2342Q514 2332 585 2237M797 2274Q635 2318 629 2150M509 2212Q562 2241 513 2277M510 2345Q522 2213 615 2307M713 2156Q613 2149 631 2248M743 2180Q684 2270 791 2259M724 2390Q626 2330 734 2291M510 2345Q657 2113 761 2367M571 2381Q449 2301 589 2259M653 2402Q713 2244 545 2226M711 2186Q422 2172 589 2409M556 2242Q553 2143 651 2155M508 2389Q713 2364 562 2222M636 2274Q768 2242 707 2119M775 2176Q865 2234 769 2280M685 2328Q751 2204 611 2223M731 2200Q703 2161 751 2163M678 2346Q715 2295 732 2355M644 2326Q611 2227 525 2286M629 2400Q426 2204 706 2169M525 2286Q663 2375 506 2424M656 2336Q778 2295 674 2219M720 2138Q735 2204 795 2171M599 2280Q677 2331 716 2247M511 2235Q503 2427 662 2319M625 2372Q394 2257 629 2150M704 2215Q763 2183 763 2250M659 2297Q785 2300 722 2409M700 2255Q742 2333 791 2259M563 2350Q574 2409 612 2362M704 2134Q640 2231 552 2154M578 2419Q700 2363 631 2248M749 2354Q661 2411 672 2307M786 2194Q673 2222 725 2327M531 2178Q768 2206 604 2379M796 2122Q805 2243 697 2188M650 2263Q640 2194 585 2237M692 2223Q687 2396 530 2324M704 2134Q595 2191 700 2255M525 2286Q555 2204 631 2248M719 2311Q751 2467 609 2396M522 2198Q812 2107 690 2385M607 2424Q594 2317 522 2397M535 2407Q588 2342 607 2424M657 2281Q677 2353 736 2307M659 2297Q736 2331 663 2372M583 2149Q546 2118 542 2166M723 2276Q776 2068 572 2134M811 2254Q783 2199 738 2240M565 2265Q523 2175 621 2186M605 2238Q592 2318 672 2307M732 2157Q783 2190 728 2215M597 2192Q680 2207 616 2261M816 2191Q791 2108 743 2180M700 2255Q799 2262 743 2180M543 2331Q628 2263 625 2372M521 2417Q595 2167 761 2367M640 2202Q717 2282 618 2334M536 2213Q585 2251 539 2292M820 2207Q622 2202 715 2376M640 2202Q696 2231 657 2281M656 2336Q565 2245 692 2223M548 2399Q730 2403 616 2261M628 2225Q658 2131 743 2180M727 2186Q891 2339 673 2394M632 2342Q769 2318 692 2202M673 2394Q645 2355 629 2400M638 2179Q689 2170 674 2219M764 2154Q705 2100 682 2176M565 2265Q670 2258 613 2169M572 2362Q552 2281 630 2311M700 2255Q744 2195 765 2266M675 2268Q656 2214 709 2232M511 2250Q583 2378 662 2254M585 2237Q615 2290 554 2291M639 2432Q781 2377 675 2268M570 2184Q501 2231 567 2281M731 2257Q699 2229 731 2200M706 2169Q678 2121 652 2171M565 2265Q725 2328 713 2156" stroke="#f06b5b" stroke-opacity="0.55" stroke-width="1.8" fill="none"/><path d="M576 2322Q529 2203 657 2205M797 2274Q798 2138 667 2174M745 2225Q620 2237 699 2335M793 2210Q818 2348 698 2277M543 2331Q661 2407 675 2268M802 2225Q708 2250 765 2329M678 2420Q610 2345 578 2441M713 2201Q574 2226 612 2362M688 2306Q690 2439 571 2381M530 2324Q579 2326 560 2371M564 2303Q545 2227 616 2261M688 2306Q811 2153 614 2154M530 2119Q633 2160 536 2213M513 2277Q557 2146 674 2219M723 2276Q760 2149 640 2202M573 2209Q512 2251 564 2303M706 2416Q580 2282 750 2210M805 2202Q681 2218 750 2323M601 2330Q717 2296 706 2416M652 2171Q697 2115 711 2186M686 2142Q587 2274 530 2119M773 2304Q831 2288 794 2241M607 2424Q597 2358 663 2372M545 2226Q664 2286 560 2371M659 2350Q611 2451 563 2350M732 2355Q740 2227 616 2261M631 2248Q743 2231 685 2328M589 2259Q789 2249 668 2409M583 2149Q764 2186 656 2336M659 2350Q672 2437 589 2409M629 2400Q647 2302 715 2376M769 2280Q749 2213 820 2207M650 2263Q687 2206 731 2257M722 2409Q689 2368 678 2420M539 2292Q585 2189 678 2252M613 2139Q609 2234 531 2178M692 2223Q650 2255 698 2277M604 2379Q576 2406 560 2371M678 2346Q671 2421 742 2393M546 2436Q584 2351 648 2419M585 2237Q719 2241 632 2342M681 2159Q793 2060 820 2207M583 2194Q565 2259 631 2248M662 2254Q567 2239 598 2149M592 2367Q768 2261 587 2163M567 2281Q596 2333 640 2292M573 2209Q735 2270 592 2367M536 2213Q646 2290 666 2157M750 2323Q670 2296 724 2231M586 2395Q537 2358 521 2417M699 2335Q694 2383 659 2350M688 2240Q556 2296 569 2154M663 2372Q665 2339 632 2342M564 2303Q724 2237 589 2129M764 2154Q687 2251 811 2254M654 2241Q595 2286 662 2319M572 2362Q589 2457 651 2382M688 2306Q689 2171 820 2207M586 2335Q550 2375 604 2379M713 2201Q637 2234 614 2154M765 2329Q593 2245 563 2433M604 2410Q723 2454 725 2327M715 2376Q679 2482 609 2396M662 2319Q823 2242 666 2157M618 2334Q558 2351 579 2291M597 2177Q552 2188 588 2218M559 2122Q745 2124 636 2274M585 2237Q602 2329 514 2300M508 2373Q546 2331 571 2381M572 2362Q607 2271 511 2250M522 2223Q558 2252 525 2286M631 2248Q705 2186 614 2154M678 2252Q756 2298 779 2210M690 2385Q468 2280 661 2129M662 2319Q727 2226 621 2186M608 2202Q635 2138 675 2194M615 2307Q552 2151 720 2138M609 2396Q435 2249 653 2186M748 2288Q639 2208 764 2154M594 2303Q566 2325 554 2291M796 2122Q759 2158 801 2186" stroke="#f06b5b" stroke-opacity="0.55" stroke-width="1.8" fill="none"/></g>
<g stroke="#1f3039" stroke-width="1.3"><circle cx="314" cy="1966" r="1.3" fill="#1e2f36"/><circle cx="478" cy="1934" r="2.0" fill="#9dbcb8"/><circle cx="333" cy="1975" r="2.0" fill="#9dbcb8"/><circle cx="221" cy="1949" r="2.0" fill="#9dbcb8"/><circle cx="375" cy="2045" r="2.0" fill="#9dbcb8"/><circle cx="188" cy="2051" r="3.3" fill="#bcd0b4"/><circle cx="397" cy="1790" r="2.0" fill="#9dbcb8"/><circle cx="384" cy="1985" r="2.0" fill="#9dbcb8"/><circle cx="310" cy="2062" r="2.0" fill="#9dbcb8"/><circle cx="337" cy="1993" r="2.0" fill="#9dbcb8"/><circle cx="315" cy="1870" r="3.3" fill="#bcd0b4"/><circle cx="448" cy="2016" r="3.3" fill="#bcd0b4"/><circle cx="423" cy="1912" r="2.0" fill="#9dbcb8"/><circle cx="451" cy="1907" r="1.3" fill="#1e2f36"/><circle cx="182" cy="1989" r="2.0" fill="#9dbcb8"/><circle cx="427" cy="1867" r="2.0" fill="#9dbcb8"/><circle cx="433" cy="1836" r="1.3" fill="#1e2f36"/><circle cx="351" cy="1928" r="3.3" fill="#bcd0b4"/><circle cx="223" cy="2024" r="2.0" fill="#9dbcb8"/><circle cx="202" cy="1994" r="3.3" fill="#bcd0b4"/><circle cx="262" cy="2076" r="2.0" fill="#9dbcb8"/><circle cx="230" cy="1910" r="2.0" fill="#9dbcb8"/><circle cx="453" cy="1994" r="2.0" fill="#9dbcb8"/><circle cx="191" cy="2111" r="2.0" fill="#9dbcb8"/><circle cx="425" cy="1887" r="1.3" fill="#1e2f36"/><circle cx="188" cy="1974" r="2.0" fill="#9dbcb8"/><circle cx="241" cy="1980" r="2.0" fill="#9dbcb8"/><circle cx="286" cy="1930" r="2.0" fill="#9dbcb8"/><circle cx="356" cy="2070" r="2.0" fill="#9dbcb8"/><circle cx="472" cy="2053" r="2.0" fill="#9dbcb8"/><circle cx="413" cy="2095" r="2.0" fill="#9dbcb8"/><circle cx="225" cy="2098" r="3.3" fill="#bcd0b4"/><circle cx="463" cy="1981" r="1.3" fill="#1e2f36"/><circle cx="170" cy="2102" r="2.0" fill="#9dbcb8"/><circle cx="239" cy="2015" r="2.0" fill="#9dbcb8"/><circle cx="246" cy="2055" r="3.3" fill="#bcd0b4"/><circle cx="364" cy="1875" r="2.0" fill="#9dbcb8"/><circle cx="475" cy="1845" r="3.3" fill="#bcd0b4"/><circle cx="355" cy="1820" r="2.0" fill="#9dbcb8"/><circle cx="282" cy="2078" r="2.0" fill="#9dbcb8"/><circle cx="397" cy="1974" r="2.0" fill="#9dbcb8"/><circle cx="163" cy="2085" r="2.0" fill="#9dbcb8"/><circle cx="400" cy="2102" r="2.0" fill="#9dbcb8"/><circle cx="324" cy="2024" r="2.0" fill="#9dbcb8"/><circle cx="267" cy="2115" r="2.0" fill="#9dbcb8"/><circle cx="413" cy="2015" r="2.0" fill="#9dbcb8"/><circle cx="432" cy="2086" r="2.0" fill="#9dbcb8"/><circle cx="279" cy="2008" r="3.3" fill="#bcd0b4"/><circle cx="469" cy="2071" r="2.0" fill="#9dbcb8"/><circle cx="301" cy="2044" r="1.3" fill="#1e2f36"/><circle cx="374" cy="1906" r="5.0" fill="#eef0b4"/><circle cx="359" cy="1982" r="2.0" fill="#9dbcb8"/><circle cx="412" cy="1973" r="2.0" fill="#9dbcb8"/><circle cx="186" cy="2030" r="2.0" fill="#9dbcb8"/><circle cx="324" cy="1854" r="3.3" fill="#bcd0b4"/><circle cx="399" cy="1945" r="2.0" fill="#9dbcb8"/><circle cx="370" cy="2088" r="2.0" fill="#9dbcb8"/><circle cx="261" cy="2006" r="2.0" fill="#9dbcb8"/><circle cx="471" cy="2000" r="2.0" fill="#9dbcb8"/><circle cx="310" cy="2078" r="2.0" fill="#9dbcb8"/><circle cx="204" cy="1944" r="2.0" fill="#9dbcb8"/><circle cx="447" cy="2064" r="2.0" fill="#9dbcb8"/><circle cx="374" cy="1943" r="5.0" fill="#eef0b4"/><circle cx="266" cy="2061" r="1.3" fill="#1e2f36"/><circle cx="460" cy="1790" r="2.0" fill="#9dbcb8"/><circle cx="264" cy="2044" r="2.0" fill="#9dbcb8"/><circle cx="445" cy="1856" r="2.0" fill="#9dbcb8"/><circle cx="375" cy="1927" r="3.3" fill="#bcd0b4"/><circle cx="375" cy="1998" r="3.3" fill="#bcd0b4"/><circle cx="437" cy="2101" r="2.0" fill="#9dbcb8"/><circle cx="394" cy="1843" r="5.0" fill="#eef0b4"/><circle cx="322" cy="1836" r="5.0" fill="#eef0b4"/><circle cx="251" cy="1893" r="2.0" fill="#9dbcb8"/><circle cx="471" cy="1805" r="2.0" fill="#9dbcb8"/><circle cx="287" cy="1969" r="2.0" fill="#9dbcb8"/><circle cx="407" cy="2053" r="2.0" fill="#9dbcb8"/><circle cx="379" cy="2019" r="2.0" fill="#9dbcb8"/><circle cx="231" cy="2081" r="2.0" fill="#9dbcb8"/><circle cx="343" cy="2044" r="2.0" fill="#9dbcb8"/><circle cx="438" cy="1798" r="3.3" fill="#bcd0b4"/><circle cx="486" cy="1805" r="1.3" fill="#1e2f36"/><circle cx="257" cy="2023" r="2.0" fill="#9dbcb8"/><circle cx="450" cy="1966" r="2.0" fill="#9dbcb8"/><circle cx="265" cy="1905" r="2.0" fill="#9dbcb8"/><circle cx="450" cy="2081" r="2.0" fill="#9dbcb8"/><circle cx="229" cy="2064" r="3.3" fill="#bcd0b4"/><circle cx="356" cy="1844" r="5.0" fill="#eef0b4"/><circle cx="343" cy="1947" r="5.0" fill="#eef0b4"/><circle cx="250" cy="1936" r="3.3" fill="#bcd0b4"/><circle cx="322" cy="1883" r="5.0" fill="#eef0b4"/><circle cx="223" cy="1985" r="2.0" fill="#9dbcb8"/><circle cx="478" cy="1820" r="3.3" fill="#bcd0b4"/><circle cx="427" cy="1784" r="3.3" fill="#bcd0b4"/><circle cx="395" cy="1885" r="3.3" fill="#bcd0b4"/><circle cx="280" cy="1986" r="2.0" fill="#9dbcb8"/><circle cx="340" cy="1830" r="2.0" fill="#9dbcb8"/><circle cx="470" cy="1883" r="3.3" fill="#bcd0b4"/><circle cx="431" cy="1819" r="2.0" fill="#9dbcb8"/><circle cx="296" cy="2008" r="2.0" fill="#9dbcb8"/><circle cx="394" cy="2085" r="3.3" fill="#bcd0b4"/><circle cx="331" cy="2008" r="2.0" fill="#9dbcb8"/><circle cx="270" cy="1934" r="2.0" fill="#9dbcb8"/><circle cx="335" cy="1922" r="3.3" fill="#bcd0b4"/><circle cx="219" cy="1930" r="2.0" fill="#9dbcb8"/><circle cx="401" cy="2068" r="2.0" fill="#9dbcb8"/><circle cx="246" cy="2085" r="2.0" fill="#9dbcb8"/><circle cx="415" cy="2040" r="2.0" fill="#9dbcb8"/><circle cx="398" cy="2036" r="3.3" fill="#bcd0b4"/><circle cx="342" cy="1908" r="5.0" fill="#eef0b4"/><circle cx="497" cy="1784" r="2.0" fill="#9dbcb8"/><circle cx="246" cy="1912" r="2.0" fill="#9dbcb8"/><circle cx="364" cy="2033" r="2.0" fill="#9dbcb8"/><circle cx="485" cy="1919" r="2.0" fill="#9dbcb8"/><circle cx="283" cy="1873" r="2.0" fill="#9dbcb8"/><circle cx="384" cy="1966" r="2.0" fill="#9dbcb8"/><circle cx="182" cy="2083" r="2.0" fill="#9dbcb8"/><circle cx="306" cy="1938" r="2.0" fill="#9dbcb8"/><circle cx="338" cy="2094" r="2.0" fill="#9dbcb8"/><circle cx="310" cy="2002" r="2.0" fill="#9dbcb8"/><circle cx="427" cy="1956" r="2.0" fill="#9dbcb8"/><circle cx="412" cy="1857" r="3.3" fill="#bcd0b4"/><circle cx="196" cy="2079" r="3.3" fill="#bcd0b4"/><circle cx="429" cy="1988" r="2.0" fill="#9dbcb8"/><circle cx="418" cy="1840" r="2.0" fill="#9dbcb8"/><circle cx="243" cy="2108" r="2.0" fill="#9dbcb8"/><circle cx="373" cy="1811" r="2.0" fill="#9dbcb8"/><circle cx="187" cy="2005" r="2.0" fill="#9dbcb8"/><circle cx="384" cy="2111" r="2.0" fill="#9dbcb8"/><circle cx="270" cy="1962" r="2.0" fill="#9dbcb8"/><circle cx="305" cy="1901" r="3.3" fill="#bcd0b4"/><circle cx="231" cy="2000" r="2.0" fill="#9dbcb8"/><circle cx="283" cy="1899" r="2.0" fill="#9dbcb8"/><circle cx="224" cy="1967" r="2.0" fill="#9dbcb8"/><circle cx="206" cy="2029" r="3.3" fill="#bcd0b4"/><circle cx="382" cy="1859" r="5.0" fill="#eef0b4"/><circle cx="233" cy="2035" r="3.3" fill="#bcd0b4"/><circle cx="328" cy="1958" r="2.0" fill="#9dbcb8"/><circle cx="453" cy="2049" r="2.0" fill="#9dbcb8"/><circle cx="440" cy="1939" r="3.3" fill="#bcd0b4"/><circle cx="286" cy="2046" r="2.0" fill="#9dbcb8"/><circle cx="268" cy="1864" r="2.0" fill="#9dbcb8"/><circle cx="458" cy="1951" r="2.0" fill="#9dbcb8"/><circle cx="249" cy="1957" r="2.0" fill="#9dbcb8"/><circle cx="405" cy="1809" r="2.0" fill="#9dbcb8"/><circle cx="323" cy="1935" r="5.0" fill="#eef0b4"/><circle cx="454" cy="1879" r="2.0" fill="#9dbcb8"/><circle cx="211" cy="2058" r="3.3" fill="#bcd0b4"/><circle cx="265" cy="1881" r="2.0" fill="#9dbcb8"/><circle cx="317" cy="2104" r="2.0" fill="#9dbcb8"/><circle cx="485" cy="1967" r="2.0" fill="#9dbcb8"/><circle cx="423" cy="2054" r="2.0" fill="#9dbcb8"/><circle cx="470" cy="1962" r="3.3" fill="#bcd0b4"/><circle cx="374" cy="1843" r="3.3" fill="#bcd0b4"/><circle cx="357" cy="2012" r="2.0" fill="#9dbcb8"/><circle cx="271" cy="2091" r="2.0" fill="#9dbcb8"/><circle cx="345" cy="1966" r="1.3" fill="#1e2f36"/><circle cx="351" cy="1866" r="5.4" fill="#efc39a"/><circle cx="354" cy="1888" r="5.0" fill="#eef0b4"/><circle cx="390" cy="1825" r="5.0" fill="#eef0b4"/><circle cx="320" cy="1915" r="3.3" fill="#bcd0b4"/><circle cx="299" cy="1923" r="2.0" fill="#9dbcb8"/><circle cx="363" cy="1799" r="2.0" fill="#9dbcb8"/><circle cx="339" cy="1857" r="5.0" fill="#eef0b4"/><circle cx="200" cy="1958" r="2.0" fill="#9dbcb8"/><circle cx="253" cy="1993" r="2.0" fill="#9dbcb8"/><circle cx="290" cy="2091" r="2.0" fill="#9dbcb8"/><circle cx="332" cy="2063" r="2.0" fill="#9dbcb8"/><circle cx="487" cy="1835" r="2.0" fill="#9dbcb8"/><circle cx="212" cy="2010" r="2.0" fill="#9dbcb8"/><circle cx="283" cy="1849" r="2.0" fill="#9dbcb8"/><circle cx="382" cy="1796" r="2.0" fill="#9dbcb8"/><circle cx="293" cy="2062" r="2.0" fill="#9dbcb8"/><circle cx="231" cy="1894" r="2.0" fill="#9dbcb8"/><circle cx="456" cy="1845" r="2.0" fill="#9dbcb8"/><circle cx="482" cy="1898" r="3.3" fill="#bcd0b4"/><circle cx="265" cy="1920" r="2.0" fill="#9dbcb8"/><circle cx="209" cy="1973" r="2.0" fill="#9dbcb8"/><circle cx="398" cy="2009" r="2.0" fill="#9dbcb8"/><circle cx="425" cy="1939" r="3.3" fill="#bcd0b4"/><circle cx="494" cy="1821" r="2.0" fill="#9dbcb8"/><circle cx="395" cy="1918" r="3.3" fill="#bcd0b4"/><circle cx="173" cy="2018" r="2.0" fill="#9dbcb8"/><circle cx="481" cy="1861" r="2.0" fill="#9dbcb8"/><circle cx="326" cy="1817" r="1.3" fill="#1e2f36"/><circle cx="236" cy="1939" r="1.3" fill="#1e2f36"/><circle cx="281" cy="2031" r="3.3" fill="#bcd0b4"/><circle cx="432" cy="2025" r="2.0" fill="#9dbcb8"/><circle cx="444" cy="2036" r="2.0" fill="#9dbcb8"/><circle cx="297" cy="1885" r="3.3" fill="#bcd0b4"/><circle cx="483" cy="1983" r="2.0" fill="#9dbcb8"/><circle cx="412" cy="1898" r="5.0" fill="#eef0b4"/><circle cx="362" cy="1961" r="2.0" fill="#9dbcb8"/><circle cx="319" cy="1899" r="5.0" fill="#eef0b4"/><circle cx="162" cy="2067" r="2.0" fill="#9dbcb8"/><circle cx="261" cy="1948" r="1.3" fill="#1e2f36"/><circle cx="334" cy="1876" r="5.0" fill="#eef0b4"/><circle cx="452" cy="1811" r="1.3" fill="#1e2f36"/><circle cx="452" cy="1828" r="2.0" fill="#9dbcb8"/><circle cx="298" cy="1984" r="2.0" fill="#9dbcb8"/><circle cx="457" cy="2103" r="1.3" fill="#1e2f36"/><circle cx="380" cy="2063" r="2.0" fill="#9dbcb8"/><circle cx="363" cy="2102" r="2.0" fill="#9dbcb8"/><circle cx="469" cy="2089" r="2.0" fill="#9dbcb8"/><circle cx="251" cy="1873" r="2.0" fill="#9dbcb8"/><circle cx="411" cy="1957" r="3.3" fill="#bcd0b4"/><circle cx="484" cy="1947" r="2.0" fill="#9dbcb8"/><circle cx="195" cy="2095" r="3.3" fill="#bcd0b4"/><circle cx="339" cy="1890" r="3.3" fill="#bcd0b4"/><circle cx="300" cy="2112" r="2.0" fill="#9dbcb8"/><circle cx="463" cy="2022" r="2.0" fill="#9dbcb8"/><circle cx="316" cy="1980" r="2.0" fill="#9dbcb8"/><circle cx="333" cy="2110" r="2.0" fill="#9dbcb8"/><circle cx="439" cy="1879" r="2.0" fill="#9dbcb8"/><circle cx="420" cy="2110" r="2.0" fill="#9dbcb8"/><circle cx="462" cy="1930" r="3.3" fill="#bcd0b4"/><circle cx="414" cy="1876" r="2.0" fill="#9dbcb8"/><circle cx="209" cy="2103" r="2.0" fill="#9dbcb8"/><circle cx="264" cy="1977" r="2.0" fill="#9dbcb8"/><circle cx="168" cy="2047" r="2.0" fill="#9dbcb8"/><circle cx="481" cy="1791" r="2.0" fill="#9dbcb8"/><circle cx="300" cy="1838" r="5.0" fill="#eef0b4"/><circle cx="279" cy="2106" r="2.0" fill="#9dbcb8"/><circle cx="321" cy="2040" r="2.0" fill="#9dbcb8"/><circle cx="490" cy="1881" r="1.3" fill="#1e2f36"/><circle cx="300" cy="1961" r="2.0" fill="#9dbcb8"/><circle cx="391" cy="1932" r="5.0" fill="#eef0b4"/><circle cx="326" cy="2079" r="2.0" fill="#9dbcb8"/><circle cx="397" cy="1901" r="5.4" fill="#efc39a"/><circle cx="295" cy="1859" r="3.3" fill="#bcd0b4"/><circle cx="468" cy="1910" r="3.3" fill="#bcd0b4"/><circle cx="341" cy="1811" r="2.0" fill="#9dbcb8"/><circle cx="218" cy="2044" r="3.3" fill="#bcd0b4"/><circle cx="423" cy="1799" r="3.3" fill="#bcd0b4"/><circle cx="339" cy="2026" r="2.0" fill="#9dbcb8"/><circle cx="405" cy="1832" r="2.0" fill="#9dbcb8"/><circle cx="183" cy="2066" r="3.3" fill="#bcd0b4"/><circle cx="414" cy="1996" r="2.0" fill="#9dbcb8"/><circle cx="360" cy="1911" r="2.0" fill="#9dbcb8"/><circle cx="366" cy="1857" r="3.3" fill="#bcd0b4"/><circle cx="248" cy="2038" r="2.0" fill="#9dbcb8"/><circle cx="463" cy="2038" r="2.0" fill="#9dbcb8"/><circle cx="428" cy="2003" r="2.0" fill="#9dbcb8"/><circle cx="212" cy="2084" r="2.0" fill="#9dbcb8"/><circle cx="349" cy="2109" r="2.0" fill="#9dbcb8"/><circle cx="283" cy="1955" r="2.0" fill="#9dbcb8"/><circle cx="414" cy="1930" r="2.0" fill="#9dbcb8"/><circle cx="396" cy="1865" r="5.0" fill="#eef0b4"/><circle cx="298" cy="2027" r="2.0" fill="#9dbcb8"/><circle cx="372" cy="1828" r="5.0" fill="#eef0b4"/><circle cx="353" cy="1998" r="2.0" fill="#9dbcb8"/><circle cx="420" cy="2071" r="1.3" fill="#1e2f36"/><circle cx="221" cy="2112" r="2.0" fill="#9dbcb8"/><circle cx="436" cy="1901" r="2.0" fill="#9dbcb8"/><circle cx="234" cy="1924" r="2.0" fill="#9dbcb8"/><circle cx="466" cy="1862" r="2.0" fill="#9dbcb8"/><circle cx="479" cy="2015" r="2.0" fill="#9dbcb8"/><circle cx="436" cy="1920" r="3.3" fill="#bcd0b4"/><circle cx="202" cy="2043" r="2.0" fill="#9dbcb8"/><circle cx="377" cy="1890" r="2.0" fill="#9dbcb8"/><circle cx="501" cy="1798" r="3.3" fill="#bcd0b4"/><circle cx="308" cy="1824" r="2.0" fill="#9dbcb8"/><circle cx="361" cy="2053" r="3.3" fill="#bcd0b4"/><circle cx="256" cy="2102" r="2.0" fill="#9dbcb8"/><circle cx="286" cy="1915" r="2.0" fill="#9dbcb8"/><circle cx="435" cy="1971" r="2.0" fill="#9dbcb8"/><circle cx="398" cy="1991" r="2.0" fill="#9dbcb8"/><circle cx="342" cy="2075" r="2.0" fill="#9dbcb8"/><circle cx="441" cy="1954" r="2.0" fill="#9dbcb8"/><circle cx="460" cy="1895" r="3.3" fill="#bcd0b4"/><circle cx="491" cy="1850" r="1.3" fill="#1e2f36"/><circle cx="199" cy="2017" r="1.3" fill="#1e2f36"/><circle cx="372" cy="1974" r="2.0" fill="#9dbcb8"/><circle cx="249" cy="2069" r="2.0" fill="#9dbcb8"/><circle cx="444" cy="1784" r="2.0" fill="#9dbcb8"/><circle cx="469" cy="1831" r="2.0" fill="#9dbcb8"/><circle cx="311" cy="2017" r="2.0" fill="#9dbcb8"/><circle cx="359" cy="1945" r="5.0" fill="#eef0b4"/><circle cx="391" cy="2051" r="2.0" fill="#9dbcb8"/><circle cx="380" cy="1876" r="2.0" fill="#9dbcb8"/><circle cx="412" cy="1785" r="3.3" fill="#bcd0b4"/><circle cx="388" cy="1809" r="3.3" fill="#bcd0b4"/><circle cx="430" cy="1852" r="2.0" fill="#9dbcb8"/><circle cx="472" cy="1779" r="2.0" fill="#9dbcb8"/><circle cx="167" cy="2032" r="2.0" fill="#9dbcb8"/><circle cx="738" cy="1999" r="2.0" fill="#9dbcb8"/><circle cx="793" cy="2087" r="2.0" fill="#9dbcb8"/><circle cx="635" cy="1890" r="5.0" fill="#eef0b4"/><circle cx="544" cy="1822" r="2.0" fill="#9dbcb8"/><circle cx="627" cy="1944" r="2.0" fill="#9dbcb8"/><circle cx="686" cy="2071" r="2.0" fill="#9dbcb8"/><circle cx="812" cy="2042" r="2.0" fill="#9dbcb8"/><circle cx="771" cy="1944" r="2.0" fill="#9dbcb8"/><circle cx="722" cy="2099" r="2.0" fill="#9dbcb8"/><circle cx="630" cy="1838" r="5.0" fill="#eef0b4"/><circle cx="641" cy="1869" r="5.0" fill="#eef0b4"/><circle cx="719" cy="1842" r="1.3" fill="#1e2f36"/><circle cx="654" cy="2048" r="1.3" fill="#1e2f36"/><circle cx="640" cy="2067" r="2.0" fill="#9dbcb8"/><circle cx="687" cy="2014" r="2.0" fill="#9dbcb8"/><circle cx="549" cy="1918" r="2.0" fill="#9dbcb8"/><circle cx="603" cy="1808" r="2.0" fill="#9dbcb8"/><circle cx="641" cy="1982" r="1.3" fill="#1e2f36"/><circle cx="500" cy="2048" r="2.0" fill="#9dbcb8"/><circle cx="652" cy="2016" r="2.0" fill="#9dbcb8"/><circle cx="673" cy="1906" r="2.0" fill="#9dbcb8"/><circle cx="530" cy="1835" r="2.0" fill="#9dbcb8"/><circle cx="690" cy="1943" r="2.0" fill="#9dbcb8"/><circle cx="537" cy="1898" r="3.3" fill="#bcd0b4"/><circle cx="514" cy="1911" r="3.3" fill="#bcd0b4"/><circle cx="491" cy="2074" r="2.0" fill="#9dbcb8"/><circle cx="673" cy="1934" r="2.0" fill="#9dbcb8"/><circle cx="771" cy="2019" r="2.0" fill="#9dbcb8"/><circle cx="597" cy="1907" r="3.3" fill="#bcd0b4"/><circle cx="529" cy="1998" r="2.0" fill="#9dbcb8"/><circle cx="670" cy="1962" r="2.0" fill="#9dbcb8"/><circle cx="625" cy="1985" r="2.0" fill="#9dbcb8"/><circle cx="509" cy="1960" r="2.0" fill="#9dbcb8"/><circle cx="617" cy="2023" r="2.0" fill="#9dbcb8"/><circle cx="599" cy="1976" r="2.0" fill="#9dbcb8"/><circle cx="621" cy="2003" r="2.0" fill="#9dbcb8"/><circle cx="822" cy="2063" r="2.0" fill="#9dbcb8"/><circle cx="694" cy="1984" r="1.3" fill="#1e2f36"/><circle cx="790" cy="2005" r="3.3" fill="#bcd0b4"/><circle cx="809" cy="2015" r="2.0" fill="#9dbcb8"/><circle cx="609" cy="1987" r="2.0" fill="#9dbcb8"/><circle cx="754" cy="2036" r="2.0" fill="#9dbcb8"/><circle cx="589" cy="1988" r="2.0" fill="#9dbcb8"/><circle cx="539" cy="2094" r="2.0" fill="#9dbcb8"/><circle cx="562" cy="1962" r="2.0" fill="#9dbcb8"/><circle cx="687" cy="2039" r="2.0" fill="#9dbcb8"/><circle cx="632" cy="2092" r="2.0" fill="#9dbcb8"/><circle cx="748" cy="2021" r="2.0" fill="#9dbcb8"/><circle cx="569" cy="1834" r="3.3" fill="#bcd0b4"/><circle cx="755" cy="1933" r="2.0" fill="#9dbcb8"/><circle cx="494" cy="2034" r="2.0" fill="#9dbcb8"/><circle cx="765" cy="2105" r="2.0" fill="#9dbcb8"/><circle cx="625" cy="1819" r="3.3" fill="#bcd0b4"/><circle cx="529" cy="2037" r="3.3" fill="#bcd0b4"/><circle cx="503" cy="2102" r="1.3" fill="#1e2f36"/><circle cx="581" cy="2071" r="3.3" fill="#bcd0b4"/><circle cx="624" cy="1880" r="5.4" fill="#efc39a"/><circle cx="679" cy="1877" r="5.0" fill="#eef0b4"/><circle cx="649" cy="1931" r="2.0" fill="#9dbcb8"/><circle cx="779" cy="1926" r="2.0" fill="#9dbcb8"/><circle cx="565" cy="2005" r="2.0" fill="#9dbcb8"/><circle cx="594" cy="1831" r="2.0" fill="#9dbcb8"/><circle cx="693" cy="1888" r="3.3" fill="#bcd0b4"/><circle cx="543" cy="1883" r="3.3" fill="#bcd0b4"/><circle cx="747" cy="1966" r="2.0" fill="#9dbcb8"/><circle cx="629" cy="1914" r="2.0" fill="#9dbcb8"/><circle cx="706" cy="1867" r="2.0" fill="#9dbcb8"/><circle cx="510" cy="2022" r="3.3" fill="#bcd0b4"/><circle cx="510" cy="1992" r="2.0" fill="#9dbcb8"/><circle cx="646" cy="2030" r="2.0" fill="#9dbcb8"/><circle cx="617" cy="1863" r="5.0" fill="#eef0b4"/><circle cx="704" cy="2013" r="2.0" fill="#9dbcb8"/><circle cx="735" cy="2063" r="2.0" fill="#9dbcb8"/><circle cx="717" cy="2078" r="2.0" fill="#9dbcb8"/><circle cx="618" cy="2054" r="2.0" fill="#9dbcb8"/><circle cx="562" cy="1881" r="3.3" fill="#bcd0b4"/><circle cx="756" cy="1998" r="2.0" fill="#9dbcb8"/><circle cx="693" cy="1959" r="2.0" fill="#9dbcb8"/><circle cx="585" cy="1921" r="2.0" fill="#9dbcb8"/><circle cx="552" cy="1977" r="2.0" fill="#9dbcb8"/><circle cx="771" cy="2059" r="2.0" fill="#9dbcb8"/><circle cx="575" cy="1887" r="2.0" fill="#9dbcb8"/><circle cx="830" cy="2093" r="2.0" fill="#9dbcb8"/><circle cx="610" cy="2083" r="2.0" fill="#9dbcb8"/><circle cx="762" cy="1896" r="2.0" fill="#9dbcb8"/><circle cx="519" cy="1849" r="2.0" fill="#9dbcb8"/><circle cx="550" cy="2014" r="3.3" fill="#bcd0b4"/><circle cx="565" cy="1807" r="3.3" fill="#bcd0b4"/><circle cx="700" cy="1834" r="2.0" fill="#9dbcb8"/><circle cx="523" cy="1943" r="1.3" fill="#1e2f36"/><circle cx="656" cy="1862" r="3.3" fill="#bcd0b4"/><circle cx="529" cy="2053" r="3.3" fill="#bcd0b4"/><circle cx="706" cy="2064" r="2.0" fill="#9dbcb8"/><circle cx="746" cy="2049" r="2.0" fill="#9dbcb8"/><circle cx="726" cy="2033" r="2.0" fill="#9dbcb8"/><circle cx="765" cy="1985" r="2.0" fill="#9dbcb8"/><circle cx="656" cy="1845" r="5.0" fill="#eef0b4"/><circle cx="526" cy="1803" r="2.0" fill="#9dbcb8"/><circle cx="655" cy="1900" r="2.0" fill="#9dbcb8"/><circle cx="674" cy="1852" r="5.0" fill="#eef0b4"/><circle cx="513" cy="1928" r="2.0" fill="#9dbcb8"/><circle cx="725" cy="1877" r="2.0" fill="#9dbcb8"/><circle cx="773" cy="1907" r="2.0" fill="#9dbcb8"/><circle cx="694" cy="2101" r="2.0" fill="#9dbcb8"/><circle cx="805" cy="1938" r="2.0" fill="#9dbcb8"/><circle cx="660" cy="2100" r="2.0" fill="#9dbcb8"/><circle cx="668" cy="2053" r="2.0" fill="#9dbcb8"/><circle cx="813" cy="2089" r="1.3" fill="#1e2f36"/><circle cx="823" cy="1998" r="2.0" fill="#9dbcb8"/><circle cx="524" cy="2103" r="2.0" fill="#9dbcb8"/><circle cx="706" cy="1898" r="2.0" fill="#9dbcb8"/><circle cx="563" cy="2066" r="3.3" fill="#bcd0b4"/><circle cx="584" cy="2035" r="3.3" fill="#bcd0b4"/><circle cx="732" cy="2088" r="2.0" fill="#9dbcb8"/><circle cx="536" cy="1858" r="1.3" fill="#1e2f36"/><circle cx="663" cy="1988" r="2.0" fill="#9dbcb8"/><circle cx="699" cy="1924" r="2.0" fill="#9dbcb8"/><circle cx="641" cy="1963" r="2.0" fill="#9dbcb8"/><circle cx="757" cy="1880" r="2.0" fill="#9dbcb8"/><circle cx="644" cy="2000" r="1.3" fill="#1e2f36"/><circle cx="792" cy="1982" r="1.3" fill="#1e2f36"/><circle cx="560" cy="1821" r="3.3" fill="#bcd0b4"/><circle cx="732" cy="1985" r="2.0" fill="#9dbcb8"/><circle cx="782" cy="2098" r="2.0" fill="#9dbcb8"/><circle cx="521" cy="2079" r="3.3" fill="#bcd0b4"/><circle cx="787" cy="1914" r="2.0" fill="#9dbcb8"/><circle cx="701" cy="2036" r="2.0" fill="#9dbcb8"/><circle cx="540" cy="1941" r="2.0" fill="#9dbcb8"/><circle cx="805" cy="2060" r="2.0" fill="#9dbcb8"/><circle cx="744" cy="1903" r="2.0" fill="#9dbcb8"/><circle cx="795" cy="2042" r="3.3" fill="#bcd0b4"/><circle cx="605" cy="2033" r="3.3" fill="#bcd0b4"/><circle cx="664" cy="2005" r="2.0" fill="#9dbcb8"/><circle cx="757" cy="1914" r="2.0" fill="#9dbcb8"/><circle cx="577" cy="1935" r="3.3" fill="#bcd0b4"/><circle cx="499" cy="2003" r="2.0" fill="#9dbcb8"/><circle cx="677" cy="2086" r="2.0" fill="#9dbcb8"/><circle cx="656" cy="2068" r="2.0" fill="#9dbcb8"/><circle cx="686" cy="1816" r="2.0" fill="#9dbcb8"/><circle cx="490" cy="2092" r="2.0" fill="#9dbcb8"/><circle cx="527" cy="1870" r="3.3" fill="#bcd0b4"/><circle cx="802" cy="1922" r="3.3" fill="#bcd0b4"/><circle cx="743" cy="1874" r="1.3" fill="#1e2f36"/><circle cx="749" cy="1855" r="2.0" fill="#9dbcb8"/><circle cx="720" cy="1964" r="2.0" fill="#9dbcb8"/><circle cx="597" cy="2053" r="2.0" fill="#9dbcb8"/><circle cx="609" cy="1824" r="5.4" fill="#efc39a"/><circle cx="592" cy="2100" r="2.0" fill="#9dbcb8"/><circle cx="643" cy="1918" r="3.3" fill="#bcd0b4"/><circle cx="576" cy="1820" r="5.0" fill="#eef0b4"/><circle cx="816" cy="1976" r="2.0" fill="#9dbcb8"/><circle cx="589" cy="1959" r="2.0" fill="#9dbcb8"/><circle cx="579" cy="1905" r="2.0" fill="#9dbcb8"/><circle cx="526" cy="1979" r="2.0" fill="#9dbcb8"/><circle cx="623" cy="2071" r="2.0" fill="#9dbcb8"/><circle cx="595" cy="1869" r="5.4" fill="#efc39a"/><circle cx="550" cy="1998" r="2.0" fill="#9dbcb8"/><circle cx="570" cy="1863" r="5.0" fill="#eef0b4"/><circle cx="811" cy="1958" r="2.0" fill="#9dbcb8"/><circle cx="711" cy="1939" r="1.3" fill="#1e2f36"/><circle cx="673" cy="1829" r="5.0" fill="#eef0b4"/><circle cx="515" cy="1884" r="2.0" fill="#9dbcb8"/><circle cx="580" cy="1973" r="2.0" fill="#9dbcb8"/><circle cx="574" cy="2087" r="3.3" fill="#bcd0b4"/><circle cx="517" cy="1829" r="2.0" fill="#9dbcb8"/><circle cx="530" cy="1922" r="1.3" fill="#1e2f36"/><circle cx="615" cy="1797" r="5.0" fill="#eef0b4"/><circle cx="546" cy="2077" r="2.0" fill="#9dbcb8"/><circle cx="582" cy="2000" r="2.0" fill="#9dbcb8"/><circle cx="831" cy="2039" r="2.0" fill="#9dbcb8"/><circle cx="614" cy="2100" r="2.0" fill="#9dbcb8"/><circle cx="546" cy="2055" r="3.3" fill="#bcd0b4"/><circle cx="735" cy="1930" r="2.0" fill="#9dbcb8"/><circle cx="688" cy="1905" r="2.0" fill="#9dbcb8"/><circle cx="540" cy="1958" r="1.3" fill="#1e2f36"/><circle cx="635" cy="2015" r="2.0" fill="#9dbcb8"/><circle cx="688" cy="1846" r="2.0" fill="#9dbcb8"/><circle cx="564" cy="1927" r="2.0" fill="#9dbcb8"/><circle cx="571" cy="2050" r="2.0" fill="#9dbcb8"/><circle cx="708" cy="1996" r="1.3" fill="#1e2f36"/><circle cx="503" cy="1975" r="1.3" fill="#1e2f36"/><circle cx="597" cy="1931" r="2.0" fill="#9dbcb8"/><circle cx="744" cy="1945" r="3.3" fill="#bcd0b4"/><circle cx="503" cy="2083" r="3.3" fill="#bcd0b4"/><circle cx="788" cy="2028" r="2.0" fill="#9dbcb8"/><circle cx="776" cy="1966" r="2.0" fill="#9dbcb8"/><circle cx="610" cy="1846" r="5.0" fill="#eef0b4"/><circle cx="631" cy="1802" r="2.0" fill="#9dbcb8"/><circle cx="638" cy="1852" r="3.3" fill="#bcd0b4"/><circle cx="609" cy="1881" r="5.0" fill="#eef0b4"/><circle cx="550" cy="2036" r="2.0" fill="#9dbcb8"/><circle cx="791" cy="1952" r="2.0" fill="#9dbcb8"/><circle cx="749" cy="2073" r="2.0" fill="#9dbcb8"/><circle cx="669" cy="1887" r="5.0" fill="#eef0b4"/><circle cx="551" cy="1850" r="3.3" fill="#bcd0b4"/><circle cx="730" cy="2015" r="2.0" fill="#9dbcb8"/><circle cx="541" cy="1807" r="3.3" fill="#bcd0b4"/><circle cx="583" cy="2017" r="3.3" fill="#bcd0b4"/><circle cx="600" cy="1945" r="2.0" fill="#9dbcb8"/><circle cx="669" cy="2028" r="2.0" fill="#9dbcb8"/><circle cx="717" cy="2044" r="2.0" fill="#9dbcb8"/><circle cx="825" cy="2013" r="2.0" fill="#9dbcb8"/><circle cx="653" cy="1954" r="2.0" fill="#9dbcb8"/><circle cx="622" cy="1928" r="2.0" fill="#9dbcb8"/><circle cx="654" cy="1821" r="2.0" fill="#9dbcb8"/><circle cx="792" cy="2069" r="3.3" fill="#bcd0b4"/><circle cx="750" cy="2102" r="2.0" fill="#9dbcb8"/><circle cx="669" cy="1808" r="2.0" fill="#9dbcb8"/><circle cx="617" cy="1896" r="3.3" fill="#bcd0b4"/><circle cx="570" cy="2026" r="2.0" fill="#9dbcb8"/><circle cx="629" cy="2041" r="3.3" fill="#bcd0b4"/><circle cx="559" cy="1941" r="2.0" fill="#9dbcb8"/><circle cx="679" cy="1990" r="2.0" fill="#9dbcb8"/><circle cx="769" cy="2087" r="3.3" fill="#bcd0b4"/><circle cx="561" cy="1896" r="5.0" fill="#eef0b4"/><circle cx="530" cy="2022" r="3.3" fill="#bcd0b4"/><circle cx="508" cy="2063" r="3.3" fill="#bcd0b4"/><circle cx="489" cy="2058" r="3.3" fill="#bcd0b4"/><circle cx="654" cy="1974" r="2.0" fill="#9dbcb8"/><circle cx="655" cy="2084" r="2.0" fill="#9dbcb8"/><circle cx="558" cy="2104" r="2.0" fill="#9dbcb8"/><circle cx="725" cy="1906" r="2.0" fill="#9dbcb8"/><circle cx="613" cy="1955" r="2.0" fill="#9dbcb8"/><circle cx="720" cy="1924" r="2.0" fill="#9dbcb8"/><circle cx="700" cy="2082" r="2.0" fill="#9dbcb8"/><circle cx="506" cy="1945" r="2.0" fill="#9dbcb8"/><circle cx="642" cy="2103" r="2.0" fill="#9dbcb8"/><circle cx="803" cy="2100" r="3.3" fill="#bcd0b4"/><circle cx="798" cy="1966" r="2.0" fill="#9dbcb8"/><circle cx="735" cy="1849" r="2.0" fill="#9dbcb8"/><circle cx="688" cy="2054" r="2.0" fill="#9dbcb8"/><circle cx="603" cy="2014" r="2.0" fill="#9dbcb8"/><circle cx="708" cy="1975" r="2.0" fill="#9dbcb8"/><circle cx="761" cy="1959" r="2.0" fill="#9dbcb8"/><circle cx="591" cy="1798" r="5.0" fill="#eef0b4"/><circle cx="736" cy="1957" r="2.0" fill="#9dbcb8"/><circle cx="827" cy="2077" r="3.3" fill="#bcd0b4"/><circle cx="594" cy="2079" r="2.0" fill="#9dbcb8"/><circle cx="659" cy="1917" r="2.0" fill="#9dbcb8"/><circle cx="581" cy="1851" r="5.0" fill="#eef0b4"/><circle cx="652" cy="1883" r="3.3" fill="#bcd0b4"/><circle cx="511" cy="1811" r="3.3" fill="#bcd0b4"/><circle cx="785" cy="1889" r="2.0" fill="#9dbcb8"/><circle cx="704" cy="1851" r="2.0" fill="#9dbcb8"/><circle cx="525" cy="1960" r="3.3" fill="#bcd0b4"/><circle cx="734" cy="1891" r="2.0" fill="#9dbcb8"/><circle cx="593" cy="1886" r="5.0" fill="#eef0b4"/><circle cx="656" cy="1802" r="3.3" fill="#bcd0b4"/><circle cx="515" cy="2043" r="3.3" fill="#bcd0b4"/><circle cx="724" cy="1945" r="2.0" fill="#9dbcb8"/><circle cx="804" cy="1997" r="2.0" fill="#9dbcb8"/><circle cx="680" cy="1918" r="2.0" fill="#9dbcb8"/><circle cx="777" cy="1994" r="2.0" fill="#9dbcb8"/><circle cx="817" cy="2027" r="2.0" fill="#9dbcb8"/><circle cx="555" cy="1867" r="5.0" fill="#eef0b4"/><circle cx="710" cy="1884" r="2.0" fill="#9dbcb8"/><circle cx="606" cy="2069" r="2.0" fill="#9dbcb8"/><circle cx="779" cy="2040" r="2.0" fill="#9dbcb8"/><circle cx="683" cy="1972" r="2.0" fill="#9dbcb8"/><circle cx="675" cy="2105" r="2.0" fill="#9dbcb8"/><circle cx="599" cy="1999" r="2.0" fill="#9dbcb8"/><circle cx="750" cy="1984" r="2.0" fill="#9dbcb8"/><circle cx="721" cy="1858" r="2.0" fill="#9dbcb8"/><circle cx="617" cy="1969" r="2.0" fill="#9dbcb8"/><circle cx="575" cy="1950" r="2.0" fill="#9dbcb8"/><circle cx="492" cy="1986" r="2.0" fill="#9dbcb8"/><circle cx="566" cy="1981" r="2.0" fill="#9dbcb8"/><circle cx="533" cy="2068" r="2.0" fill="#9dbcb8"/><circle cx="611" cy="1913" r="5.0" fill="#eef0b4"/><circle cx="768" cy="1868" r="2.0" fill="#9dbcb8"/><circle cx="515" cy="2006" r="2.0" fill="#9dbcb8"/><circle cx="494" cy="2017" r="2.0" fill="#9dbcb8"/><circle cx="791" cy="1937" r="1.3" fill="#1e2f36"/><circle cx="589" cy="1813" r="5.0" fill="#eef0b4"/><circle cx="689" cy="1862" r="2.0" fill="#9dbcb8"/><circle cx="597" cy="1853" r="3.3" fill="#bcd0b4"/><circle cx="810" cy="2074" r="1.3" fill="#1e2f36"/><circle cx="577" cy="2106" r="2.0" fill="#9dbcb8"/><circle cx="723" cy="2002" r="2.0" fill="#9dbcb8"/><circle cx="539" cy="1987" r="2.0" fill="#9dbcb8"/><circle cx="511" cy="1865" r="2.0" fill="#9dbcb8"/><circle cx="565" cy="1849" r="5.0" fill="#eef0b4"/><circle cx="713" cy="1827" r="1.3" fill="#1e2f36"/><circle cx="558" cy="2088" r="2.0" fill="#9dbcb8"/><circle cx="554" cy="1835" r="3.3" fill="#bcd0b4"/><circle cx="550" cy="1796" r="2.0" fill="#9dbcb8"/><circle cx="642" cy="1944" r="1.3" fill="#1e2f36"/><circle cx="795" cy="1901" r="2.0" fill="#9dbcb8"/><circle cx="639" cy="1826" r="3.3" fill="#bcd0b4"/><circle cx="575" cy="1796" r="2.0" fill="#9dbcb8"/><circle cx="818" cy="2104" r="3.3" fill="#bcd0b4"/><circle cx="757" cy="2061" r="2.0" fill="#9dbcb8"/><circle cx="786" cy="2055" r="2.0" fill="#9dbcb8"/><circle cx="693" cy="1999" r="1.3" fill="#1e2f36"/><circle cx="671" cy="2067" r="2.0" fill="#9dbcb8"/><circle cx="666" cy="1947" r="2.0" fill="#9dbcb8"/><circle cx="754" cy="2088" r="2.0" fill="#9dbcb8"/><circle cx="709" cy="2105" r="2.0" fill="#9dbcb8"/><circle cx="523" cy="1899" r="2.0" fill="#9dbcb8"/><circle cx="720" cy="2061" r="3.3" fill="#bcd0b4"/><circle cx="412" cy="2322" r="7.5" fill="#d62f6a"/><circle cx="285" cy="2180" r="1.3" fill="#1e2f36"/><circle cx="459" cy="2369" r="2.0" fill="#9dbcb8"/><circle cx="278" cy="2320" r="3.3" fill="#bcd0b4"/><circle cx="478" cy="2351" r="2.0" fill="#9dbcb8"/><circle cx="367" cy="2376" r="5.0" fill="#eef0b4"/><circle cx="372" cy="2400" r="2.0" fill="#9dbcb8"/><circle cx="373" cy="2276" r="5.0" fill="#eef0b4"/><circle cx="317" cy="2247" r="2.0" fill="#9dbcb8"/><circle cx="421" cy="2259" r="5.0" fill="#eef0b4"/><circle cx="397" cy="2218" r="1.3" fill="#1e2f36"/><circle cx="300" cy="2186" r="2.0" fill="#9dbcb8"/><circle cx="259" cy="2252" r="2.0" fill="#9dbcb8"/><circle cx="372" cy="2206" r="1.3" fill="#1e2f36"/><circle cx="264" cy="2128" r="1.3" fill="#1e2f36"/><circle cx="442" cy="2258" r="3.3" fill="#bcd0b4"/><circle cx="466" cy="2161" r="2.0" fill="#9dbcb8"/><circle cx="177" cy="2134" r="2.0" fill="#9dbcb8"/><circle cx="377" cy="2241" r="5.0" fill="#eef0b4"/><circle cx="405" cy="2195" r="2.0" fill="#9dbcb8"/><circle cx="257" cy="2179" r="2.0" fill="#9dbcb8"/><circle cx="321" cy="2178" r="1.3" fill="#1e2f36"/><circle cx="361" cy="2173" r="3.3" fill="#bcd0b4"/><circle cx="452" cy="2288" r="3.3" fill="#bcd0b4"/><circle cx="180" cy="2234" r="2.0" fill="#9dbcb8"/><circle cx="308" cy="2164" r="2.0" fill="#9dbcb8"/><circle cx="272" cy="2366" r="2.0" fill="#9dbcb8"/><circle cx="326" cy="2407" r="2.0" fill="#9dbcb8"/><circle cx="300" cy="2261" r="2.0" fill="#9dbcb8"/><circle cx="394" cy="2311" r="6.9" fill="#e58a9e"/><circle cx="224" cy="2295" r="2.0" fill="#9dbcb8"/><circle cx="323" cy="2211" r="2.0" fill="#9dbcb8"/><circle cx="426" cy="2228" r="2.0" fill="#9dbcb8"/><circle cx="159" cy="2184" r="2.0" fill="#9dbcb8"/><circle cx="298" cy="2235" r="2.0" fill="#9dbcb8"/><circle cx="256" cy="2388" r="2.0" fill="#9dbcb8"/><circle cx="444" cy="2348" r="7.5" fill="#d62f6a"/><circle cx="298" cy="2213" r="2.0" fill="#9dbcb8"/><circle cx="209" cy="2133" r="2.0" fill="#9dbcb8"/><circle cx="442" cy="2228" r="2.0" fill="#9dbcb8"/><circle cx="202" cy="2165" r="2.0" fill="#9dbcb8"/><circle cx="475" cy="2278" r="2.0" fill="#9dbcb8"/><circle cx="340" cy="2208" r="3.3" fill="#bcd0b4"/><circle cx="278" cy="2286" r="1.3" fill="#1e2f36"/><circle cx="324" cy="2352" r="6.9" fill="#e58a9e"/><circle cx="272" cy="2345" r="2.0" fill="#9dbcb8"/><circle cx="243" cy="2335" r="2.0" fill="#9dbcb8"/><circle cx="350" cy="2140" r="2.0" fill="#9dbcb8"/><circle cx="223" cy="2346" r="2.0" fill="#9dbcb8"/><circle cx="348" cy="2222" r="2.0" fill="#9dbcb8"/><circle cx="278" cy="2396" r="2.0" fill="#9dbcb8"/><circle cx="220" cy="2151" r="2.0" fill="#9dbcb8"/><circle cx="164" cy="2152" r="2.0" fill="#9dbcb8"/><circle cx="347" cy="2286" r="6.9" fill="#e58a9e"/><circle cx="308" cy="2365" r="5.0" fill="#eef0b4"/><circle cx="465" cy="2145" r="2.0" fill="#9dbcb8"/><circle cx="395" cy="2381" r="6.9" fill="#e58a9e"/><circle cx="406" cy="2339" r="6.9" fill="#e58a9e"/><circle cx="216" cy="2273" r="3.3" fill="#bcd0b4"/><circle cx="403" cy="2237" r="1.3" fill="#1e2f36"/><circle cx="321" cy="2384" r="5.0" fill="#eef0b4"/><circle cx="447" cy="2397" r="2.0" fill="#9dbcb8"/><circle cx="340" cy="2359" r="5.0" fill="#eef0b4"/><circle cx="330" cy="2262" r="6.4" fill="#f0c6ae"/><circle cx="361" cy="2247" r="3.3" fill="#bcd0b4"/><circle cx="206" cy="2298" r="3.3" fill="#bcd0b4"/><circle cx="430" cy="2142" r="2.0" fill="#9dbcb8"/><circle cx="429" cy="2430" r="2.0" fill="#9dbcb8"/><circle cx="492" cy="2306" r="1.3" fill="#1e2f36"/><circle cx="281" cy="2150" r="2.0" fill="#9dbcb8"/><circle cx="306" cy="2313" r="5.0" fill="#eef0b4"/><circle cx="413" cy="2277" r="6.9" fill="#e58a9e"/><circle cx="294" cy="2160" r="1.3" fill="#1e2f36"/><circle cx="432" cy="2288" r="5.0" fill="#eef0b4"/><circle cx="423" cy="2182" r="2.0" fill="#9dbcb8"/><circle cx="407" cy="2135" r="2.0" fill="#9dbcb8"/><circle cx="428" cy="2334" r="6.9" fill="#e58a9e"/><circle cx="403" cy="2356" r="6.4" fill="#f0c6ae"/><circle cx="239" cy="2262" r="3.3" fill="#bcd0b4"/><circle cx="344" cy="2301" r="5.0" fill="#eef0b4"/><circle cx="221" cy="2191" r="2.0" fill="#9dbcb8"/><circle cx="242" cy="2163" r="2.0" fill="#9dbcb8"/><circle cx="498" cy="2270" r="2.0" fill="#9dbcb8"/><circle cx="180" cy="2148" r="2.0" fill="#9dbcb8"/><circle cx="382" cy="2418" r="2.0" fill="#9dbcb8"/><circle cx="176" cy="2180" r="2.0" fill="#9dbcb8"/><circle cx="410" cy="2160" r="2.0" fill="#9dbcb8"/><circle cx="342" cy="2436" r="2.0" fill="#9dbcb8"/><circle cx="259" cy="2373" r="2.0" fill="#9dbcb8"/><circle cx="218" cy="2251" r="2.0" fill="#9dbcb8"/><circle cx="294" cy="2300" r="5.0" fill="#eef0b4"/><circle cx="413" cy="2372" r="6.9" fill="#e58a9e"/><circle cx="381" cy="2291" r="5.0" fill="#eef0b4"/><circle cx="480" cy="2395" r="2.0" fill="#9dbcb8"/><circle cx="491" cy="2213" r="2.0" fill="#9dbcb8"/><circle cx="415" cy="2246" r="3.3" fill="#bcd0b4"/><circle cx="457" cy="2222" r="2.0" fill="#9dbcb8"/><circle cx="435" cy="2378" r="2.0" fill="#9dbcb8"/><circle cx="250" cy="2299" r="3.3" fill="#bcd0b4"/><circle cx="487" cy="2329" r="2.0" fill="#9dbcb8"/><circle cx="291" cy="2337" r="5.0" fill="#eef0b4"/><circle cx="399" cy="2421" r="2.0" fill="#9dbcb8"/><circle cx="381" cy="2348" r="7.5" fill="#d62f6a"/><circle cx="359" cy="2303" r="6.9" fill="#e58a9e"/><circle cx="342" cy="2236" r="2.0" fill="#9dbcb8"/><circle cx="327" cy="2329" r="6.9" fill="#e58a9e"/><circle cx="468" cy="2181" r="1.3" fill="#1e2f36"/><circle cx="245" cy="2283" r="2.0" fill="#9dbcb8"/><circle cx="420" cy="2398" r="2.0" fill="#9dbcb8"/><circle cx="245" cy="2131" r="2.0" fill="#9dbcb8"/><circle cx="396" cy="2284" r="7.5" fill="#d62f6a"/><circle cx="477" cy="2308" r="2.0" fill="#9dbcb8"/><circle cx="342" cy="2335" r="6.9" fill="#e58a9e"/><circle cx="301" cy="2134" r="3.3" fill="#bcd0b4"/><circle cx="438" cy="2313" r="7.5" fill="#d62f6a"/><circle cx="263" cy="2208" r="2.0" fill="#9dbcb8"/><circle cx="445" cy="2176" r="2.0" fill="#9dbcb8"/><circle cx="371" cy="2147" r="2.0" fill="#9dbcb8"/><circle cx="288" cy="2274" r="2.0" fill="#9dbcb8"/><circle cx="469" cy="2412" r="1.3" fill="#1e2f36"/><circle cx="180" cy="2264" r="3.3" fill="#bcd0b4"/><circle cx="255" cy="2154" r="2.0" fill="#9dbcb8"/><circle cx="443" cy="2155" r="2.0" fill="#9dbcb8"/><circle cx="430" cy="2272" r="6.9" fill="#e58a9e"/><circle cx="374" cy="2226" r="1.3" fill="#1e2f36"/><circle cx="318" cy="2145" r="2.0" fill="#9dbcb8"/><circle cx="210" cy="2325" r="2.0" fill="#9dbcb8"/><circle cx="382" cy="2131" r="2.0" fill="#9dbcb8"/><circle cx="462" cy="2317" r="7.5" fill="#d62f6a"/><circle cx="446" cy="2417" r="2.0" fill="#9dbcb8"/><circle cx="287" cy="2203" r="2.0" fill="#9dbcb8"/><circle cx="359" cy="2354" r="6.9" fill="#e58a9e"/><circle cx="338" cy="2175" r="2.0" fill="#9dbcb8"/><circle cx="487" cy="2241" r="2.0" fill="#9dbcb8"/><circle cx="304" cy="2277" r="2.0" fill="#9dbcb8"/><circle cx="447" cy="2329" r="7.5" fill="#d62f6a"/><circle cx="402" cy="2402" r="2.0" fill="#9dbcb8"/><circle cx="467" cy="2257" r="2.0" fill="#9dbcb8"/><circle cx="344" cy="2320" r="7.5" fill="#d62f6a"/><circle cx="279" cy="2256" r="2.0" fill="#9dbcb8"/><circle cx="395" cy="2146" r="3.3" fill="#bcd0b4"/><circle cx="244" cy="2201" r="2.0" fill="#9dbcb8"/><circle cx="252" cy="2223" r="2.0" fill="#9dbcb8"/><circle cx="418" cy="2209" r="1.3" fill="#1e2f36"/><circle cx="352" cy="2423" r="2.0" fill="#9dbcb8"/><circle cx="210" cy="2232" r="2.0" fill="#9dbcb8"/><circle cx="439" cy="2195" r="2.0" fill="#9dbcb8"/><circle cx="261" cy="2278" r="2.0" fill="#9dbcb8"/><circle cx="485" cy="2137" r="2.0" fill="#9dbcb8"/><circle cx="453" cy="2245" r="2.0" fill="#9dbcb8"/><circle cx="313" cy="2291" r="6.9" fill="#e58a9e"/><circle cx="485" cy="2291" r="2.0" fill="#9dbcb8"/><circle cx="268" cy="2223" r="3.3" fill="#bcd0b4"/><circle cx="289" cy="2406" r="2.0" fill="#9dbcb8"/><circle cx="386" cy="2178" r="2.0" fill="#9dbcb8"/><circle cx="304" cy="2149" r="2.0" fill="#9dbcb8"/><circle cx="186" cy="2166" r="2.0" fill="#9dbcb8"/><circle cx="343" cy="2375" r="6.9" fill="#e58a9e"/><circle cx="351" cy="2268" r="6.4" fill="#f0c6ae"/><circle cx="250" cy="2238" r="3.3" fill="#bcd0b4"/><circle cx="488" cy="2380" r="2.0" fill="#9dbcb8"/><circle cx="245" cy="2313" r="2.0" fill="#9dbcb8"/><circle cx="335" cy="2395" r="1.3" fill="#1e2f36"/><circle cx="442" cy="2129" r="2.0" fill="#9dbcb8"/><circle cx="485" cy="2183" r="3.3" fill="#bcd0b4"/><circle cx="165" cy="2212" r="2.0" fill="#9dbcb8"/><circle cx="353" cy="2190" r="2.0" fill="#9dbcb8"/><circle cx="391" cy="2442" r="2.0" fill="#9dbcb8"/><circle cx="381" cy="2322" r="5.0" fill="#eef0b4"/><circle cx="371" cy="2187" r="2.0" fill="#9dbcb8"/><circle cx="268" cy="2169" r="2.0" fill="#9dbcb8"/><circle cx="388" cy="2264" r="3.3" fill="#bcd0b4"/><circle cx="385" cy="2163" r="2.0" fill="#9dbcb8"/><circle cx="326" cy="2431" r="3.3" fill="#bcd0b4"/><circle cx="363" cy="2333" r="6.9" fill="#e58a9e"/><circle cx="224" cy="2134" r="2.0" fill="#9dbcb8"/><circle cx="237" cy="2148" r="2.0" fill="#9dbcb8"/><circle cx="242" cy="2363" r="3.3" fill="#bcd0b4"/><circle cx="412" cy="2427" r="2.0" fill="#9dbcb8"/><circle cx="197" cy="2241" r="2.0" fill="#9dbcb8"/><circle cx="311" cy="2399" r="2.0" fill="#9dbcb8"/><circle cx="476" cy="2199" r="2.0" fill="#9dbcb8"/><circle cx="279" cy="2236" r="2.0" fill="#9dbcb8"/><circle cx="332" cy="2223" r="2.0" fill="#9dbcb8"/><circle cx="358" cy="2408" r="3.3" fill="#bcd0b4"/><circle cx="458" cy="2201" r="1.3" fill="#1e2f36"/><circle cx="227" cy="2325" r="2.0" fill="#9dbcb8"/><circle cx="330" cy="2129" r="2.0" fill="#9dbcb8"/><circle cx="347" cy="2157" r="2.0" fill="#9dbcb8"/><circle cx="220" cy="2221" r="2.0" fill="#9dbcb8"/><circle cx="198" cy="2192" r="2.0" fill="#9dbcb8"/><circle cx="423" cy="2360" r="6.9" fill="#e58a9e"/><circle cx="381" cy="2373" r="6.9" fill="#e58a9e"/><circle cx="432" cy="2169" r="2.0" fill="#9dbcb8"/><circle cx="330" cy="2310" r="6.9" fill="#e58a9e"/><circle cx="372" cy="2432" r="2.0" fill="#9dbcb8"/><circle cx="330" cy="2156" r="2.0" fill="#9dbcb8"/><circle cx="280" cy="2128" r="1.3" fill="#1e2f36"/><circle cx="255" cy="2351" r="2.0" fill="#9dbcb8"/><circle cx="473" cy="2216" r="2.0" fill="#9dbcb8"/><circle cx="287" cy="2363" r="2.0" fill="#9dbcb8"/><circle cx="463" cy="2343" r="7.5" fill="#d62f6a"/><circle cx="180" cy="2209" r="2.0" fill="#9dbcb8"/><circle cx="492" cy="2256" r="2.0" fill="#9dbcb8"/><circle cx="388" cy="2203" r="2.0" fill="#9dbcb8"/><circle cx="202" cy="2261" r="2.0" fill="#9dbcb8"/><circle cx="302" cy="2351" r="6.4" fill="#f0c6ae"/><circle cx="332" cy="2291" r="6.9" fill="#e58a9e"/><circle cx="414" cy="2293" r="7.5" fill="#d62f6a"/><circle cx="474" cy="2374" r="2.0" fill="#9dbcb8"/><circle cx="380" cy="2306" r="6.9" fill="#e58a9e"/><circle cx="209" cy="2211" r="2.0" fill="#9dbcb8"/><circle cx="299" cy="2379" r="2.0" fill="#9dbcb8"/><circle cx="193" cy="2139" r="2.0" fill="#9dbcb8"/><circle cx="490" cy="2199" r="3.3" fill="#bcd0b4"/><circle cx="363" cy="2318" r="6.9" fill="#e58a9e"/><circle cx="482" cy="2167" r="1.3" fill="#1e2f36"/><circle cx="268" cy="2298" r="3.3" fill="#bcd0b4"/><circle cx="410" cy="2443" r="2.0" fill="#9dbcb8"/><circle cx="161" cy="2133" r="2.0" fill="#9dbcb8"/><circle cx="262" cy="2333" r="1.3" fill="#1e2f36"/><circle cx="311" cy="2329" r="6.4" fill="#f0c6ae"/><circle cx="238" cy="2180" r="2.0" fill="#9dbcb8"/><circle cx="316" cy="2228" r="2.0" fill="#9dbcb8"/><circle cx="274" cy="2191" r="2.0" fill="#9dbcb8"/><circle cx="452" cy="2273" r="3.3" fill="#bcd0b4"/><circle cx="463" cy="2390" r="2.0" fill="#9dbcb8"/><circle cx="310" cy="2422" r="2.0" fill="#9dbcb8"/><circle cx="491" cy="2360" r="2.0" fill="#9dbcb8"/><circle cx="221" cy="2311" r="1.3" fill="#1e2f36"/><circle cx="390" cy="2334" r="6.9" fill="#e58a9e"/><circle cx="432" cy="2245" r="2.0" fill="#9dbcb8"/><circle cx="325" cy="2367" r="5.0" fill="#eef0b4"/><circle cx="470" cy="2329" r="7.5" fill="#d62f6a"/><circle cx="445" cy="2209" r="3.3" fill="#bcd0b4"/><circle cx="475" cy="2232" r="2.0" fill="#9dbcb8"/><circle cx="494" cy="2153" r="2.0" fill="#9dbcb8"/><circle cx="199" cy="2277" r="2.0" fill="#9dbcb8"/><circle cx="419" cy="2413" r="2.0" fill="#9dbcb8"/><circle cx="225" cy="2234" r="2.0" fill="#9dbcb8"/><circle cx="261" cy="2315" r="1.3" fill="#1e2f36"/><circle cx="405" cy="2179" r="3.3" fill="#bcd0b4"/><circle cx="391" cy="2250" r="5.0" fill="#eef0b4"/><circle cx="316" cy="2193" r="2.0" fill="#9dbcb8"/><circle cx="225" cy="2173" r="2.0" fill="#9dbcb8"/><circle cx="343" cy="2255" r="6.4" fill="#f0c6ae"/><circle cx="238" cy="2227" r="1.3" fill="#1e2f36"/><circle cx="243" cy="2378" r="2.0" fill="#9dbcb8"/><circle cx="452" cy="2304" r="5.0" fill="#eef0b4"/><circle cx="169" cy="2167" r="2.0" fill="#9dbcb8"/><circle cx="196" cy="2217" r="3.3" fill="#bcd0b4"/><circle cx="415" cy="2307" r="6.4" fill="#f0c6ae"/><circle cx="342" cy="2409" r="2.0" fill="#9dbcb8"/><circle cx="202" cy="2312" r="2.0" fill="#9dbcb8"/><circle cx="496" cy="2341" r="2.0" fill="#9dbcb8"/><circle cx="368" cy="2262" r="5.0" fill="#eef0b4"/><circle cx="464" cy="2129" r="2.0" fill="#9dbcb8"/><circle cx="404" cy="2258" r="5.0" fill="#eef0b4"/><circle cx="352" cy="2392" r="2.0" fill="#9dbcb8"/><circle cx="331" cy="2196" r="3.3" fill="#bcd0b4"/><circle cx="358" cy="2441" r="2.0" fill="#9dbcb8"/><circle cx="267" cy="2145" r="2.0" fill="#9dbcb8"/><circle cx="319" cy="2275" r="6.9" fill="#e58a9e"/><circle cx="479" cy="2151" r="2.0" fill="#9dbcb8"/><circle cx="230" cy="2210" r="2.0" fill="#9dbcb8"/><circle cx="177" cy="2249" r="2.0" fill="#9dbcb8"/><circle cx="388" cy="2400" r="2.0" fill="#9dbcb8"/><circle cx="168" cy="2196" r="2.0" fill="#9dbcb8"/><circle cx="364" cy="2132" r="2.0" fill="#9dbcb8"/><circle cx="389" cy="2231" r="2.0" fill="#9dbcb8"/><circle cx="276" cy="2380" r="2.0" fill="#9dbcb8"/><circle cx="236" cy="2245" r="2.0" fill="#9dbcb8"/><circle cx="466" cy="2294" r="2.0" fill="#9dbcb8"/><circle cx="209" cy="2178" r="2.0" fill="#9dbcb8"/><circle cx="270" cy="2267" r="2.0" fill="#9dbcb8"/><circle cx="190" cy="2292" r="2.0" fill="#9dbcb8"/><circle cx="440" cy="2363" r="7.5" fill="#d62f6a"/><circle cx="357" cy="2205" r="2.0" fill="#9dbcb8"/><circle cx="364" cy="2290" r="6.4" fill="#f0c6ae"/><circle cx="361" cy="2233" r="2.0" fill="#9dbcb8"/><circle cx="498" cy="2229" r="3.3" fill="#bcd0b4"/><circle cx="412" cy="2223" r="2.0" fill="#9dbcb8"/><circle cx="284" cy="2220" r="2.0" fill="#9dbcb8"/><circle cx="449" cy="2142" r="2.0" fill="#9dbcb8"/><circle cx="422" cy="2129" r="2.0" fill="#9dbcb8"/><circle cx="232" cy="2276" r="2.0" fill="#9dbcb8"/><circle cx="315" cy="2129" r="2.0" fill="#9dbcb8"/><circle cx="433" cy="2408" r="2.0" fill="#9dbcb8"/><circle cx="167" cy="2226" r="2.0" fill="#9dbcb8"/><circle cx="319" cy="2260" r="3.3" fill="#bcd0b4"/><circle cx="333" cy="2343" r="5.0" fill="#eef0b4"/><circle cx="358" cy="2278" r="6.4" fill="#f0c6ae"/><circle cx="400" cy="2368" r="3.3" fill="#bcd0b4"/><circle cx="292" cy="2320" r="3.3" fill="#bcd0b4"/><circle cx="435" cy="2325" r="6.9" fill="#e58a9e"/><circle cx="412" cy="2387" r="2.0" fill="#9dbcb8"/><circle cx="278" cy="2305" r="5.0" fill="#eef0b4"/><circle cx="429" cy="2301" r="5.0" fill="#eef0b4"/><circle cx="378" cy="2387" r="3.3" fill="#bcd0b4"/><circle cx="294" cy="2285" r="5.0" fill="#eef0b4"/><circle cx="424" cy="2320" r="7.5" fill="#d62f6a"/><circle cx="418" cy="2343" r="6.9" fill="#e58a9e"/><circle cx="397" cy="2296" r="6.9" fill="#e58a9e"/><circle cx="354" cy="2366" r="3.3" fill="#bcd0b4"/><circle cx="314" cy="2342" r="5.0" fill="#eef0b4"/><circle cx="402" cy="2272" r="6.4" fill="#f0c6ae"/><circle cx="338" cy="2276" r="6.9" fill="#e58a9e"/><circle cx="332" cy="2382" r="5.0" fill="#eef0b4"/><circle cx="375" cy="2338" r="5.0" fill="#eef0b4"/><circle cx="321" cy="2301" r="7.5" fill="#d62f6a"/><circle cx="369" cy="2363" r="5.0" fill="#eef0b4"/><circle cx="454" cy="2358" r="7.5" fill="#d62f6a"/><circle cx="317" cy="2318" r="7.5" fill="#d62f6a"/><circle cx="366" cy="2389" r="3.3" fill="#bcd0b4"/><circle cx="398" cy="2325" r="6.4" fill="#f0c6ae"/><circle cx="303" cy="2338" r="6.4" fill="#f0c6ae"/><circle cx="442" cy="2281" r="6.4" fill="#f0c6ae"/><circle cx="350" cy="2344" r="5.0" fill="#eef0b4"/><circle cx="311" cy="2376" r="5.0" fill="#eef0b4"/><circle cx="286" cy="2351" r="5.0" fill="#eef0b4"/><circle cx="394" cy="2346" r="7.5" fill="#d62f6a"/><circle cx="462" cy="2281" r="5.0" fill="#eef0b4"/><circle cx="385" cy="2276" r="5.0" fill="#eef0b4"/><circle cx="387" cy="2362" r="3.3" fill="#bcd0b4"/><circle cx="429" cy="2348" r="6.9" fill="#e58a9e"/><circle cx="424" cy="2383" r="3.3" fill="#bcd0b4"/><circle cx="278" cy="2334" r="3.3" fill="#bcd0b4"/><circle cx="717" cy="2351" r="2.0" fill="#9dbcb8"/><circle cx="742" cy="2126" r="2.0" fill="#9dbcb8"/><circle cx="564" cy="2303" r="2.0" fill="#9dbcb8"/><circle cx="690" cy="2385" r="2.0" fill="#9dbcb8"/><circle cx="738" cy="2240" r="5.0" fill="#eef0b4"/><circle cx="541" cy="2363" r="2.0" fill="#9dbcb8"/><circle cx="514" cy="2300" r="1.3" fill="#1e2f36"/><circle cx="678" cy="2420" r="2.0" fill="#9dbcb8"/><circle cx="576" cy="2322" r="3.3" fill="#bcd0b4"/><circle cx="626" cy="2132" r="2.0" fill="#9dbcb8"/><circle cx="678" cy="2346" r="2.0" fill="#9dbcb8"/><circle cx="573" cy="2247" r="2.0" fill="#9dbcb8"/><circle cx="615" cy="2307" r="2.0" fill="#9dbcb8"/><circle cx="675" cy="2268" r="2.0" fill="#9dbcb8"/><circle cx="604" cy="2410" r="5.0" fill="#eef0b4"/><circle cx="529" cy="2142" r="2.0" fill="#9dbcb8"/><circle cx="724" cy="2390" r="2.0" fill="#9dbcb8"/><circle cx="657" cy="2281" r="2.0" fill="#9dbcb8"/><circle cx="652" cy="2171" r="3.3" fill="#bcd0b4"/><circle cx="656" cy="2336" r="2.0" fill="#9dbcb8"/><circle cx="522" cy="2397" r="2.0" fill="#9dbcb8"/><circle cx="515" cy="2436" r="1.3" fill="#1e2f36"/><circle cx="756" cy="2137" r="3.3" fill="#bcd0b4"/><circle cx="685" cy="2286" r="3.3" fill="#bcd0b4"/><circle cx="774" cy="2224" r="5.0" fill="#eef0b4"/><circle cx="622" cy="2211" r="1.3" fill="#1e2f36"/><circle cx="562" cy="2222" r="2.0" fill="#9dbcb8"/><circle cx="547" cy="2196" r="2.0" fill="#9dbcb8"/><circle cx="663" cy="2372" r="2.0" fill="#9dbcb8"/><circle cx="713" cy="2201" r="3.3" fill="#bcd0b4"/><circle cx="516" cy="2330" r="2.0" fill="#9dbcb8"/><circle cx="796" cy="2122" r="2.0" fill="#9dbcb8"/><circle cx="654" cy="2241" r="2.0" fill="#9dbcb8"/><circle cx="535" cy="2343" r="1.3" fill="#1e2f36"/><circle cx="545" cy="2274" r="2.0" fill="#9dbcb8"/><circle cx="534" cy="2253" r="2.0" fill="#9dbcb8"/><circle cx="563" cy="2350" r="2.0" fill="#9dbcb8"/><circle cx="688" cy="2306" r="3.3" fill="#bcd0b4"/><circle cx="750" cy="2323" r="2.0" fill="#9dbcb8"/><circle cx="666" cy="2157" r="2.0" fill="#9dbcb8"/><circle cx="535" cy="2385" r="3.3" fill="#bcd0b4"/><circle cx="571" cy="2381" r="5.0" fill="#eef0b4"/><circle cx="786" cy="2194" r="2.0" fill="#9dbcb8"/><circle cx="498" cy="2126" r="2.0" fill="#9dbcb8"/><circle cx="609" cy="2396" r="2.0" fill="#9dbcb8"/><circle cx="542" cy="2166" r="3.3" fill="#bcd0b4"/><circle cx="684" cy="2365" r="2.0" fill="#9dbcb8"/><circle cx="573" cy="2209" r="1.3" fill="#1e2f36"/><circle cx="793" cy="2210" r="2.0" fill="#9dbcb8"/><circle cx="686" cy="2142" r="2.0" fill="#9dbcb8"/><circle cx="700" cy="2255" r="2.0" fill="#9dbcb8"/><circle cx="716" cy="2247" r="3.3" fill="#bcd0b4"/><circle cx="648" cy="2419" r="2.0" fill="#9dbcb8"/><circle cx="733" cy="2339" r="2.0" fill="#9dbcb8"/><circle cx="773" cy="2343" r="2.0" fill="#9dbcb8"/><circle cx="601" cy="2330" r="2.0" fill="#9dbcb8"/><circle cx="592" cy="2367" r="2.0" fill="#9dbcb8"/><circle cx="513" cy="2168" r="2.0" fill="#9dbcb8"/><circle cx="653" cy="2402" r="2.0" fill="#9dbcb8"/><circle cx="681" cy="2159" r="2.0" fill="#9dbcb8"/><circle cx="583" cy="2149" r="2.0" fill="#9dbcb8"/><circle cx="636" cy="2274" r="3.3" fill="#bcd0b4"/><circle cx="521" cy="2357" r="1.3" fill="#1e2f36"/><circle cx="661" cy="2129" r="2.0" fill="#9dbcb8"/><circle cx="797" cy="2274" r="2.0" fill="#9dbcb8"/><circle cx="631" cy="2248" r="2.0" fill="#9dbcb8"/><circle cx="725" cy="2327" r="2.0" fill="#9dbcb8"/><circle cx="570" cy="2184" r="1.3" fill="#1e2f36"/><circle cx="732" cy="2157" r="2.0" fill="#9dbcb8"/><circle cx="736" cy="2307" r="2.0" fill="#9dbcb8"/><circle cx="692" cy="2202" r="3.3" fill="#bcd0b4"/><circle cx="791" cy="2259" r="3.3" fill="#bcd0b4"/><circle cx="521" cy="2417" r="1.3" fill="#1e2f36"/><circle cx="816" cy="2191" r="2.0" fill="#9dbcb8"/><circle cx="587" cy="2163" r="3.3" fill="#bcd0b4"/><circle cx="646" cy="2222" r="2.0" fill="#9dbcb8"/><circle cx="706" cy="2416" r="2.0" fill="#9dbcb8"/><circle cx="806" cy="2147" r="2.0" fill="#9dbcb8"/><circle cx="644" cy="2326" r="2.0" fill="#9dbcb8"/><circle cx="624" cy="2434" r="3.3" fill="#bcd0b4"/><circle cx="660" cy="2429" r="2.0" fill="#9dbcb8"/><circle cx="748" cy="2288" r="2.0" fill="#9dbcb8"/><circle cx="795" cy="2171" r="2.0" fill="#9dbcb8"/><circle cx="569" cy="2154" r="2.0" fill="#9dbcb8"/><circle cx="697" cy="2188" r="5.0" fill="#eef0b4"/><circle cx="746" cy="2261" r="2.0" fill="#9dbcb8"/><circle cx="585" cy="2237" r="2.0" fill="#9dbcb8"/><circle cx="546" cy="2436" r="5.0" fill="#eef0b4"/><circle cx="607" cy="2424" r="2.0" fill="#9dbcb8"/><circle cx="629" cy="2400" r="1.3" fill="#1e2f36"/><circle cx="750" cy="2210" r="3.3" fill="#bcd0b4"/><circle cx="594" cy="2303" r="2.0" fill="#9dbcb8"/><circle cx="556" cy="2242" r="2.0" fill="#9dbcb8"/><circle cx="528" cy="2372" r="2.0" fill="#9dbcb8"/><circle cx="771" cy="2141" r="3.3" fill="#bcd0b4"/><circle cx="613" cy="2169" r="1.3" fill="#1e2f36"/><circle cx="709" cy="2232" r="3.3" fill="#bcd0b4"/><circle cx="794" cy="2294" r="2.0" fill="#9dbcb8"/><circle cx="745" cy="2225" r="5.4" fill="#efc39a"/><circle cx="650" cy="2308" r="2.0" fill="#9dbcb8"/><circle cx="632" cy="2342" r="2.0" fill="#9dbcb8"/><circle cx="706" cy="2169" r="2.0" fill="#9dbcb8"/><circle cx="565" cy="2265" r="2.0" fill="#9dbcb8"/><circle cx="589" cy="2259" r="2.0" fill="#9dbcb8"/><circle cx="534" cy="2306" r="2.0" fill="#9dbcb8"/><circle cx="512" cy="2134" r="2.0" fill="#9dbcb8"/><circle cx="657" cy="2205" r="3.3" fill="#bcd0b4"/><circle cx="668" cy="2237" r="2.0" fill="#9dbcb8"/><circle cx="563" cy="2433" r="5.0" fill="#eef0b4"/><circle cx="506" cy="2424" r="2.0" fill="#9dbcb8"/><circle cx="716" cy="2291" r="1.3" fill="#1e2f36"/><circle cx="599" cy="2280" r="2.0" fill="#9dbcb8"/><circle cx="613" cy="2139" r="3.3" fill="#bcd0b4"/><circle cx="775" cy="2121" r="2.0" fill="#9dbcb8"/><circle cx="522" cy="2198" r="2.0" fill="#9dbcb8"/><circle cx="611" cy="2223" r="1.3" fill="#1e2f36"/><circle cx="711" cy="2186" r="2.0" fill="#9dbcb8"/><circle cx="511" cy="2250" r="2.0" fill="#9dbcb8"/><circle cx="743" cy="2180" r="3.3" fill="#bcd0b4"/><circle cx="704" cy="2134" r="2.0" fill="#9dbcb8"/><circle cx="608" cy="2202" r="3.3" fill="#bcd0b4"/><circle cx="778" cy="2321" r="2.0" fill="#9dbcb8"/><circle cx="651" cy="2155" r="2.0" fill="#9dbcb8"/><circle cx="723" cy="2276" r="2.0" fill="#9dbcb8"/><circle cx="706" cy="2302" r="2.0" fill="#9dbcb8"/><circle cx="551" cy="2385" r="3.3" fill="#bcd0b4"/><circle cx="765" cy="2266" r="2.0" fill="#9dbcb8"/><circle cx="693" cy="2349" r="2.0" fill="#9dbcb8"/><circle cx="621" cy="2186" r="2.0" fill="#9dbcb8"/><circle cx="816" cy="2237" r="2.0" fill="#9dbcb8"/><circle cx="811" cy="2166" r="2.0" fill="#9dbcb8"/><circle cx="559" cy="2122" r="1.3" fill="#1e2f36"/><circle cx="588" cy="2218" r="2.0" fill="#9dbcb8"/><circle cx="747" cy="2194" r="3.3" fill="#bcd0b4"/><circle cx="604" cy="2379" r="1.3" fill="#1e2f36"/><circle cx="685" cy="2328" r="1.3" fill="#1e2f36"/><circle cx="588" cy="2349" r="2.0" fill="#9dbcb8"/><circle cx="545" cy="2226" r="1.3" fill="#1e2f36"/><circle cx="552" cy="2154" r="2.0" fill="#9dbcb8"/><circle cx="535" cy="2407" r="5.0" fill="#eef0b4"/><circle cx="780" cy="2158" r="2.0" fill="#9dbcb8"/><circle cx="728" cy="2370" r="1.3" fill="#1e2f36"/><circle cx="617" cy="2288" r="2.0" fill="#9dbcb8"/><circle cx="749" cy="2354" r="2.0" fill="#9dbcb8"/><circle cx="579" cy="2291" r="2.0" fill="#9dbcb8"/><circle cx="531" cy="2178" r="3.3" fill="#bcd0b4"/><circle cx="727" cy="2121" r="2.0" fill="#9dbcb8"/><circle cx="605" cy="2238" r="2.0" fill="#9dbcb8"/><circle cx="764" cy="2154" r="2.0" fill="#9dbcb8"/><circle cx="651" cy="2382" r="2.0" fill="#9dbcb8"/><circle cx="675" cy="2194" r="3.3" fill="#bcd0b4"/><circle cx="610" cy="2119" r="2.0" fill="#9dbcb8"/><circle cx="690" cy="2409" r="3.3" fill="#bcd0b4"/><circle cx="562" cy="2333" r="2.0" fill="#9dbcb8"/><circle cx="612" cy="2362" r="2.0" fill="#9dbcb8"/><circle cx="583" cy="2194" r="1.3" fill="#1e2f36"/><circle cx="531" cy="2268" r="2.0" fill="#9dbcb8"/><circle cx="618" cy="2334" r="1.3" fill="#1e2f36"/><circle cx="650" cy="2263" r="2.0" fill="#9dbcb8"/><circle cx="704" cy="2320" r="2.0" fill="#9dbcb8"/><circle cx="597" cy="2177" r="3.3" fill="#bcd0b4"/><circle cx="572" cy="2362" r="2.0" fill="#9dbcb8"/><circle cx="530" cy="2119" r="2.0" fill="#9dbcb8"/><circle cx="674" cy="2219" r="2.0" fill="#9dbcb8"/><circle cx="720" cy="2138" r="2.0" fill="#9dbcb8"/><circle cx="776" cy="2241" r="1.3" fill="#1e2f36"/><circle cx="638" cy="2359" r="2.0" fill="#9dbcb8"/><circle cx="692" cy="2125" r="2.0" fill="#9dbcb8"/><circle cx="637" cy="2164" r="1.3" fill="#1e2f36"/><circle cx="563" cy="2411" r="3.3" fill="#bcd0b4"/><circle cx="616" cy="2261" r="2.0" fill="#9dbcb8"/><circle cx="769" cy="2280" r="3.3" fill="#bcd0b4"/><circle cx="550" cy="2258" r="2.0" fill="#9dbcb8"/><circle cx="543" cy="2331" r="1.3" fill="#1e2f36"/><circle cx="802" cy="2225" r="2.0" fill="#9dbcb8"/><circle cx="653" cy="2186" r="2.0" fill="#9dbcb8"/><circle cx="811" cy="2254" r="2.0" fill="#9dbcb8"/><circle cx="692" cy="2223" r="2.0" fill="#9dbcb8"/><circle cx="761" cy="2367" r="3.3" fill="#bcd0b4"/><circle cx="775" cy="2176" r="2.0" fill="#9dbcb8"/><circle cx="805" cy="2202" r="2.0" fill="#9dbcb8"/><circle cx="539" cy="2292" r="2.0" fill="#9dbcb8"/><circle cx="598" cy="2149" r="1.3" fill="#1e2f36"/><circle cx="586" cy="2395" r="5.0" fill="#eef0b4"/><circle cx="559" cy="2141" r="2.0" fill="#9dbcb8"/><circle cx="635" cy="2119" r="2.0" fill="#9dbcb8"/><circle cx="682" cy="2176" r="2.0" fill="#9dbcb8"/><circle cx="640" cy="2292" r="2.0" fill="#9dbcb8"/><circle cx="727" cy="2186" r="3.3" fill="#bcd0b4"/><circle cx="710" cy="2395" r="2.0" fill="#9dbcb8"/><circle cx="629" cy="2418" r="2.0" fill="#9dbcb8"/><circle cx="578" cy="2419" r="5.0" fill="#eef0b4"/><circle cx="628" cy="2225" r="2.0" fill="#9dbcb8"/><circle cx="742" cy="2393" r="2.0" fill="#9dbcb8"/><circle cx="734" cy="2291" r="2.0" fill="#9dbcb8"/><circle cx="742" cy="2375" r="2.0" fill="#9dbcb8"/><circle cx="659" cy="2350" r="2.0" fill="#9dbcb8"/><circle cx="531" cy="2445" r="1.3" fill="#1e2f36"/><circle cx="643" cy="2141" r="2.0" fill="#9dbcb8"/><circle cx="513" cy="2277" r="2.0" fill="#9dbcb8"/><circle cx="751" cy="2163" r="3.3" fill="#bcd0b4"/><circle cx="770" cy="2198" r="5.0" fill="#eef0b4"/><circle cx="558" cy="2207" r="2.0" fill="#9dbcb8"/><circle cx="576" cy="2120" r="2.0" fill="#9dbcb8"/><circle cx="728" cy="2215" r="2.0" fill="#9dbcb8"/><circle cx="700" cy="2371" r="2.0" fill="#9dbcb8"/><circle cx="662" cy="2319" r="2.0" fill="#9dbcb8"/><circle cx="640" cy="2202" r="2.0" fill="#9dbcb8"/><circle cx="752" cy="2339" r="2.0" fill="#9dbcb8"/><circle cx="589" cy="2129" r="3.3" fill="#bcd0b4"/><circle cx="819" cy="2223" r="2.0" fill="#9dbcb8"/><circle cx="773" cy="2304" r="1.3" fill="#1e2f36"/><circle cx="604" cy="2346" r="2.0" fill="#9dbcb8"/><circle cx="673" cy="2394" r="2.0" fill="#9dbcb8"/><circle cx="688" cy="2240" r="2.0" fill="#9dbcb8"/><circle cx="713" cy="2156" r="2.0" fill="#9dbcb8"/><circle cx="712" cy="2264" r="2.0" fill="#9dbcb8"/><circle cx="530" cy="2429" r="2.0" fill="#9dbcb8"/><circle cx="578" cy="2441" r="5.0" fill="#eef0b4"/><circle cx="698" cy="2277" r="2.0" fill="#9dbcb8"/><circle cx="789" cy="2136" r="2.0" fill="#9dbcb8"/><circle cx="522" cy="2223" r="2.0" fill="#9dbcb8"/><circle cx="508" cy="2389" r="2.0" fill="#9dbcb8"/><circle cx="633" cy="2383" r="2.0" fill="#9dbcb8"/><circle cx="753" cy="2274" r="1.3" fill="#1e2f36"/><circle cx="614" cy="2154" r="2.0" fill="#9dbcb8"/><circle cx="510" cy="2345" r="2.0" fill="#9dbcb8"/><circle cx="794" cy="2241" r="2.0" fill="#9dbcb8"/><circle cx="639" cy="2432" r="2.0" fill="#9dbcb8"/><circle cx="758" cy="2181" r="5.0" fill="#eef0b4"/><circle cx="556" cy="2319" r="3.3" fill="#bcd0b4"/><circle cx="780" cy="2270" r="1.3" fill="#1e2f36"/><circle cx="672" cy="2307" r="2.0" fill="#9dbcb8"/><circle cx="567" cy="2281" r="2.0" fill="#9dbcb8"/><circle cx="536" cy="2213" r="2.0" fill="#9dbcb8"/><circle cx="707" cy="2119" r="3.3" fill="#bcd0b4"/><circle cx="537" cy="2239" r="3.3" fill="#bcd0b4"/><circle cx="738" cy="2142" r="3.3" fill="#bcd0b4"/><circle cx="509" cy="2408" r="2.0" fill="#9dbcb8"/><circle cx="759" cy="2299" r="3.3" fill="#bcd0b4"/><circle cx="757" cy="2236" r="3.3" fill="#bcd0b4"/><circle cx="599" cy="2439" r="2.0" fill="#9dbcb8"/><circle cx="560" cy="2371" r="3.3" fill="#bcd0b4"/><circle cx="723" cy="2171" r="5.0" fill="#eef0b4"/><circle cx="542" cy="2134" r="2.0" fill="#9dbcb8"/><circle cx="699" cy="2335" r="3.3" fill="#bcd0b4"/><circle cx="553" cy="2182" r="2.0" fill="#9dbcb8"/><circle cx="793" cy="2309" r="2.0" fill="#9dbcb8"/><circle cx="724" cy="2231" r="5.0" fill="#eef0b4"/><circle cx="570" cy="2169" r="2.0" fill="#9dbcb8"/><circle cx="699" cy="2153" r="2.0" fill="#9dbcb8"/><circle cx="511" cy="2235" r="2.0" fill="#9dbcb8"/><circle cx="517" cy="2315" r="2.0" fill="#9dbcb8"/><circle cx="548" cy="2399" r="3.3" fill="#bcd0b4"/><circle cx="514" cy="2152" r="3.3" fill="#bcd0b4"/><circle cx="630" cy="2311" r="2.0" fill="#9dbcb8"/><circle cx="545" cy="2420" r="3.3" fill="#bcd0b4"/><circle cx="784" cy="2284" r="3.3" fill="#bcd0b4"/><circle cx="719" cy="2311" r="2.0" fill="#9dbcb8"/><circle cx="704" cy="2215" r="5.0" fill="#eef0b4"/><circle cx="517" cy="2183" r="2.0" fill="#9dbcb8"/><circle cx="731" cy="2257" r="5.0" fill="#eef0b4"/><circle cx="659" cy="2297" r="2.0" fill="#9dbcb8"/><circle cx="586" cy="2335" r="2.0" fill="#9dbcb8"/><circle cx="509" cy="2212" r="2.0" fill="#9dbcb8"/><circle cx="514" cy="2117" r="2.0" fill="#9dbcb8"/><circle cx="676" cy="2126" r="1.3" fill="#1e2f36"/><circle cx="678" cy="2252" r="2.0" fill="#9dbcb8"/><circle cx="651" cy="2119" r="3.3" fill="#bcd0b4"/><circle cx="568" cy="2396" r="5.0" fill="#eef0b4"/><circle cx="757" cy="2120" r="2.0" fill="#9dbcb8"/><circle cx="732" cy="2355" r="2.0" fill="#9dbcb8"/><circle cx="722" cy="2409" r="3.3" fill="#bcd0b4"/><circle cx="625" cy="2372" r="2.0" fill="#9dbcb8"/><circle cx="715" cy="2376" r="2.0" fill="#9dbcb8"/><circle cx="580" cy="2272" r="2.0" fill="#9dbcb8"/><circle cx="667" cy="2174" r="2.0" fill="#9dbcb8"/><circle cx="589" cy="2409" r="5.0" fill="#eef0b4"/><circle cx="765" cy="2329" r="2.0" fill="#9dbcb8"/><circle cx="572" cy="2134" r="2.0" fill="#9dbcb8"/><circle cx="629" cy="2150" r="2.0" fill="#9dbcb8"/><circle cx="638" cy="2179" r="2.0" fill="#9dbcb8"/><circle cx="530" cy="2324" r="2.0" fill="#9dbcb8"/><circle cx="597" cy="2192" r="3.3" fill="#bcd0b4"/><circle cx="763" cy="2250" r="5.0" fill="#eef0b4"/><circle cx="508" cy="2373" r="1.3" fill="#1e2f36"/><circle cx="811" cy="2133" r="2.0" fill="#9dbcb8"/><circle cx="801" cy="2186" r="2.0" fill="#9dbcb8"/><circle cx="525" cy="2286" r="2.0" fill="#9dbcb8"/><circle cx="527" cy="2158" r="2.0" fill="#9dbcb8"/><circle cx="554" cy="2291" r="2.0" fill="#9dbcb8"/><circle cx="731" cy="2200" r="5.0" fill="#eef0b4"/><circle cx="760" cy="2221" r="2.0" fill="#9dbcb8"/><circle cx="662" cy="2254" r="2.0" fill="#9dbcb8"/><circle cx="820" cy="2207" r="2.0" fill="#9dbcb8"/><circle cx="779" cy="2210" r="5.0" fill="#eef0b4"/><circle cx="668" cy="2409" r="2.0" fill="#9dbcb8"/></g>
<text transform="translate(167.2,1906) rotate(-54.3)" font-size="42.3" text-anchor="middle" dy="15.3">Con / WT</text>
<text transform="translate(825.9,1917.9) rotate(57.8)" font-size="42.5" text-anchor="middle" dy="15.3">HAC / lox8</text>
<text transform="translate(172.5,2337.5) rotate(53.1)" font-size="41.3" text-anchor="middle" dy="15.3">HAC / WT</text>
<text transform="translate(800.1,2349.8) rotate(-52.6)" font-size="42.5" text-anchor="middle" dy="15.3">Con / lox8</text></svg>
</body></html>
